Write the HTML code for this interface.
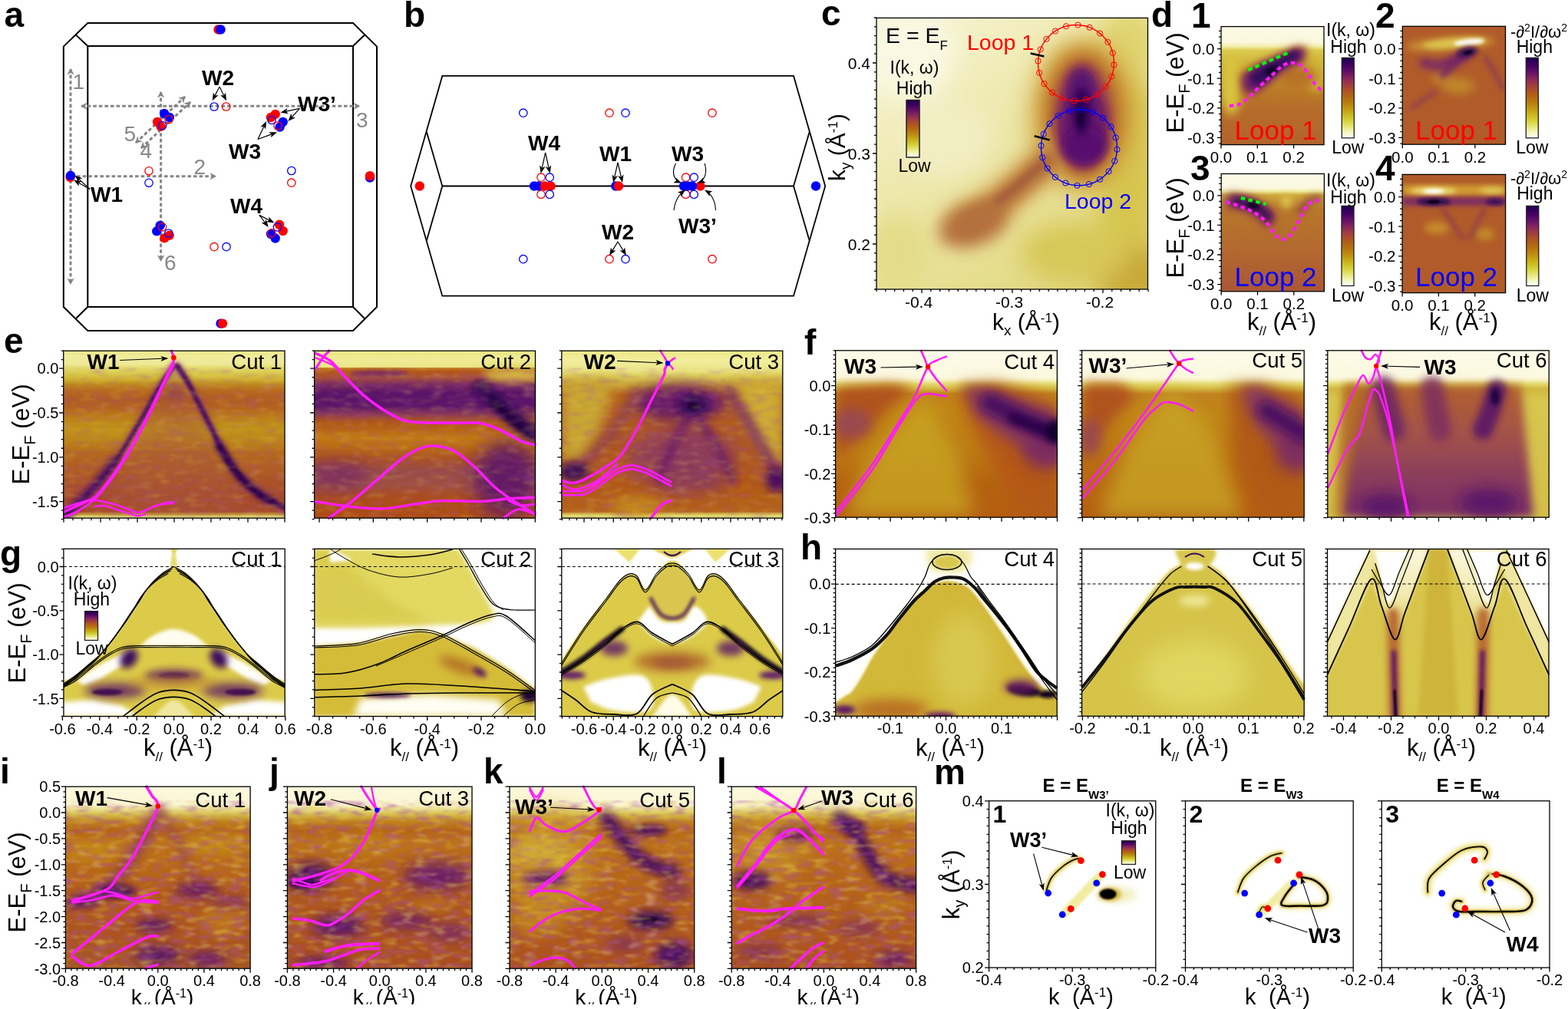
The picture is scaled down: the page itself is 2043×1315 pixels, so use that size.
<!DOCTYPE html>
<html><head><meta charset="utf-8"><title>Figure</title>
<style>html,body{margin:0;padding:0;background:#fff;width:2043px;height:1315px;overflow:hidden}svg{display:block}</style>
</head><body>
<svg width="2043" height="1315" viewBox="0 0 2043 1315" font-family="Liberation Sans, Arial, sans-serif">
<defs>
<linearGradient id="cb" x1="0" y1="0" x2="0" y2="1"><stop offset="0" stop-color="#1e0050"/><stop offset="0.05" stop-color="#300059"/><stop offset="0.1" stop-color="#430261"/><stop offset="0.15" stop-color="#580a67"/><stop offset="0.2" stop-color="#6d1566"/><stop offset="0.25" stop-color="#83245e"/><stop offset="0.3" stop-color="#95324f"/><stop offset="0.35" stop-color="#a33f3e"/><stop offset="0.4" stop-color="#ab4e2a"/><stop offset="0.45" stop-color="#b15d19"/><stop offset="0.5" stop-color="#b56a13"/><stop offset="0.55" stop-color="#ba7910"/><stop offset="0.6" stop-color="#be8b10"/><stop offset="0.65" stop-color="#c39f13"/><stop offset="0.7" stop-color="#c9b419"/><stop offset="0.75" stop-color="#d0c52c"/><stop offset="0.8" stop-color="#d8d642"/><stop offset="0.85" stop-color="#e4e470"/><stop offset="0.9" stop-color="#efefa0"/><stop offset="0.95" stop-color="#f8f8d1"/><stop offset="1" stop-color="#ffffff"/></linearGradient>
<filter id="b0_6" filterUnits="userSpaceOnUse" x="0" y="0" width="2043" height="1315"><feGaussianBlur stdDeviation="0.6"/></filter>
<filter id="b1" filterUnits="userSpaceOnUse" x="0" y="0" width="2043" height="1315"><feGaussianBlur stdDeviation="1"/></filter>
<filter id="b1_5" filterUnits="userSpaceOnUse" x="0" y="0" width="2043" height="1315"><feGaussianBlur stdDeviation="1.5"/></filter>
<filter id="b2" filterUnits="userSpaceOnUse" x="0" y="0" width="2043" height="1315"><feGaussianBlur stdDeviation="2"/></filter>
<filter id="b3" filterUnits="userSpaceOnUse" x="0" y="0" width="2043" height="1315"><feGaussianBlur stdDeviation="3"/></filter>
<filter id="b4" filterUnits="userSpaceOnUse" x="0" y="0" width="2043" height="1315"><feGaussianBlur stdDeviation="4"/></filter>
<filter id="b5" filterUnits="userSpaceOnUse" x="0" y="0" width="2043" height="1315"><feGaussianBlur stdDeviation="5"/></filter>
<filter id="b6" filterUnits="userSpaceOnUse" x="0" y="0" width="2043" height="1315"><feGaussianBlur stdDeviation="6"/></filter>
<filter id="b8" filterUnits="userSpaceOnUse" x="0" y="0" width="2043" height="1315"><feGaussianBlur stdDeviation="8"/></filter>
<filter id="b10" filterUnits="userSpaceOnUse" x="0" y="0" width="2043" height="1315"><feGaussianBlur stdDeviation="10"/></filter>
<filter id="b12" filterUnits="userSpaceOnUse" x="0" y="0" width="2043" height="1315"><feGaussianBlur stdDeviation="12"/></filter>
<filter id="b15" filterUnits="userSpaceOnUse" x="0" y="0" width="2043" height="1315"><feGaussianBlur stdDeviation="15"/></filter>
<filter id="b20" filterUnits="userSpaceOnUse" x="0" y="0" width="2043" height="1315"><feGaussianBlur stdDeviation="20"/></filter>
<marker id="ah" viewBox="0 0 10 10" refX="9" refY="5" markerWidth="7" markerHeight="7" orient="auto-start-reverse"><path d="M0 0L10 5L0 10L3 5z" fill="#000"/></marker>
<marker id="ahg" viewBox="0 0 10 10" refX="8" refY="5" markerWidth="3.3" markerHeight="3.3" orient="auto-start-reverse"><path d="M0 0L10 5L0 10L3 5z" fill="#808080"/></marker>
<filter id="nzd" ><feTurbulence type="fractalNoise" baseFrequency="0.05 0.16" numOctaves="2" seed="7" result="t"/><feColorMatrix in="t" type="matrix" values="0 0 0 0 0.4  0 0 0 0 0.08  0 0 0 0 0.36  2.1 0 0 0 -1.0" result="c"/><feGaussianBlur in="c" stdDeviation="1.3"/></filter>
<filter id="nzl" ><feTurbulence type="fractalNoise" baseFrequency="0.05 0.16" numOctaves="2" seed="7" result="t"/><feColorMatrix in="t" type="matrix" values="0 0 0 0 0.78  0 0 0 0 0.6  0 0 0 0 0.1  0 1.8 0 0 -0.92" result="c"/><feGaussianBlur in="c" stdDeviation="1.3"/></filter>
<clipPath id="cp1"><rect x="1142" y="23.4" width="353.5" height="353.6"/></clipPath>
<linearGradient id="g1" x1="0" y1="0" x2="0.7" y2="1"><stop offset="0" stop-color="#f8f6da"/><stop offset="0.4" stop-color="#efeab2"/><stop offset="1" stop-color="#e2d880"/></linearGradient>
<filter id="b16" filterUnits="userSpaceOnUse" x="0" y="0" width="2043" height="1315"><feGaussianBlur stdDeviation="16"/></filter>
<filter id="b11" filterUnits="userSpaceOnUse" x="0" y="0" width="2043" height="1315"><feGaussianBlur stdDeviation="11"/></filter>
<filter id="b7" filterUnits="userSpaceOnUse" x="0" y="0" width="2043" height="1315"><feGaussianBlur stdDeviation="7"/></filter>
<clipPath id="cp2"><rect x="1591" y="34.6" width="134" height="154"/></clipPath>
<linearGradient id="g2" x1="0" y1="0" x2="0" y2="1"><stop offset="0" stop-color="#fcfae6"/><stop offset="0.13" stop-color="#fbf8dc"/><stop offset="0.17" stop-color="#f2eca8"/><stop offset="0.2" stop-color="#dccc50"/><stop offset="0.35" stop-color="#ccac30"/><stop offset="0.55" stop-color="#ba7a28"/><stop offset="0.7" stop-color="#b66c2a"/><stop offset="1" stop-color="#b2642c"/></linearGradient>
<filter id="b2_5" filterUnits="userSpaceOnUse" x="0" y="0" width="2043" height="1315"><feGaussianBlur stdDeviation="2.5"/></filter>
<clipPath id="cp3"><rect x="1827.3" y="34.3" width="134.2" height="153.9"/></clipPath>
<filter id="b1_2" filterUnits="userSpaceOnUse" x="0" y="0" width="2043" height="1315"><feGaussianBlur stdDeviation="1.2"/></filter>
<clipPath id="cp4"><rect x="1591.2" y="226.5" width="134.2" height="153.3"/></clipPath>
<linearGradient id="g3" x1="0" y1="0" x2="0" y2="1"><stop offset="0" stop-color="#fcfae6"/><stop offset="0.12" stop-color="#fbf8e0"/><stop offset="0.15" stop-color="#f0ea9c"/><stop offset="0.18" stop-color="#cfa83a"/><stop offset="0.3" stop-color="#b8782a"/><stop offset="0.7" stop-color="#b26630"/><stop offset="1" stop-color="#aa5636"/></linearGradient>
<clipPath id="cp5"><rect x="1827.1" y="227.4" width="134.5" height="154.2"/></clipPath>
<clipPath id="cp6"><rect x="82.7" y="457.2" width="288.3" height="218"/></clipPath>
<linearGradient id="g4" x1="0" y1="0" x2="0" y2="1"><stop offset="0" stop-color="#ebe78a"/><stop offset="0.04" stop-color="#f0ec9c"/><stop offset="0.08" stop-color="#eee896"/><stop offset="0.1" stop-color="#e4dc70"/><stop offset="0.14" stop-color="#d8c848"/><stop offset="0.17" stop-color="#d0b432"/><stop offset="0.2" stop-color="#c08a1e"/><stop offset="0.24" stop-color="#b86a1e"/><stop offset="0.29" stop-color="#b05c22"/><stop offset="0.34" stop-color="#b4641e"/><stop offset="0.4" stop-color="#bc8018"/><stop offset="0.47" stop-color="#c09418"/><stop offset="0.54" stop-color="#bc8418"/><stop offset="0.61" stop-color="#b46a1e"/><stop offset="0.7" stop-color="#b05e22"/><stop offset="0.79" stop-color="#aa5228"/><stop offset="0.88" stop-color="#a64a2c"/><stop offset="0.96" stop-color="#a84c2c"/><stop offset="0.98" stop-color="#c8a040"/><stop offset="0.99" stop-color="#e0d878"/><stop offset="1" stop-color="#e8e290"/></linearGradient>
<clipPath id="cp7"><rect x="409.6" y="457.2" width="287.9" height="218"/></clipPath>
<linearGradient id="g5" x1="0" y1="0" x2="0" y2="1"><stop offset="0" stop-color="#eae682"/><stop offset="0.05" stop-color="#f0ec96"/><stop offset="0.1" stop-color="#ebe587"/><stop offset="0.1" stop-color="#c58c26"/><stop offset="0.12" stop-color="#b55814"/><stop offset="0.16" stop-color="#a85038"/><stop offset="0.2" stop-color="#7a2a60"/><stop offset="0.25" stop-color="#5a1468"/><stop offset="0.33" stop-color="#5a1468"/><stop offset="0.38" stop-color="#8a3a58"/><stop offset="0.42" stop-color="#ad541c"/><stop offset="0.48" stop-color="#b96914"/><stop offset="0.52" stop-color="#c17915"/><stop offset="0.58" stop-color="#b96914"/><stop offset="0.65" stop-color="#a95125"/><stop offset="0.72" stop-color="#984a48"/><stop offset="0.8" stop-color="#a05040"/><stop offset="0.9" stop-color="#ad4d17"/><stop offset="1" stop-color="#ad4d17"/></linearGradient>
<clipPath id="cp8"><rect x="731.8" y="457.2" width="288" height="218"/></clipPath>
<linearGradient id="g6" x1="0" y1="0" x2="0" y2="1"><stop offset="0" stop-color="#ece888"/><stop offset="0.06" stop-color="#f2ee9e"/><stop offset="0.12" stop-color="#eae484"/><stop offset="0.15" stop-color="#dcd05a"/><stop offset="0.2" stop-color="#c8a436"/><stop offset="0.26" stop-color="#b56419"/><stop offset="0.5" stop-color="#b15a20"/><stop offset="0.8" stop-color="#b15917"/><stop offset="0.96" stop-color="#b56219"/><stop offset="0.98" stop-color="#dcd060"/><stop offset="1" stop-color="#eae488"/></linearGradient>
<clipPath id="cp9"><rect x="1088.6" y="456.8" width="288.8" height="217.4"/></clipPath>
<linearGradient id="g7" x1="0" y1="0" x2="0" y2="1"><stop offset="0" stop-color="#fdfbe8"/><stop offset="0.16" stop-color="#fcf9e0"/><stop offset="0.18" stop-color="#f4f0b8"/><stop offset="0.2" stop-color="#e4da70"/><stop offset="0.23" stop-color="#d2b840"/><stop offset="0.26" stop-color="#c1811e"/><stop offset="0.35" stop-color="#c18517"/><stop offset="0.6" stop-color="#bd7c15"/><stop offset="0.8" stop-color="#b56310"/><stop offset="1" stop-color="#b55d12"/></linearGradient>
<clipPath id="cp10"><rect x="1409.6" y="456.8" width="289.6" height="217.4"/></clipPath>
<linearGradient id="g8" x1="0" y1="0" x2="0" y2="1"><stop offset="0" stop-color="#fdfbe8"/><stop offset="0.16" stop-color="#fcf9e0"/><stop offset="0.18" stop-color="#f4f0b8"/><stop offset="0.2" stop-color="#e4da70"/><stop offset="0.23" stop-color="#d2b840"/><stop offset="0.26" stop-color="#c18320"/><stop offset="0.4" stop-color="#c18517"/><stop offset="0.7" stop-color="#b96d11"/><stop offset="1" stop-color="#b55d12"/></linearGradient>
<clipPath id="cp11"><rect x="1729.8" y="456.8" width="288.4" height="217.4"/></clipPath>
<linearGradient id="g9" x1="0" y1="0" x2="0" y2="1"><stop offset="0" stop-color="#fdfbe8"/><stop offset="0.16" stop-color="#fcf9e0"/><stop offset="0.18" stop-color="#f4f0b8"/><stop offset="0.2" stop-color="#e4da70"/><stop offset="0.23" stop-color="#d2b840"/><stop offset="0.3" stop-color="#d8c64e"/><stop offset="1" stop-color="#d4be48"/></linearGradient>
<linearGradient id="g10" x1="0" y1="0" x2="0" y2="1"><stop offset="0" stop-color="#b1602d"/><stop offset="0.35" stop-color="#a45448"/><stop offset="0.7" stop-color="#8a3c5c"/><stop offset="1" stop-color="#7a2e64"/></linearGradient>
<filter id="b9" filterUnits="userSpaceOnUse" x="0" y="0" width="2043" height="1315"><feGaussianBlur stdDeviation="9"/></filter>
<clipPath id="cp12"><rect x="82.9" y="715.3" width="288.3" height="218.3"/></clipPath>
<clipPath id="cp13"><rect x="409.8" y="715.3" width="287.5" height="218.3"/></clipPath>
<clipPath id="cp14"><rect x="731.8" y="715.3" width="288" height="218.3"/></clipPath>
<clipPath id="cp15"><rect x="1088.6" y="715.5" width="288.6" height="217.8"/></clipPath>
<clipPath id="cp16"><rect x="1409.6" y="715.5" width="289.6" height="217.8"/></clipPath>
<filter id="b14" filterUnits="userSpaceOnUse" x="0" y="0" width="2043" height="1315"><feGaussianBlur stdDeviation="14"/></filter>
<clipPath id="cp17"><rect x="1729.5" y="715.5" width="288.5" height="217.8"/></clipPath>
<linearGradient id="g11" x1="0" y1="0" x2="0" y2="1"><stop offset="0" stop-color="#fbf7e0"/><stop offset="0.5" stop-color="#f2eab0"/><stop offset="1" stop-color="#dccc58"/></linearGradient>
<clipPath id="cp18"><rect x="85.4" y="1025.2" width="240.7" height="237"/></clipPath>
<linearGradient id="g12" x1="0" y1="0" x2="0" y2="1"><stop offset="0" stop-color="#fcf8dc"/><stop offset="0.1" stop-color="#fbf6d2"/><stop offset="0.12" stop-color="#eee49a"/><stop offset="0.15" stop-color="#d8c450"/><stop offset="0.19" stop-color="#c1851e"/><stop offset="0.24" stop-color="#b56416"/><stop offset="0.3" stop-color="#bd7418"/><stop offset="0.45" stop-color="#b96916"/><stop offset="0.6" stop-color="#b15a1b"/><stop offset="0.8" stop-color="#ad541e"/><stop offset="1" stop-color="#a5561f"/></linearGradient>
<clipPath id="cp19"><rect x="165.75" y="1280" width="100" height="29"/></clipPath>
<clipPath id="cp20"><rect x="374.4" y="1025.2" width="240.6" height="237"/></clipPath>
<linearGradient id="g13" x1="0" y1="0" x2="0" y2="1"><stop offset="0" stop-color="#fcf8dc"/><stop offset="0.1" stop-color="#fbf6d2"/><stop offset="0.12" stop-color="#eee49a"/><stop offset="0.15" stop-color="#d8c450"/><stop offset="0.19" stop-color="#c1851e"/><stop offset="0.24" stop-color="#b56416"/><stop offset="0.3" stop-color="#bd7418"/><stop offset="0.45" stop-color="#b56416"/><stop offset="0.6" stop-color="#b15a1b"/><stop offset="0.8" stop-color="#ad541e"/><stop offset="1" stop-color="#a94e1e"/></linearGradient>
<clipPath id="cp21"><rect x="454.7" y="1280" width="100" height="29"/></clipPath>
<clipPath id="cp22"><rect x="664" y="1025.2" width="240.7" height="237"/></clipPath>
<linearGradient id="g14" x1="0" y1="0" x2="0" y2="1"><stop offset="0" stop-color="#fcf8dc"/><stop offset="0.1" stop-color="#fbf6d2"/><stop offset="0.12" stop-color="#eee49a"/><stop offset="0.15" stop-color="#d8c450"/><stop offset="0.19" stop-color="#c1851e"/><stop offset="0.24" stop-color="#b56416"/><stop offset="0.3" stop-color="#bd7418"/><stop offset="0.45" stop-color="#b96916"/><stop offset="0.6" stop-color="#b56219"/><stop offset="0.8" stop-color="#b15a1b"/><stop offset="1" stop-color="#ab501e"/></linearGradient>
<clipPath id="cp23"><rect x="744.35" y="1280" width="100" height="29"/></clipPath>
<clipPath id="cp24"><rect x="953.2" y="1025.2" width="240.4" height="237"/></clipPath>
<linearGradient id="g15" x1="0" y1="0" x2="0" y2="1"><stop offset="0" stop-color="#fcf8dc"/><stop offset="0.1" stop-color="#fbf6d2"/><stop offset="0.12" stop-color="#eee49a"/><stop offset="0.15" stop-color="#d8c450"/><stop offset="0.19" stop-color="#c1851e"/><stop offset="0.24" stop-color="#b56416"/><stop offset="0.3" stop-color="#bd7418"/><stop offset="0.45" stop-color="#b96916"/><stop offset="0.6" stop-color="#b56219"/><stop offset="0.8" stop-color="#b15a1b"/><stop offset="1" stop-color="#ab501e"/></linearGradient>
<clipPath id="cp25"><rect x="1033.4" y="1280" width="100" height="29"/></clipPath>
<clipPath id="cp26"><rect x="1288.6" y="1043.8" width="217.2" height="217.3"/></clipPath>
<clipPath id="cp27"><rect x="1544.5" y="1043.8" width="218.7" height="217.3"/></clipPath>
<clipPath id="cp28"><rect x="1800.3" y="1043.8" width="218.7" height="217.3"/></clipPath>
</defs>
<rect width="2043" height="1315" fill="#fff"/>
<text x="5.5" y="35" font-size="46" font-weight="bold" >a</text>
<g fill="none" stroke="#000" stroke-width="2.0" stroke-linejoin="miter">
<path d="M114.3 30.1H460L491 60.6V400L460 431H114.3L82.8 400V60.6Z"/>
<rect x="114.3" y="60" width="345.7" height="340"/>
<path d="M98.6 45.3L114.3 60M475.4 45.3L460 60M475.4 415.5L460 400M98.6 415.5L114.3 400"/>
</g>
<path d="M92 90L92 370" stroke="#858585" stroke-width="3" stroke-dasharray="4.6 3" fill="none"/><path d="M92 371L87.2 362.5L92 365.05L96.8 362.5z" fill="#858585"/><path d="M92 89L96.8 97.5L92 94.95L87.2 97.5z" fill="#858585"/>
<path d="M106 138.2L468 138.2" stroke="#858585" stroke-width="3" stroke-dasharray="4.6 3" fill="none"/><path d="M469 138.2L460.5 143L463.05 138.2L460.5 133.4z" fill="#858585"/><path d="M105 138.2L113.5 133.4L110.95 138.2L113.5 143z" fill="#858585"/>
<path d="M100 229.7L281 229.7" stroke="#858585" stroke-width="3" stroke-dasharray="4.6 3" fill="none"/><path d="M282 229.7L273.5 234.5L276.05 229.7L273.5 224.9z" fill="#858585"/>
<path d="M209.6 120L209.6 340" stroke="#858585" stroke-width="3" stroke-dasharray="4.6 3" fill="none"/><path d="M209.6 341L204.8 332.5L209.6 335.05L214.4 332.5z" fill="#858585"/><path d="M209.6 119L214.4 127.5L209.6 124.95L204.8 127.5z" fill="#858585"/>
<path d="M177 186L241 126" stroke="#858585" stroke-width="3" stroke-dasharray="4.6 3" fill="none"/><path d="M241.73 125.32L238.81 134.63L237.39 129.39L232.25 127.63z" fill="#858585"/><path d="M176.27 186.68L179.19 177.37L180.61 182.61L185.75 184.37z" fill="#858585"/>
<path d="M184 193L248 133" stroke="#858585" stroke-width="3" stroke-dasharray="4.6 3" fill="none"/><path d="M248.73 132.32L245.81 141.63L244.39 136.39L239.25 134.63z" fill="#858585"/><path d="M183.27 193.68L186.19 184.37L187.61 189.61L192.75 191.37z" fill="#858585"/>
<text x="94.5" y="116" font-size="28" fill="#888" >1</text>
<text x="464" y="165.5" font-size="28" fill="#888" >3</text>
<text x="252.5" y="226.5" font-size="28" fill="#888" >2</text>
<text x="214" y="352" font-size="28" fill="#888" >6</text>
<text x="161.5" y="184" font-size="28" fill="#888" >5</text>
<text x="182.5" y="206" font-size="28" fill="#888" >4</text>
<circle cx="284.5" cy="38.5" r="6.2" fill="#ff0000"/>
<circle cx="287.5" cy="38.5" r="6.2" fill="#0000ff"/>
<circle cx="287.5" cy="421.6" r="6.2" fill="#0000ff"/>
<circle cx="290" cy="421.6" r="6.2" fill="#ff0000"/>
<circle cx="91.5" cy="231" r="6.2" fill="#ff0000"/>
<circle cx="92" cy="228.8" r="6.2" fill="#0000ff"/>
<circle cx="482" cy="231.5" r="6.2" fill="#0000ff"/>
<circle cx="482" cy="229.2" r="6.2" fill="#ff0000"/>
<circle cx="214.1" cy="148" r="6.2" fill="#0000ff"/>
<circle cx="220.8" cy="153" r="6.2" fill="#0000ff"/>
<circle cx="205" cy="159" r="6.2" fill="#ff0000"/>
<circle cx="209.5" cy="164.8" r="6.2" fill="#ff0000"/>
<circle cx="220" cy="155.6" r="5.2" fill="none" stroke="#ff0000" stroke-width="1.3"/>
<circle cx="211.6" cy="163.6" r="5.2" fill="none" stroke="#0000ff" stroke-width="1.3"/>
<circle cx="358.7" cy="148.9" r="6.2" fill="#ff0000"/>
<circle cx="352.9" cy="153" r="6.2" fill="#ff0000"/>
<circle cx="368.7" cy="159" r="6.2" fill="#0000ff"/>
<circle cx="364.6" cy="165.6" r="6.2" fill="#0000ff"/>
<circle cx="354" cy="156.4" r="5.2" fill="none" stroke="#0000ff" stroke-width="1.3"/>
<circle cx="362" cy="164" r="5.2" fill="none" stroke="#ff0000" stroke-width="1.3"/>
<circle cx="208.7" cy="294" r="6.2" fill="#0000ff"/>
<circle cx="204.2" cy="301.3" r="6.2" fill="#0000ff"/>
<circle cx="220.6" cy="306.8" r="6.2" fill="#ff0000"/>
<circle cx="214.2" cy="310.4" r="6.2" fill="#ff0000"/>
<circle cx="211.5" cy="295.8" r="5.2" fill="none" stroke="#ff0000" stroke-width="1.3"/>
<circle cx="219.7" cy="304" r="5.2" fill="none" stroke="#0000ff" stroke-width="1.3"/>
<circle cx="364" cy="292.8" r="6.2" fill="#ff0000"/>
<circle cx="368.7" cy="301" r="6.2" fill="#ff0000"/>
<circle cx="353" cy="305" r="6.2" fill="#0000ff"/>
<circle cx="358.7" cy="310.5" r="6.2" fill="#0000ff"/>
<circle cx="361.4" cy="296" r="5.2" fill="none" stroke="#0000ff" stroke-width="1.3"/>
<circle cx="353.7" cy="303.8" r="5.2" fill="none" stroke="#ff0000" stroke-width="1.3"/>
<circle cx="279" cy="139" r="5.2" fill="none" stroke="#0000ff" stroke-width="1.3"/>
<circle cx="294.6" cy="139" r="5.2" fill="none" stroke="#ff0000" stroke-width="1.3"/>
<circle cx="194" cy="222.8" r="5.2" fill="none" stroke="#ff0000" stroke-width="1.3"/>
<circle cx="194" cy="238.3" r="5.2" fill="none" stroke="#0000ff" stroke-width="1.3"/>
<circle cx="379.8" cy="222.5" r="5.2" fill="none" stroke="#0000ff" stroke-width="1.3"/>
<circle cx="379.8" cy="238.2" r="5.2" fill="none" stroke="#ff0000" stroke-width="1.3"/>
<circle cx="279" cy="321.7" r="5.2" fill="none" stroke="#ff0000" stroke-width="1.3"/>
<circle cx="295" cy="321.7" r="5.2" fill="none" stroke="#0000ff" stroke-width="1.3"/>
<text x="263" y="111" font-size="28" font-weight="bold" >W2</text>
<path d="M286 113L280.1 124.61" stroke="#000" stroke-width="1.2" fill="none"/><path d="M276.7 131.3L277.84 120.66L280.1 124.61L284.62 124.11z" fill="#000"/>
<path d="M286 113L291.69 124.57" stroke="#000" stroke-width="1.2" fill="none"/><path d="M295 131.3L287.18 124L291.69 124.57L294 120.65z" fill="#000"/>
<text x="388" y="145" font-size="28" font-weight="bold" >W3&#8217;</text>
<path d="M390.5 141.4L372.74 145.15" stroke="#000" stroke-width="1.2" fill="none"/><path d="M365.4 146.7L374.4 140.92L372.74 145.15L375.97 148.35z" fill="#000"/>
<path d="M390.5 141.4L380.45 152.45" stroke="#000" stroke-width="1.2" fill="none"/><path d="M375.4 158L379.32 148.05L380.45 152.45L384.94 153.16z" fill="#000"/>
<text x="298" y="206.6" font-size="28" font-weight="bold" >W3</text>
<path d="M336 181.5L343.82 164.79" stroke="#000" stroke-width="1.2" fill="none"/><path d="M347 158L346.2 168.67L343.82 164.79L339.32 165.45z" fill="#000"/>
<path d="M336 181.5L353.96 174.89" stroke="#000" stroke-width="1.2" fill="none"/><path d="M361 172.3L352.93 179.32L353.96 174.89L350.3 172.19z" fill="#000"/>
<text x="118" y="263" font-size="28" font-weight="bold" >W1</text>
<path d="M117 246.5L103.01 233.59" stroke="#000" stroke-width="1.2" fill="none"/><path d="M97.5 228.5L107.43 232.49L103.01 233.59L102.27 238.08z" fill="#000"/>
<path d="M117 246.5L102.51 238.22" stroke="#000" stroke-width="1.2" fill="none"/><path d="M96 234.5L106.57 236.16L102.51 238.22L102.8 242.76z" fill="#000"/>
<text x="300" y="277.7" font-size="28" font-weight="bold" >W4</text>
<path d="M338 280.4L345.2 290" stroke="#000" stroke-width="1.2" fill="none"/><path d="M349.7 296L340.66 290.28L345.2 290L346.74 285.72z" fill="#000"/>
<path d="M338 280.4L350.73 286.96" stroke="#000" stroke-width="1.2" fill="none"/><path d="M357.4 290.4L346.77 289.2L350.73 286.96L350.25 282.44z" fill="#000"/>
<text x="526" y="34.5" font-size="46" font-weight="bold" >b</text>
<g fill="none" stroke="#000" stroke-width="1.8" stroke-linejoin="miter">
<path d="M576.3 98.9H1034L1075.2 242.5L1034 385.7H576.3L535.2 242.5Z"/>
<path d="M555.9 171.9L576.3 242.5L555.9 313.4M1054.6 171.9L1034 242.5L1054.6 313.4M576.3 242.5H1034"/>
</g>
<circle cx="546.8" cy="242.5" r="6.2" fill="#ff0000"/>
<circle cx="1063" cy="242.5" r="6.2" fill="#0000ff"/>
<circle cx="681.8" cy="147.2" r="5.2" fill="none" stroke="#0000ff" stroke-width="1.3"/>
<circle cx="681.8" cy="337.7" r="5.2" fill="none" stroke="#0000ff" stroke-width="1.3"/>
<circle cx="794" cy="147.2" r="5.2" fill="none" stroke="#ff0000" stroke-width="1.3"/>
<circle cx="794" cy="337.7" r="5.2" fill="none" stroke="#ff0000" stroke-width="1.3"/>
<circle cx="815" cy="147.2" r="5.2" fill="none" stroke="#0000ff" stroke-width="1.3"/>
<circle cx="815" cy="337.7" r="5.2" fill="none" stroke="#0000ff" stroke-width="1.3"/>
<circle cx="928" cy="147.2" r="5.2" fill="none" stroke="#ff0000" stroke-width="1.3"/>
<circle cx="928" cy="337.7" r="5.2" fill="none" stroke="#ff0000" stroke-width="1.3"/>
<circle cx="696" cy="242.5" r="6.2" fill="#0000ff"/>
<circle cx="702" cy="242.5" r="6.2" fill="#0000ff"/>
<circle cx="710" cy="242.5" r="6.2" fill="#ff0000"/>
<circle cx="717.5" cy="242.5" r="6.2" fill="#ff0000"/>
<circle cx="705" cy="231.2" r="5.2" fill="none" stroke="#ff0000" stroke-width="1.3"/>
<circle cx="716.2" cy="231.2" r="5.2" fill="none" stroke="#0000ff" stroke-width="1.3"/>
<circle cx="705" cy="253.4" r="5.2" fill="none" stroke="#ff0000" stroke-width="1.3"/>
<circle cx="716.2" cy="253.4" r="5.2" fill="none" stroke="#0000ff" stroke-width="1.3"/>
<circle cx="802.3" cy="242.5" r="6.2" fill="#0000ff"/>
<circle cx="806" cy="242.5" r="6.2" fill="#ff0000"/>
<circle cx="893.6" cy="231.2" r="5.2" fill="none" stroke="#ff0000" stroke-width="1.3"/>
<circle cx="904.2" cy="231.2" r="5.2" fill="none" stroke="#0000ff" stroke-width="1.3"/>
<circle cx="893.6" cy="253.4" r="5.2" fill="none" stroke="#ff0000" stroke-width="1.3"/>
<circle cx="904.2" cy="253.4" r="5.2" fill="none" stroke="#0000ff" stroke-width="1.3"/>
<circle cx="891" cy="242.5" r="6.2" fill="#0000ff"/>
<circle cx="896" cy="242.5" r="6.2" fill="#0000ff"/>
<circle cx="912.4" cy="242.5" r="6.2" fill="#ff0000"/>
<circle cx="902" cy="242.5" r="6.2" fill="#0000ff"/>
<text x="688" y="196.2" font-size="28" font-weight="bold" >W4</text>
<path d="M710.6 199L706.23 218.68" stroke="#000" stroke-width="1.2" fill="none"/><path d="M704.6 226L703.06 215.41L706.23 218.68L710.48 217.06z" fill="#000"/>
<path d="M710.6 199L714.97 218.68" stroke="#000" stroke-width="1.2" fill="none"/><path d="M716.6 226L710.72 217.06L714.97 218.68L718.14 215.41z" fill="#000"/>
<text x="781" y="210" font-size="28" font-weight="bold" >W1</text>
<path d="M805 212L800.69 230.69" stroke="#000" stroke-width="1.2" fill="none"/><path d="M799 238L797.55 227.4L800.69 230.69L804.95 229.11z" fill="#000"/>
<path d="M805 212L809.31 230.69" stroke="#000" stroke-width="1.2" fill="none"/><path d="M811 238L805.05 229.11L809.31 230.69L812.45 227.4z" fill="#000"/>
<text x="875" y="210" font-size="28" font-weight="bold" >W3</text>
<path d="M880.5 213Q873 228 884 237" fill="none" stroke="#000" stroke-width="1.1"/><path d="M882 236L881.08 235.62" stroke="#000" stroke-width="1.2" fill="none"/><path d="M888 238.5L877.31 238.16L881.08 235.62L880.23 231.15z" fill="#000"/>
<path d="M918 213Q923 228 913 237" fill="none" stroke="#000" stroke-width="1.1"/><path d="M915 236L915.92 235.62" stroke="#000" stroke-width="1.2" fill="none"/><path d="M909 238.5L916.77 231.15L915.92 235.62L919.69 238.16z" fill="#000"/>
<text x="884" y="304" font-size="28" font-weight="bold" >W3&#8217;</text>
<path d="M878 274Q880 257 891 249" fill="none" stroke="#000" stroke-width="1.1"/><path d="M889 250.5L887 252" stroke="#000" stroke-width="1.2" fill="none"/><path d="M893 247.5L887.28 256.54L887 252L882.72 250.46z" fill="#000"/>
<path d="M932.5 274Q932 258 921 249" fill="none" stroke="#000" stroke-width="1.1"/><path d="M923 250.5L924.43 251.36" stroke="#000" stroke-width="1.2" fill="none"/><path d="M918 247.5L928.53 249.39L924.43 251.36L924.62 255.9z" fill="#000"/>
<text x="784" y="312" font-size="28" font-weight="bold" >W2</text>
<path d="M805 315L797.91 326.6" stroke="#000" stroke-width="1.2" fill="none"/><path d="M794 333L795.97 322.49L797.91 326.6L802.46 326.45z" fill="#000"/>
<path d="M805 315L812.09 326.6" stroke="#000" stroke-width="1.2" fill="none"/><path d="M816 333L807.54 326.45L812.09 326.6L814.03 322.49z" fill="#000"/>
<g clip-path="url(#cp1)">
<rect x="1142" y="23.4" width="353.5" height="353.6" fill="url(#g1)"/>
<g filter="url(#b15)">
<ellipse cx="1185" cy="70" rx="60" ry="60" fill="#faf8e2"/>
<ellipse cx="1230" cy="180" rx="60" ry="50" fill="#f2eec4"/>
<ellipse cx="1470" cy="230" rx="40" ry="150" fill="#d6c650"/>
<ellipse cx="1470" cy="60" rx="40" ry="50" fill="#e0d470"/>
<ellipse cx="1475" cy="360" rx="50" ry="40" fill="#c8a838"/>
<ellipse cx="1400" cy="330" rx="70" ry="40" fill="#d8c858"/>
<ellipse cx="1170" cy="330" rx="40" ry="50" fill="#e4dc88"/>
</g>
<ellipse cx="1412" cy="150" rx="70" ry="100" fill="#d4ae48" filter="url(#b16)"/>
<ellipse cx="1412" cy="150" rx="54" ry="86" fill="#c07a28" filter="url(#b11)"/>
<path d="M1255 292L1300 265L1335 235L1370 205" fill="none" stroke="#cc9a48" stroke-width="44" stroke-linecap="round" stroke-linejoin="round" filter="url(#b12)"/>
<path d="M1262 290L1300 266L1335 236L1368 207" fill="none" stroke="#b4703a" stroke-width="26" stroke-linecap="round" stroke-linejoin="round" filter="url(#b8)"/>
<ellipse cx="1268" cy="293" rx="46" ry="26" fill="#b4703c" filter="url(#b11)" transform="rotate(-18 1268 293)"/>
<path d="M1300 262L1330 238L1360 212" fill="none" stroke="#985040" stroke-width="8" stroke-linecap="round" stroke-linejoin="round" filter="url(#b4)" opacity="0.7"/>
<ellipse cx="1411" cy="152" rx="38" ry="72" fill="#9a3c50" filter="url(#b8)"/>
<ellipse cx="1411" cy="165" rx="32" ry="50" fill="#64186c" filter="url(#b7)"/>
<ellipse cx="1409" cy="118" rx="20" ry="30" fill="#5a1470" filter="url(#b6)"/>
<ellipse cx="1413" cy="190" rx="28" ry="24" fill="#58106e" filter="url(#b6)"/>
<ellipse cx="1409" cy="145" rx="12" ry="32" fill="#360658" filter="url(#b4)"/>
<ellipse cx="1408" cy="152" rx="4" ry="14" fill="#160030" filter="url(#b2)"/>
</g>
<rect x="1142" y="23.4" width="353.5" height="353.6" fill="none" stroke="#000" stroke-width="1.3"/>
<circle cx="1402" cy="82" r="49.5" fill="none" stroke="#ff0000" stroke-width="1.4"/>
<circle cx="1451.44" cy="84.47" r="3.6" fill="none" stroke="#ff0000" stroke-width="1"/>
<circle cx="1448.25" cy="99.63" r="3.6" fill="none" stroke="#ff0000" stroke-width="1"/>
<circle cx="1440.54" cy="113.06" r="3.6" fill="none" stroke="#ff0000" stroke-width="1"/>
<circle cx="1429.06" cy="123.45" r="3.6" fill="none" stroke="#ff0000" stroke-width="1"/>
<circle cx="1414.92" cy="129.78" r="3.6" fill="none" stroke="#ff0000" stroke-width="1"/>
<circle cx="1399.53" cy="131.44" r="3.6" fill="none" stroke="#ff0000" stroke-width="1"/>
<circle cx="1384.37" cy="128.25" r="3.6" fill="none" stroke="#ff0000" stroke-width="1"/>
<circle cx="1370.94" cy="120.54" r="3.6" fill="none" stroke="#ff0000" stroke-width="1"/>
<circle cx="1360.55" cy="109.06" r="3.6" fill="none" stroke="#ff0000" stroke-width="1"/>
<circle cx="1354.22" cy="94.92" r="3.6" fill="none" stroke="#ff0000" stroke-width="1"/>
<circle cx="1352.56" cy="79.53" r="3.6" fill="none" stroke="#ff0000" stroke-width="1"/>
<circle cx="1355.75" cy="64.37" r="3.6" fill="none" stroke="#ff0000" stroke-width="1"/>
<circle cx="1363.46" cy="50.94" r="3.6" fill="none" stroke="#ff0000" stroke-width="1"/>
<circle cx="1374.94" cy="40.55" r="3.6" fill="none" stroke="#ff0000" stroke-width="1"/>
<circle cx="1389.08" cy="34.22" r="3.6" fill="none" stroke="#ff0000" stroke-width="1"/>
<circle cx="1404.47" cy="32.56" r="3.6" fill="none" stroke="#ff0000" stroke-width="1"/>
<circle cx="1419.63" cy="35.75" r="3.6" fill="none" stroke="#ff0000" stroke-width="1"/>
<circle cx="1433.06" cy="43.46" r="3.6" fill="none" stroke="#ff0000" stroke-width="1"/>
<circle cx="1443.45" cy="54.94" r="3.6" fill="none" stroke="#ff0000" stroke-width="1"/>
<circle cx="1449.78" cy="69.08" r="3.6" fill="none" stroke="#ff0000" stroke-width="1"/>
<circle cx="1406" cy="192.3" r="49.5" fill="none" stroke="#0000ff" stroke-width="1.4"/>
<circle cx="1455.44" cy="194.77" r="3.6" fill="none" stroke="#0000ff" stroke-width="1"/>
<circle cx="1452.25" cy="209.93" r="3.6" fill="none" stroke="#0000ff" stroke-width="1"/>
<circle cx="1444.54" cy="223.36" r="3.6" fill="none" stroke="#0000ff" stroke-width="1"/>
<circle cx="1433.06" cy="233.75" r="3.6" fill="none" stroke="#0000ff" stroke-width="1"/>
<circle cx="1418.92" cy="240.08" r="3.6" fill="none" stroke="#0000ff" stroke-width="1"/>
<circle cx="1403.53" cy="241.74" r="3.6" fill="none" stroke="#0000ff" stroke-width="1"/>
<circle cx="1388.37" cy="238.55" r="3.6" fill="none" stroke="#0000ff" stroke-width="1"/>
<circle cx="1374.94" cy="230.84" r="3.6" fill="none" stroke="#0000ff" stroke-width="1"/>
<circle cx="1364.55" cy="219.36" r="3.6" fill="none" stroke="#0000ff" stroke-width="1"/>
<circle cx="1358.22" cy="205.22" r="3.6" fill="none" stroke="#0000ff" stroke-width="1"/>
<circle cx="1356.56" cy="189.83" r="3.6" fill="none" stroke="#0000ff" stroke-width="1"/>
<circle cx="1359.75" cy="174.67" r="3.6" fill="none" stroke="#0000ff" stroke-width="1"/>
<circle cx="1367.46" cy="161.24" r="3.6" fill="none" stroke="#0000ff" stroke-width="1"/>
<circle cx="1378.94" cy="150.85" r="3.6" fill="none" stroke="#0000ff" stroke-width="1"/>
<circle cx="1393.08" cy="144.52" r="3.6" fill="none" stroke="#0000ff" stroke-width="1"/>
<circle cx="1408.47" cy="142.86" r="3.6" fill="none" stroke="#0000ff" stroke-width="1"/>
<circle cx="1423.63" cy="146.05" r="3.6" fill="none" stroke="#0000ff" stroke-width="1"/>
<circle cx="1437.06" cy="153.76" r="3.6" fill="none" stroke="#0000ff" stroke-width="1"/>
<circle cx="1447.45" cy="165.24" r="3.6" fill="none" stroke="#0000ff" stroke-width="1"/>
<circle cx="1453.78" cy="179.38" r="3.6" fill="none" stroke="#0000ff" stroke-width="1"/>
<line x1="1342.7" y1="69.6" x2="1360.4" y2="73.6" stroke="#000" stroke-width="2.6" />
<line x1="1347.7" y1="177.3" x2="1367.7" y2="182.6" stroke="#000" stroke-width="2.6" />
<path d="M1139 377h3M1139 365.2h3M1139 353.4h3M1139 341.6h3M1139 329.8h3M1137 318h5M1139 306.2h3M1139 294.4h3M1139 282.6h3M1139 270.8h3M1139 259h3M1139 247.2h3M1139 235.4h3M1139 223.6h3M1139 211.8h3M1137 200h5M1139 188.2h3M1139 176.4h3M1139 164.6h3M1139 152.8h3M1139 141h3M1139 129.2h3M1139 117.4h3M1139 105.6h3M1139 93.8h3M1137 82h5M1139 70.2h3M1139 58.4h3M1139 46.6h3M1139 34.8h3M1139 23h3" stroke="#000" stroke-width="1.3" fill="none"/>
<text x="1134" y="325.56" font-size="21" text-anchor="end" >0.2</text>
<text x="1134" y="207.56" font-size="21" text-anchor="end" >0.3</text>
<text x="1134" y="89.56" font-size="21" text-anchor="end" >0.4</text>
<path d="M1142 377v3M1153.8 377v3M1165.6 377v3M1177.4 377v3M1189.2 377v3M1201 377v5M1212.8 377v3M1224.6 377v3M1236.4 377v3M1248.2 377v3M1260 377v3M1271.8 377v3M1283.6 377v3M1295.4 377v3M1307.2 377v3M1319 377v5M1330.8 377v3M1342.6 377v3M1354.4 377v3M1366.2 377v3M1378 377v3M1389.8 377v3M1401.6 377v3M1413.4 377v3M1425.2 377v3M1437 377v5M1448.8 377v3M1460.6 377v3M1472.4 377v3M1484.2 377v3M1496 377v3" stroke="#000" stroke-width="1.3" fill="none"/>
<text x="1197" y="401" font-size="21" text-anchor="middle" >-0.4</text>
<text x="1315" y="401" font-size="21" text-anchor="middle" >-0.3</text>
<text x="1433" y="401" font-size="21" text-anchor="middle" >-0.2</text>
<text x="1070" y="33" font-size="46" font-weight="bold" >c</text>
<text x="1154" y="55.9" font-size="28.5" >E = E<tspan font-size="17" dy="9">F</tspan></text>
<text x="1260" y="65.2" font-size="28.5" fill="#ff0000" >Loop 1</text>
<text x="1387" y="271.9" font-size="28.5" fill="#0000ff" >Loop 2</text>
<text x="1191.5" y="95.8" font-size="23" text-anchor="middle" >I(k, &#969;)</text>
<text x="1191.5" y="123" font-size="23" text-anchor="middle" >High</text>
<rect x="1181" y="130.5" width="17" height="74.5" fill="url(#cb)" stroke="#222" stroke-width="1.5"/>
<text x="1191.5" y="224" font-size="23" text-anchor="middle" >Low</text>
<text x="1337" y="430" font-size="30" text-anchor="middle" >k<tspan font-size="19" dy="7">x</tspan><tspan dy="-7"> (&#197;</tspan><tspan font-size="17" dy="-10">-1</tspan><tspan dy="10">)</tspan></text>
<text transform="translate(1101 192) rotate(-90)" font-size="30" text-anchor="middle">k<tspan font-size="19" dy="7">y</tspan><tspan dy="-7"> (&#197;</tspan><tspan font-size="17" dy="-10">-1</tspan><tspan dy="10">)</tspan></text>
<text x="1500" y="35" font-size="46" font-weight="bold" >d</text>
<text x="1552" y="35.5" font-size="46" font-weight="bold" >1</text>
<text x="1792" y="35.5" font-size="46" font-weight="bold" >2</text>
<text x="1551" y="234.5" font-size="46" font-weight="bold" >3</text>
<text x="1792" y="234.5" font-size="46" font-weight="bold" >4</text>
<g clip-path="url(#cp2)">
<rect x="1591" y="34.6" width="134" height="154" fill="url(#g2)"/>
<ellipse cx="1604" cy="110" rx="14" ry="40" fill="#d8c440" filter="url(#b6)"/>
<ellipse cx="1715" cy="95" rx="12" ry="25" fill="#d0b838" filter="url(#b6)"/>
<ellipse cx="1690" cy="100" rx="28" ry="14" fill="#b87028" filter="url(#b7)"/>
<path d="M1614 98L1640 82L1665 71L1690 60L1704 62L1702 80L1690 88L1676 92L1662 104L1648 118L1632 128L1618 124Z" fill="#b06434" filter="url(#b6)"/>
<path d="M1620 98L1640 84L1665 73L1690 62L1700 66L1696 80L1682 86L1668 94L1655 106L1642 116L1628 122L1620 114Z" fill="#6a1a6a" filter="url(#b4)"/>
<path d="M1628 98L1645 87L1667 77L1688 66L1692 74L1678 82L1664 92L1650 104L1636 112Z" fill="#32085a" filter="url(#b3)"/>
<ellipse cx="1657" cy="92" rx="9" ry="5" fill="#0e0026" filter="url(#b2_5)" transform="rotate(-25 1657 92)"/>
</g>
<rect x="1591" y="34.6" width="134" height="154" fill="none" stroke="#000" stroke-width="1.3"/>
<path d="M1588 187.12h3M1586 179.4h5M1588 171.68h3M1588 163.96h3M1588 156.24h3M1588 148.52h3M1586 140.8h5M1588 133.08h3M1588 125.36h3M1588 117.64h3M1588 109.92h3M1586 102.2h5M1588 94.48h3M1588 86.76h3M1588 79.04h3M1588 71.32h3M1586 63.6h5M1588 55.88h3M1588 48.16h3M1588 40.44h3" stroke="#000" stroke-width="1.3" fill="none"/>
<text x="1582.3" y="186.78" font-size="20.5" text-anchor="end" >-0.3</text>
<text x="1582.3" y="148.18" font-size="20.5" text-anchor="end" >-0.2</text>
<text x="1582.3" y="109.58" font-size="20.5" text-anchor="end" >-0.1</text>
<text x="1582.3" y="70.98" font-size="20.5" text-anchor="end" >0.0</text>
<g clip-path="url(#cp3)">
<rect x="1827.3" y="34.3" width="134.2" height="153.9" fill="#b15b2a"/>
<ellipse cx="1890" cy="57" rx="58" ry="9" fill="#c89030" filter="url(#b5)" transform="rotate(-4 1890 57)"/>
<ellipse cx="1895" cy="56" rx="42" ry="6" fill="#dcc450" filter="url(#b3)" transform="rotate(-5 1895 56)"/>
<ellipse cx="1914" cy="55" rx="20" ry="4" fill="#ffffff" filter="url(#b2)" transform="rotate(-6 1914 55)"/>
<ellipse cx="1880" cy="102" rx="14" ry="8" fill="#c0862c" filter="url(#b5)"/>
<ellipse cx="1900" cy="112" rx="22" ry="10" fill="#c0882c" filter="url(#b6)"/>
<path d="M1855 82C1858.33 82.5 1868.33 85.67 1875 85C1881.67 84.33 1888.33 80.83 1895 78C1901.67 75.17 1911.67 69.67 1915 68" fill="none" stroke="#7a2a64" stroke-width="12" stroke-linecap="round" stroke-linejoin="round" filter="url(#b5)"/>
<path d="M1880 98C1882 95.83 1886.67 89.67 1892 85C1897.33 80.33 1908.67 72.5 1912 70" fill="none" stroke="#72206a" stroke-width="9" stroke-linecap="round" stroke-linejoin="round" filter="url(#b4)"/>
<path d="M1935 75C1936.67 77.5 1941.17 83.33 1945 90C1948.83 96.67 1955.83 110.83 1958 115" fill="none" stroke="#8a3a5a" stroke-width="6" stroke-linecap="round" stroke-linejoin="round" filter="url(#b3)" opacity="0.8"/>
<path d="M1840 140C1842.5 138.33 1850 133.33 1855 130C1860 126.67 1867.5 121.67 1870 120" fill="none" stroke="#8a3a5a" stroke-width="6" stroke-linecap="round" stroke-linejoin="round" filter="url(#b3)" opacity="0.7"/>
<ellipse cx="1912" cy="68" rx="14" ry="5" fill="#2a0a50" filter="url(#b3)" transform="rotate(-12 1912 68)"/>
<ellipse cx="1913" cy="68.5" rx="6" ry="2.5" fill="#0a0020" filter="url(#b1_2)" transform="rotate(-15 1913 68.5)"/>
</g>
<rect x="1827.3" y="34.3" width="134.2" height="153.9" fill="none" stroke="#000" stroke-width="1.3"/>
<path d="M1824.3 187.12h3M1822.3 179.4h5M1824.3 171.68h3M1824.3 163.96h3M1824.3 156.24h3M1824.3 148.52h3M1822.3 140.8h5M1824.3 133.08h3M1824.3 125.36h3M1824.3 117.64h3M1824.3 109.92h3M1822.3 102.2h5M1824.3 94.48h3M1824.3 86.76h3M1824.3 79.04h3M1824.3 71.32h3M1822.3 63.6h5M1824.3 55.88h3M1824.3 48.16h3M1824.3 40.44h3" stroke="#000" stroke-width="1.3" fill="none"/>
<text x="1818.6" y="186.78" font-size="20.5" text-anchor="end" >-0.3</text>
<text x="1818.6" y="148.18" font-size="20.5" text-anchor="end" >-0.2</text>
<text x="1818.6" y="109.58" font-size="20.5" text-anchor="end" >-0.1</text>
<text x="1818.6" y="70.98" font-size="20.5" text-anchor="end" >0.0</text>
<g clip-path="url(#cp4)">
<rect x="1591.2" y="226.5" width="134.2" height="153.3" fill="url(#g3)"/>
<ellipse cx="1676" cy="262" rx="7" ry="10" fill="#d8c050" filter="url(#b4)"/>
<path d="M1605 262C1608.33 262.67 1618.83 263.83 1625 266C1631.17 268.17 1637.5 271.83 1642 275C1646.5 278.17 1650.33 283.33 1652 285" fill="none" stroke="#8c3458" stroke-width="20" stroke-linecap="round" stroke-linejoin="round" filter="url(#b6)"/>
<path d="M1610 262C1613 262.67 1622.17 263.83 1628 266C1633.83 268.17 1641 272.17 1645 275C1649 277.83 1650.83 281.67 1652 283" fill="none" stroke="#3e0a5c" stroke-width="12" stroke-linecap="round" stroke-linejoin="round" filter="url(#b4)"/>
<ellipse cx="1633" cy="268" rx="8" ry="5" fill="#100028" filter="url(#b2_5)"/>
<path d="M1695 275C1696.67 272.83 1701.17 264.83 1705 262C1708.83 259.17 1715.83 258.67 1718 258" fill="none" stroke="#8a3a50" stroke-width="10" stroke-linecap="round" stroke-linejoin="round" filter="url(#b4)" opacity="0.7"/>
</g>
<rect x="1591.2" y="226.5" width="134.2" height="153.3" fill="none" stroke="#000" stroke-width="1.3"/>
<path d="M1588.2 378.32h3M1586.2 370.6h5M1588.2 362.88h3M1588.2 355.16h3M1588.2 347.44h3M1588.2 339.72h3M1586.2 332h5M1588.2 324.28h3M1588.2 316.56h3M1588.2 308.84h3M1588.2 301.12h3M1586.2 293.4h5M1588.2 285.68h3M1588.2 277.96h3M1588.2 270.24h3M1588.2 262.52h3M1586.2 254.8h5M1588.2 247.08h3M1588.2 239.36h3M1588.2 231.64h3" stroke="#000" stroke-width="1.3" fill="none"/>
<text x="1582.5" y="377.98" font-size="20.5" text-anchor="end" >-0.3</text>
<text x="1582.5" y="339.38" font-size="20.5" text-anchor="end" >-0.2</text>
<text x="1582.5" y="300.78" font-size="20.5" text-anchor="end" >-0.1</text>
<text x="1582.5" y="262.18" font-size="20.5" text-anchor="end" >0.0</text>
<g clip-path="url(#cp5)">
<rect x="1827.1" y="227.4" width="134.5" height="154.2" fill="#b15b2a"/>
<rect x="1827.1" y="241" width="134.5" height="14" fill="#d09a30" filter="url(#b3)"/>
<ellipse cx="1868" cy="249" rx="30" ry="5" fill="#ecdc70" filter="url(#b3)"/>
<ellipse cx="1868" cy="249.3" rx="14" ry="3.2" fill="#ffffff" filter="url(#b2)"/>
<ellipse cx="1944" cy="248.5" rx="16" ry="4" fill="#e0c858" filter="url(#b3)"/>
<rect x="1827.1" y="257" width="134.5" height="11" fill="#7e2e60" filter="url(#b3)"/>
<ellipse cx="1868" cy="263" rx="22" ry="4.5" fill="#2a0850" filter="url(#b2_5)"/>
<ellipse cx="1868" cy="263" rx="8" ry="2.5" fill="#08001c" filter="url(#b1_2)"/>
<ellipse cx="1948" cy="263" rx="12" ry="4" fill="#3a0c58" filter="url(#b2_5)"/>
<ellipse cx="1872" cy="297" rx="16" ry="8" fill="#c68c2c" filter="url(#b5)"/>
<ellipse cx="1935" cy="305" rx="12" ry="8" fill="#c28a2c" filter="url(#b5)"/>
<path d="M1880 272C1882 275 1887.83 283.67 1892 290C1896.17 296.33 1902.83 306.67 1905 310" fill="none" stroke="#8a3a50" stroke-width="5" stroke-linecap="round" stroke-linejoin="round" filter="url(#b3)" opacity="0.8"/>
<path d="M1935 272C1933.33 275 1928.33 283.67 1925 290C1921.67 296.33 1916.67 306.67 1915 310" fill="none" stroke="#8a3a50" stroke-width="5" stroke-linecap="round" stroke-linejoin="round" filter="url(#b3)" opacity="0.8"/>
</g>
<rect x="1827.1" y="227.4" width="134.5" height="154.2" fill="none" stroke="#000" stroke-width="1.3"/>
<path d="M1824.1 380.12h3M1822.1 372.4h5M1824.1 364.68h3M1824.1 356.96h3M1824.1 349.24h3M1824.1 341.52h3M1822.1 333.8h5M1824.1 326.08h3M1824.1 318.36h3M1824.1 310.64h3M1824.1 302.92h3M1822.1 295.2h5M1824.1 287.48h3M1824.1 279.76h3M1824.1 272.04h3M1824.1 264.32h3M1822.1 256.6h5M1824.1 248.88h3M1824.1 241.16h3M1824.1 233.44h3" stroke="#000" stroke-width="1.3" fill="none"/>
<text x="1818.4" y="379.78" font-size="20.5" text-anchor="end" >-0.3</text>
<text x="1818.4" y="341.18" font-size="20.5" text-anchor="end" >-0.2</text>
<text x="1818.4" y="302.58" font-size="20.5" text-anchor="end" >-0.1</text>
<text x="1818.4" y="263.98" font-size="20.5" text-anchor="end" >0.0</text>
<path d="M1602 138C1603.97 137.72 1609.63 138.13 1613.8 136.3C1617.97 134.47 1622.3 131.05 1627 127C1631.7 122.95 1637.23 116.58 1642 112C1646.77 107.42 1651.38 103.38 1655.6 99.5C1659.82 95.62 1663.68 91.48 1667.3 88.7C1670.92 85.92 1673.95 83.87 1677.3 82.8C1680.65 81.73 1684.05 81.6 1687.4 82.3C1690.75 83 1694.33 84.27 1697.4 87C1700.47 89.73 1703.03 94.8 1705.8 98.7C1708.57 102.6 1711.22 107.05 1714 110.4C1716.78 113.75 1721.08 117.4 1722.5 118.8" fill="none" stroke="#ff1cff" stroke-width="4.2" stroke-dasharray="5.5 4.5"/>
<path d="M1626.3 91.2 L1680.7 67.8" fill="none" stroke="#00ff00" stroke-width="4.2" stroke-dasharray="5.5 4.5"/>
<path d="M1597.6 263C1600.8 264.07 1610.57 266.97 1616.8 269.4C1623.03 271.83 1629.52 274.27 1635 277.6C1640.48 280.93 1645.43 284.83 1649.7 289.4C1653.97 293.97 1657.27 301.28 1660.6 305C1663.93 308.72 1666.8 310.95 1669.7 311.7C1672.6 312.45 1675.28 311.53 1678 309.5C1680.72 307.47 1683.12 304.08 1686 299.5C1688.88 294.92 1692.53 287.18 1695.3 282C1698.07 276.82 1700.15 271.57 1702.6 268.4C1705.05 265.23 1707.27 264.23 1710 263C1712.73 261.77 1717.5 261.33 1719 261" fill="none" stroke="#ff1cff" stroke-width="4.2" stroke-dasharray="5.5 4.5"/>
<path d="M1616.8 258 L1649.7 266" fill="none" stroke="#00ff00" stroke-width="4.2" stroke-dasharray="5.5 4.5"/>
<path d="M1591 188.6v5M1638.3 188.6v5M1685.6 188.6v5" stroke="#000" stroke-width="1.3" fill="none"/>
<text x="1591" y="212.1" font-size="20.5" text-anchor="middle" >0.0</text>
<text x="1638.3" y="212.1" font-size="20.5" text-anchor="middle" >0.1</text>
<text x="1685.6" y="212.1" font-size="20.5" text-anchor="middle" >0.2</text>
<path d="M1827.3 188.2v5M1874.6 188.2v5M1921.9 188.2v5" stroke="#000" stroke-width="1.3" fill="none"/>
<text x="1827.3" y="211.7" font-size="20.5" text-anchor="middle" >0.0</text>
<text x="1874.6" y="211.7" font-size="20.5" text-anchor="middle" >0.1</text>
<text x="1921.9" y="211.7" font-size="20.5" text-anchor="middle" >0.2</text>
<path d="M1591.2 379.8v5M1638.5 379.8v5M1685.8 379.8v5" stroke="#000" stroke-width="1.3" fill="none"/>
<text x="1591.2" y="403.3" font-size="20.5" text-anchor="middle" >0.0</text>
<text x="1638.5" y="403.3" font-size="20.5" text-anchor="middle" >0.1</text>
<text x="1685.8" y="403.3" font-size="20.5" text-anchor="middle" >0.2</text>
<path d="M1827.1 381.6v5M1874.4 381.6v5M1921.7 381.6v5" stroke="#000" stroke-width="1.3" fill="none"/>
<text x="1827.1" y="405.1" font-size="20.5" text-anchor="middle" >0.0</text>
<text x="1874.4" y="405.1" font-size="20.5" text-anchor="middle" >0.1</text>
<text x="1921.7" y="405.1" font-size="20.5" text-anchor="middle" >0.2</text>
<text x="1608.5" y="181.5" font-size="35" fill="#ff0000" >Loop 1</text>
<text x="1844" y="181.5" font-size="35" fill="#ff0000" >Loop 1</text>
<text x="1608.5" y="372.5" font-size="35" fill="#0000ff" >Loop 2</text>
<text x="1844" y="372.5" font-size="35" fill="#0000ff" >Loop 2</text>
<rect x="1748.3" y="75.3" width="16" height="104.5" fill="url(#cb)" stroke="#222" stroke-width="1.3"/>
<text x="1760" y="47" font-size="23" text-anchor="middle" >I(k, &#969;)</text>
<text x="1757" y="68.5" font-size="23" text-anchor="middle" >High</text>
<text x="1756.3" y="200.3" font-size="23" text-anchor="middle" >Low</text>
<rect x="1988.3" y="75.3" width="16" height="104.5" fill="url(#cb)" stroke="#222" stroke-width="1.3"/>
<text x="2042" y="49.4" font-size="22" text-anchor="end" >-<tspan font-style="italic">&#8706;</tspan><tspan font-size="14" dy="-8">2</tspan><tspan dy="8">I/</tspan><tspan font-style="italic">&#8706;</tspan>&#969;<tspan font-size="14" dy="-8">2</tspan></text>
<text x="1999.3" y="69.4" font-size="23" text-anchor="middle" >High</text>
<text x="1996.3" y="200.3" font-size="23" text-anchor="middle" >Low</text>
<rect x="1748" y="268.4" width="16" height="104.1" fill="url(#cb)" stroke="#222" stroke-width="1.3"/>
<text x="1760" y="243" font-size="23" text-anchor="middle" >I(k, &#969;)</text>
<text x="1757" y="264.5" font-size="23" text-anchor="middle" >High</text>
<text x="1756" y="393" font-size="23" text-anchor="middle" >Low</text>
<rect x="1988.8" y="268.4" width="16" height="104.1" fill="url(#cb)" stroke="#222" stroke-width="1.3"/>
<text x="2042" y="240" font-size="22" text-anchor="end" >-<tspan font-style="italic">&#8706;</tspan><tspan font-size="14" dy="-8">2</tspan><tspan dy="8">I/</tspan><tspan font-style="italic">&#8706;</tspan>&#969;<tspan font-size="14" dy="-8">2</tspan></text>
<text x="1999.8" y="260" font-size="23" text-anchor="middle" >High</text>
<text x="1996.8" y="393" font-size="23" text-anchor="middle" >Low</text>
<text transform="translate(1541.5 108) rotate(-90)" font-size="31" text-anchor="middle">E-E<tspan font-size="20" dy="8">F</tspan><tspan dy="-8"> (eV)</tspan></text>
<text transform="translate(1541.5 297) rotate(-90)" font-size="31" text-anchor="middle">E-E<tspan font-size="20" dy="8">F</tspan><tspan dy="-8"> (eV)</tspan></text>
<text x="1670" y="430" font-size="31" text-anchor="middle" >k<tspan font-size="17" dy="7">//</tspan><tspan dy="-7"> (&#197;</tspan><tspan font-size="17" dy="-10">-1</tspan><tspan dy="10">)</tspan></text>
<text x="1907" y="430" font-size="31" text-anchor="middle" >k<tspan font-size="17" dy="7">//</tspan><tspan dy="-7"> (&#197;</tspan><tspan font-size="17" dy="-10">-1</tspan><tspan dy="10">)</tspan></text>
<text x="5" y="460" font-size="46" font-weight="bold" >e</text>
<g clip-path="url(#cp6)">
<rect x="82.7" y="457.2" width="288.3" height="218" fill="url(#g4)"/>
<path d="M226 490L260 540L290 610L310 665L140 665L165 610L195 540Z" fill="#a8583a" filter="url(#b10)" opacity="0.45"/>
<path d="M228 492L243 520L213 520Z" fill="#8a3a58" filter="url(#b5)" opacity="0.6"/>
<path d="M226 477C223.67 480.47 216.37 490.97 212 497.8C207.63 504.63 203.8 510.97 199.8 518C195.8 525.03 191.97 533 188 540C184.03 547 179.75 553.67 176 560C172.25 566.33 170.1 570.67 165.5 578C160.9 585.33 155.52 594.55 148.4 604C141.28 613.45 131.37 625.37 122.8 634.7C114.23 644.03 103.47 653.78 97 660C90.53 666.22 86.17 670 84 672" fill="none" stroke="#8a3a5c" stroke-width="9" stroke-linecap="round" stroke-linejoin="round" filter="url(#b3)" opacity="0.8"/>
<path d="M226 477C223.67 480.47 216.37 490.97 212 497.8C207.63 504.63 203.8 510.97 199.8 518C195.8 525.03 191.97 533 188 540C184.03 547 179.75 553.67 176 560C172.25 566.33 170.1 570.67 165.5 578C160.9 585.33 155.52 594.55 148.4 604C141.28 613.45 131.37 625.37 122.8 634.7C114.23 644.03 103.47 653.78 97 660C90.53 666.22 86.17 670 84 672" fill="none" stroke="#4a0c60" stroke-width="5" stroke-linecap="round" stroke-linejoin="round" filter="url(#b1_5)" opacity="0.9"/>
<path d="M150 600C145.47 605.78 131.63 624.7 122.8 634.7C113.97 644.7 103.47 653.78 97 660C90.53 666.22 86.17 670 84 672" fill="none" stroke="#4a0c60" stroke-width="12" stroke-linecap="round" stroke-linejoin="round" filter="url(#b4)" opacity="0.8"/>
<path d="M231 477C233.22 480.47 239.52 489.48 244.3 497.8C249.08 506.12 254.28 516.37 259.7 526.9C265.12 537.43 271.1 549.6 276.8 561C282.5 572.4 288.2 585.58 293.9 595.3C299.6 605.02 303.87 611.32 311 619.3C318.13 627.28 327.28 636.37 336.7 643.2C346.12 650.03 360.28 656.17 367.5 660.3C374.72 664.43 377.92 666.72 380 668" fill="none" stroke="#8a3a5c" stroke-width="10" stroke-linecap="round" stroke-linejoin="round" filter="url(#b3)" opacity="0.8"/>
<path d="M231 477C233.22 480.47 239.52 489.48 244.3 497.8C249.08 506.12 254.28 516.37 259.7 526.9C265.12 537.43 271.1 549.6 276.8 561C282.5 572.4 288.2 585.58 293.9 595.3C299.6 605.02 303.87 611.32 311 619.3C318.13 627.28 327.28 636.37 336.7 643.2C346.12 650.03 360.28 656.17 367.5 660.3C374.72 664.43 377.92 666.72 380 668" fill="none" stroke="#440a5e" stroke-width="6" stroke-linecap="round" stroke-linejoin="round" filter="url(#b1_5)" opacity="0.9"/>
<path d="M285 580C289.33 586.55 302.38 608.77 311 619.3C319.62 629.83 329.37 637.42 336.7 643.2C344.03 648.98 351.95 652.2 355 654" fill="none" stroke="#2a0648" stroke-width="10" stroke-linecap="round" stroke-linejoin="round" filter="url(#b3)" opacity="0.9"/>
<g opacity="0.4"><rect x="82.7" y="497.2" width="288.3" height="174" filter="url(#nzd)"/><rect x="82.7" y="497.2" width="288.3" height="174" filter="url(#nzl)"/></g>
</g>
<path d="M222.9 456C223.47 457.67 225.87 463.33 226.3 466C226.73 468.67 227.63 466.7 225.5 472C223.37 477.3 217.78 488.65 213.5 497.8C209.22 506.95 204.93 516.37 199.8 526.9C194.67 537.43 188.42 550.17 182.7 561C176.98 571.83 171.22 582.48 165.5 591.9C159.78 601.32 154.1 609.52 148.4 617.5C142.7 625.48 135.57 634.67 131.3 639.8C127.03 644.93 127.07 645.45 122.8 648.3C118.53 651.15 112.33 653.75 105.7 656.9C99.07 660.05 86.78 665.48 83 667.2" fill="none" stroke="#ff1cff" stroke-width="3.4" stroke-linecap="butt" stroke-linejoin="round"/>
<path d="M226.8 475C224.75 479 218.83 490.17 214.5 499C210.17 507.83 205.93 517.5 200.8 528C195.67 538.5 189.42 551.17 183.7 562C177.98 572.83 172.22 583.5 166.5 593C160.78 602.5 155.1 611 149.4 619C143.7 627 136.87 635.5 132.3 641C127.73 646.5 127.38 647.67 122 652C116.62 656.33 106.5 663.33 100 667C93.5 670.67 85.83 672.83 83 674" fill="none" stroke="#ff1cff" stroke-width="2.6" stroke-linecap="butt" stroke-linejoin="round"/>
<path d="M83 662C86.67 660.83 98.37 656.7 105 655C111.63 653.3 115.57 651.47 122.8 651.8C130.03 652.13 141.37 655.13 148.4 657C155.43 658.87 159.87 661.17 165 663C170.13 664.83 175.03 667.67 179.2 668C183.37 668.33 186.57 666.28 190 665C193.43 663.72 195.63 661.8 199.8 660.3C203.97 658.8 210.47 656.85 215 656C219.53 655.15 225 655.33 227 655.2" fill="none" stroke="#ff1cff" stroke-width="2.8" stroke-linecap="butt" stroke-linejoin="round"/>
<path d="M122.8 660.3C124.83 660.08 130.73 658.55 135 659C139.27 659.45 143.4 661.5 148.4 663C153.4 664.5 159.87 666.45 165 668C170.13 669.55 175.03 671.97 179.2 672.3C183.37 672.63 188.2 670.38 190 670" fill="none" stroke="#ff1cff" stroke-width="2.4" stroke-linecap="butt" stroke-linejoin="round"/>
<path d="M215 656C217 655.87 225 655.33 227 655.2" fill="none" stroke="#ff1cff" stroke-width="4" stroke-linecap="butt" stroke-linejoin="round"/>
<rect x="82.7" y="457.2" width="288.3" height="218" fill="none" stroke="#000" stroke-width="1.3"/>
<circle cx="226.3" cy="466.1" r="3.4" fill="#ff0000"/>
<text x="113.5" y="480.7" font-size="28" font-weight="bold" >W1</text>
<path d="M156.1 469.5L211.91 467.3" stroke="#000" stroke-width="1.1" fill="none"/><path d="M219.4 467L209.55 470.89L211.91 467.3L209.27 463.9z" fill="#000"/>
<text x="367" y="480.7" font-size="27.5" text-anchor="end" >Cut 1</text>
<path d="M79.7 676.72h3M79.7 665.16h3M77.2 653.6h5.5M79.7 642.04h3M79.7 630.48h3M79.7 618.92h3M79.7 607.36h3M77.2 595.8h5.5M79.7 584.24h3M79.7 572.68h3M79.7 561.12h3M79.7 549.56h3M77.2 538h5.5M79.7 526.44h3M79.7 514.88h3M79.7 503.32h3M79.7 491.76h3M77.2 480.2h5.5M79.7 468.64h3M79.7 457.08h3" stroke="#000" stroke-width="1.3" fill="none"/>
<text x="76.4" y="660.8" font-size="20" text-anchor="end" >-1.5</text>
<text x="76.4" y="603" font-size="20" text-anchor="end" >-1.0</text>
<text x="76.4" y="545.2" font-size="20" text-anchor="end" >-0.5</text>
<text x="76.4" y="487.4" font-size="20" text-anchor="end" >0.0</text>
<path d="M83 675.2v5.5M95 675.2v3M107 675.2v3M119 675.2v3M131 675.2v5.5M143 675.2v3M155 675.2v3M167 675.2v3M179 675.2v5.5M191 675.2v3M203 675.2v3M215 675.2v3M227 675.2v5.5M239 675.2v3M251 675.2v3M263 675.2v3M275 675.2v5.5M287 675.2v3M299 675.2v3M311 675.2v3M323 675.2v5.5M335 675.2v3M347 675.2v3M359 675.2v3M371 675.2v5.5" stroke="#000" stroke-width="1.3" fill="none"/>
<g clip-path="url(#cp7)">
<rect x="409.6" y="457.2" width="287.9" height="218" fill="url(#g5)"/>
<ellipse cx="668" cy="488" rx="40" ry="9" fill="#d4bc44" filter="url(#b6)"/>
<ellipse cx="495" cy="487" rx="38" ry="4" fill="#7a2a62" filter="url(#b2_5)"/>
<ellipse cx="660" cy="625" rx="42" ry="50" fill="#5c1468" filter="url(#b12)" opacity="0.9"/>
<path d="M627 506C630.83 509.17 642.83 518.5 650 525C657.17 531.5 662.17 538.17 670 545C677.83 551.83 692.5 562.5 697 566" fill="none" stroke="#3a0858" stroke-width="22" stroke-linecap="round" stroke-linejoin="round" filter="url(#b5)"/>
<path d="M640 520C644.17 524.17 656.67 537.83 665 545C673.33 552.17 685.83 560 690 563" fill="none" stroke="#1a0038" stroke-width="10" stroke-linecap="round" stroke-linejoin="round" filter="url(#b3)"/>
<ellipse cx="540" cy="664" rx="60" ry="12" fill="#ad4d17" filter="url(#b8)"/>
<ellipse cx="440" cy="620" rx="40" ry="18" fill="#7a2a62" filter="url(#b10)" opacity="0.8"/>
<g opacity="0.4"><rect x="409.6" y="497.2" width="287.9" height="174" filter="url(#nzd)"/><rect x="409.6" y="497.2" width="287.9" height="174" filter="url(#nzl)"/></g>
</g>
<path d="M410 482.4C411.83 479.67 417.67 470.4 421 466C424.33 461.6 428.5 457.67 430 456" fill="none" stroke="#ff1cff" stroke-width="3.2" stroke-linecap="butt" stroke-linejoin="round"/>
<path d="M410 460C411.83 460.83 417.33 463.08 421 465C424.67 466.92 427.53 467.47 432 471.5C436.47 475.53 440.9 481.97 447.8 489.2C454.7 496.43 464.87 507.48 473.4 514.9C481.93 522.32 490.43 528.28 499 533.7C507.57 539.12 516.23 544.55 524.8 547.4C533.37 550.25 537.87 550.17 550.4 550.8C562.93 551.43 587.17 551.05 600 551.2C612.83 551.35 618.57 550.07 627.4 551.7C636.23 553.33 644.43 557.15 653 561C661.57 564.85 671.3 571.63 678.8 574.8C686.3 577.97 694.8 579.13 698 580" fill="none" stroke="#ff1cff" stroke-width="3.6" stroke-linecap="butt" stroke-linejoin="round"/>
<path d="M410 466C412.17 466.83 418.83 469.17 423 471C427.17 472.83 430.5 473.5 435 477C439.5 480.5 447.5 489.5 450 492" fill="none" stroke="#ff1cff" stroke-width="2.4" stroke-linecap="butt" stroke-linejoin="round"/>
<path d="M427.2 676C432.05 672.53 445.73 663.53 456.3 655.2C466.87 646.87 479.18 635.7 490.6 626C502.02 616.3 514.83 604.12 524.8 597C534.77 589.88 542.7 585.87 550.4 583.3C558.1 580.73 563.87 580.73 571 581.6C578.13 582.47 585.22 583.93 593.2 588.5C601.18 593.07 610.35 601.3 618.9 609C627.45 616.7 635.95 627.28 644.5 634.7C653.05 642.12 661.28 647.52 670.2 653.5C679.12 659.48 693.37 667.75 698 670.6" fill="none" stroke="#ff1cff" stroke-width="3.4" stroke-linecap="butt" stroke-linejoin="round"/>
<path d="M410 653.5C417.72 654.63 441.47 658.73 456.3 660.3C471.13 661.87 484.73 663.47 499 662.9C513.27 662.33 529.07 658.62 541.9 656.9C554.73 655.18 561.75 653.17 576 652.6C590.25 652.03 613.12 653.93 627.4 653.5C641.68 653.07 649.93 650.87 661.7 650C673.47 649.13 691.95 648.58 698 648.3" fill="none" stroke="#ff1cff" stroke-width="3.4" stroke-linecap="butt" stroke-linejoin="round"/>
<path d="M661.7 651.8C664.55 652.93 672.75 657.73 678.8 658.6C684.85 659.47 694.8 657.27 698 657" fill="none" stroke="#ff1cff" stroke-width="3" stroke-linecap="butt" stroke-linejoin="round"/>
<path d="M654.8 676C658.22 673.95 668.1 664.6 675.3 663.7C682.5 662.8 694.22 669.45 698 670.6" fill="none" stroke="#ff1cff" stroke-width="3" stroke-linecap="butt" stroke-linejoin="round"/>
<rect x="409.6" y="457.2" width="287.9" height="218" fill="none" stroke="#000" stroke-width="1.3"/>
<text x="692" y="480.7" font-size="27.5" text-anchor="end" >Cut 2</text>
<path d="M406.6 676.72h3M406.6 665.16h3M404.1 653.6h5.5M406.6 642.04h3M406.6 630.48h3M406.6 618.92h3M406.6 607.36h3M404.1 595.8h5.5M406.6 584.24h3M406.6 572.68h3M406.6 561.12h3M406.6 549.56h3M404.1 538h5.5M406.6 526.44h3M406.6 514.88h3M406.6 503.32h3M406.6 491.76h3M404.1 480.2h5.5M406.6 468.64h3M406.6 457.08h3" stroke="#000" stroke-width="1.3" fill="none"/>
<path d="M416 675.2v5.5M433.58 675.2v3M451.16 675.2v3M468.74 675.2v3M486.32 675.2v5.5M503.91 675.2v3M521.49 675.2v3M539.07 675.2v3M556.65 675.2v5.5M574.23 675.2v3M591.81 675.2v3M609.39 675.2v3M626.98 675.2v5.5M644.56 675.2v3M662.14 675.2v3M679.72 675.2v3M697.3 675.2v5.5" stroke="#000" stroke-width="1.3" fill="none"/>
<g clip-path="url(#cp8)">
<rect x="731.8" y="457.2" width="288" height="218" fill="url(#g6)"/>
<path d="M732 495L800 495L782 560L758 600L732 600Z" fill="#c8a632" filter="url(#b8)"/>
<path d="M1020 495L950 497L975 560L1000 600L1020 610Z" fill="#ceac32" filter="url(#b8)"/>
<ellipse cx="885" cy="525" rx="62" ry="24" fill="#6a1e66" filter="url(#b8)"/>
<ellipse cx="880" cy="600" rx="60" ry="40" fill="#a04a48" filter="url(#b12)" opacity="0.8"/>
<path d="M830 515C825 522.5 810 546.67 800 560C790 573.33 779.67 585.83 770 595C760.33 604.17 746.67 611.67 742 615" fill="none" stroke="#8a3a58" stroke-width="14" stroke-linecap="round" stroke-linejoin="round" filter="url(#b6)" opacity="0.7"/>
<path d="M950 510C954.17 516.67 966.67 535.83 975 550C983.33 564.17 992.5 581.67 1000 595C1007.5 608.33 1016.67 624.17 1020 630" fill="none" stroke="#7a2a62" stroke-width="16" stroke-linecap="round" stroke-linejoin="round" filter="url(#b6)" opacity="0.8"/>
<path d="M900 545L948 640L858 640Z" fill="#8a3a58" filter="url(#b10)" opacity="0.8"/>
<ellipse cx="892" cy="595" rx="72" ry="32" fill="#8a3a5c" filter="url(#b12)" opacity="0.8"/>
<path d="M895 545C891.67 551.67 880.83 571.67 875 585C869.17 598.33 862.5 618.33 860 625" fill="none" stroke="#6a1e66" stroke-width="12" stroke-linecap="round" stroke-linejoin="round" filter="url(#b5)" opacity="0.8"/>
<path d="M910 545C914.17 551.67 927.5 571.67 935 585C942.5 598.33 951.67 618.33 955 625" fill="none" stroke="#6a1e66" stroke-width="12" stroke-linecap="round" stroke-linejoin="round" filter="url(#b5)" opacity="0.8"/>
<ellipse cx="903" cy="528" rx="22" ry="15" fill="#3a0858" filter="url(#b5)"/>
<ellipse cx="903" cy="528.6" rx="6" ry="5" fill="#0a0020" filter="url(#b2_5)"/>
<ellipse cx="748" cy="615" rx="20" ry="12" fill="#3a0858" filter="url(#b6)"/>
<ellipse cx="1012" cy="625" rx="14" ry="16" fill="#4a0c60" filter="url(#b6)"/>
<ellipse cx="830" cy="660" rx="35" ry="12" fill="#c58b1d" filter="url(#b8)"/>
<g opacity="0.4"><rect x="731.8" y="497.2" width="288" height="174" filter="url(#nzd)"/><rect x="731.8" y="497.2" width="288" height="174" filter="url(#nzl)"/></g>
</g>
<path d="M859.7 456C860.75 457.67 864.28 463.08 866 466C867.72 468.92 869.33 472.25 870 473.5" fill="none" stroke="#ff1cff" stroke-width="2.6" stroke-linecap="butt" stroke-linejoin="round"/>
<path d="M880 466C878.83 466.83 874.67 469.75 873 471C871.33 472.25 870.5 473.08 870 473.5" fill="none" stroke="#ff1cff" stroke-width="2.6" stroke-linecap="butt" stroke-linejoin="round"/>
<path d="M870 473.5C870.83 474.25 873.83 476.58 875 478C876.17 479.42 876.67 481.33 877 482" fill="none" stroke="#ff1cff" stroke-width="2.6" stroke-linecap="butt" stroke-linejoin="round"/>
<path d="M870 473.5C869.33 474.92 866.85 479.38 866 482C865.15 484.62 867.93 482.3 864.9 489.2C861.87 496.1 853.5 511.98 847.8 523.4C842.1 534.82 836.98 546.28 830.7 557.7C824.42 569.12 815.82 584.2 810.1 591.9C804.38 599.6 804.38 598.48 796.4 603.9C788.42 609.32 770.75 620.13 762.2 624.4C753.65 628.67 750.3 629.23 745.1 629.5C739.9 629.77 733.35 626.58 731 626" fill="none" stroke="#ff1cff" stroke-width="3.4" stroke-linecap="butt" stroke-linejoin="round"/>
<path d="M731 631.2C733.92 632.33 742.83 637.7 748.5 638C754.17 638.3 759.87 635 765 633C770.13 631 772.63 630.85 779.3 626C785.97 621.15 800.72 607.58 805 603.9" fill="none" stroke="#ff1cff" stroke-width="2.8" stroke-linecap="butt" stroke-linejoin="round"/>
<path d="M731 639.8C736.2 639.67 752.72 641.85 762.2 639C771.68 636.15 780.77 627.37 787.9 622.7C795.03 618.03 799.3 613.72 805 611C810.7 608.28 817.1 606.73 822.1 606.4C827.1 606.07 830.72 607.72 835 609C839.28 610.28 841.12 610.82 847.8 614.1C854.48 617.38 870.55 626.27 875.1 628.7" fill="none" stroke="#ff1cff" stroke-width="2.8" stroke-linecap="butt" stroke-linejoin="round"/>
<path d="M731 645C736.2 644.83 752.72 646.83 762.2 644C771.68 641.17 780.77 632.67 787.9 628C795.03 623.33 799.3 618.77 805 616C810.7 613.23 817.1 611.73 822.1 611.4C827.1 611.07 830.72 612.72 835 614C839.28 615.28 841.12 615.8 847.8 619.1C854.48 622.4 870.55 631.35 875.1 633.8" fill="none" stroke="#ff1cff" stroke-width="2.8" stroke-linecap="butt" stroke-linejoin="round"/>
<path d="M847.8 676C850.08 673.1 856.95 662.63 861.5 658.6C866.05 654.57 872.83 652.93 875.1 651.8" fill="none" stroke="#ff1cff" stroke-width="3.6" stroke-linecap="butt" stroke-linejoin="round"/>
<rect x="731.8" y="457.2" width="288" height="218" fill="none" stroke="#000" stroke-width="1.3"/>
<circle cx="870" cy="473.5" r="3.2" fill="#0000ff"/>
<text x="760.5" y="480.7" font-size="28" font-weight="bold" >W2</text>
<path d="M804.1 470.4L857.01 472.68" stroke="#000" stroke-width="1.1" fill="none"/><path d="M864.5 473L854.36 476.07L857.01 472.68L854.66 469.07z" fill="#000"/>
<text x="1015" y="480.7" font-size="27.5" text-anchor="end" >Cut 3</text>
<path d="M728.8 676.72h3M728.8 665.16h3M726.3 653.6h5.5M728.8 642.04h3M728.8 630.48h3M728.8 618.92h3M728.8 607.36h3M726.3 595.8h5.5M728.8 584.24h3M728.8 572.68h3M728.8 561.12h3M728.8 549.56h3M726.3 538h5.5M728.8 526.44h3M728.8 514.88h3M728.8 503.32h3M728.8 491.76h3M726.3 480.2h5.5M728.8 468.64h3M728.8 457.08h3" stroke="#000" stroke-width="1.3" fill="none"/>
<path d="M732.35 675.2v3M741.9 675.2v3M751.45 675.2v3M761 675.2v5.5M770.55 675.2v3M780.1 675.2v3M789.65 675.2v3M799.2 675.2v5.5M808.75 675.2v3M818.3 675.2v3M827.85 675.2v3M837.4 675.2v5.5M846.95 675.2v3M856.5 675.2v3M866.05 675.2v3M875.6 675.2v5.5M885.15 675.2v3M894.7 675.2v3M904.25 675.2v3M913.8 675.2v5.5M923.35 675.2v3M932.9 675.2v3M942.45 675.2v3M952 675.2v5.5M961.55 675.2v3M971.1 675.2v3M980.65 675.2v3M990.2 675.2v5.5M999.75 675.2v3M1009.3 675.2v3M1018.85 675.2v3" stroke="#000" stroke-width="1.3" fill="none"/>
<text transform="translate(38 566) rotate(-90)" font-size="31" text-anchor="middle">E-E<tspan font-size="20" dy="8">F</tspan><tspan dy="-8"> (eV)</tspan></text>
<text x="1048" y="462" font-size="46" font-weight="bold" >f</text>
<g clip-path="url(#cp9)">
<rect x="1088.6" y="456.8" width="288.8" height="217.4" fill="url(#g7)"/>
<path d="M1090 505L1160 500L1190 505L1160 530L1130 560L1100 590L1089 600Z" fill="#b1531d" filter="url(#b8)"/>
<ellipse cx="1110" cy="552" rx="25" ry="20" fill="#9a4a50" filter="url(#b8)"/>
<path d="M1205 515L1250 600L1270 674L1100 674L1130 600Z" fill="#c8a624" filter="url(#b12)" opacity="0.8"/>
<path d="M1250 505L1300 500L1340 512L1378 530L1378 674L1330 674L1290 600L1260 540Z" fill="#b55919" filter="url(#b10)"/>
<path d="M1255 505L1290 505L1330 520L1378 535L1378 605L1340 590L1300 565L1270 540Z" fill="#8a3a5a" filter="url(#b8)"/>
<ellipse cx="1362" cy="585" rx="30" ry="26" fill="#7a2a62" filter="url(#b10)" opacity="0.9"/>
<path d="M1290 525C1296.67 528.33 1315.33 538.33 1330 545C1344.67 551.67 1370 561.67 1378 565" fill="none" stroke="#4a0c60" stroke-width="26" stroke-linecap="round" stroke-linejoin="round" filter="url(#b7)"/>
<path d="M1320 545C1325 547 1340.33 553.17 1350 557C1359.67 560.83 1373.33 566.17 1378 568" fill="none" stroke="#2a0448" stroke-width="14" stroke-linecap="round" stroke-linejoin="round" filter="url(#b5)"/>
<ellipse cx="1374" cy="562" rx="10" ry="14" fill="#10002a" filter="url(#b4)"/>
</g>
<path d="M1199.6 456C1200.5 458 1203.43 464.33 1205 468C1206.57 471.67 1206.47 473.6 1209 478C1211.53 482.4 1216.05 489.1 1220.2 494.4C1224.35 499.7 1231.62 507.23 1233.9 509.8" fill="none" stroke="#ff1cff" stroke-width="2.6" stroke-linecap="butt" stroke-linejoin="round"/>
<path d="M1089 667.2C1096.88 656.93 1122.7 625 1136.3 605.6C1149.9 586.2 1161.48 565.35 1170.6 550.8C1179.72 536.25 1184.6 530.43 1191 518.3C1197.4 506.17 1204.17 486.05 1209 478C1213.83 469.95 1215.85 472.27 1220 470C1224.15 467.73 1231.58 465.33 1233.9 464.4" fill="none" stroke="#ff1cff" stroke-width="2.6" stroke-linecap="butt" stroke-linejoin="round"/>
<path d="M1089 673C1096.88 662.9 1122.7 631.9 1136.3 612.4C1149.9 592.9 1160.9 571.4 1170.6 556C1180.3 540.6 1188.23 527.13 1194.5 520C1200.77 512.87 1203.63 514.05 1208.2 513.2C1212.77 512.35 1217.62 514.33 1221.9 514.9C1226.18 515.47 1231.9 516.32 1233.9 516.6" fill="none" stroke="#ff1cff" stroke-width="2.6" stroke-linecap="butt" stroke-linejoin="round"/>
<rect x="1088.6" y="456.8" width="288.8" height="217.4" fill="none" stroke="#000" stroke-width="1.3"/>
<circle cx="1209" cy="478" r="3.2" fill="#ff0000"/>
<text x="1100" y="486.7" font-size="28" font-weight="bold" >W3</text>
<path d="M1147.5 479L1195.5 478.14" stroke="#000" stroke-width="1.1" fill="none"/><path d="M1203 478L1193.06 481.68L1195.5 478.14L1192.94 474.68z" fill="#000"/>
<text x="1374" y="480.7" font-size="27.5" text-anchor="end" >Cut 4</text>
<path d="M1083.1 674.6h5.5M1085.6 668.87h3M1085.6 663.14h3M1085.6 657.41h3M1085.6 651.68h3M1085.6 645.95h3M1085.6 640.22h3M1085.6 634.49h3M1085.6 628.76h3M1085.6 623.03h3M1083.1 617.3h5.5M1085.6 611.57h3M1085.6 605.84h3M1085.6 600.11h3M1085.6 594.38h3M1085.6 588.65h3M1085.6 582.92h3M1085.6 577.19h3M1085.6 571.46h3M1085.6 565.73h3M1083.1 560h5.5M1085.6 554.27h3M1085.6 548.54h3M1085.6 542.81h3M1085.6 537.08h3M1085.6 531.35h3M1085.6 525.62h3M1085.6 519.89h3M1085.6 514.16h3M1085.6 508.43h3M1083.1 502.7h5.5M1085.6 496.97h3M1085.6 491.24h3M1085.6 485.51h3M1085.6 479.78h3M1085.6 474.05h3M1085.6 468.32h3M1085.6 462.59h3M1085.6 456.86h3" stroke="#000" stroke-width="1.3" fill="none"/>
<text x="1082.3" y="681.8" font-size="20" text-anchor="end" >-0.3</text>
<text x="1082.3" y="624.5" font-size="20" text-anchor="end" >-0.2</text>
<text x="1082.3" y="567.2" font-size="20" text-anchor="end" >-0.1</text>
<text x="1082.3" y="509.9" font-size="20" text-anchor="end" >0.0</text>
<path d="M1087.5 674.2v5.5M1102 674.2v3M1116.5 674.2v3M1131 674.2v3M1145.5 674.2v3M1160 674.2v5.5M1174.5 674.2v3M1189 674.2v3M1203.5 674.2v3M1218 674.2v3M1232.5 674.2v5.5M1247 674.2v3M1261.5 674.2v3M1276 674.2v3M1290.5 674.2v3M1305 674.2v5.5M1319.5 674.2v3M1334 674.2v3M1348.5 674.2v3M1363 674.2v3M1377.5 674.2v5.5" stroke="#000" stroke-width="1.3" fill="none"/>
<g clip-path="url(#cp10)">
<rect x="1409.6" y="456.8" width="289.6" height="217.4" fill="url(#g8)"/>
<path d="M1411 500L1460 500L1480 515L1440 560L1411 600Z" fill="#b1531d" filter="url(#b8)"/>
<ellipse cx="1420" cy="570" rx="14" ry="25" fill="#9a4a50" filter="url(#b8)"/>
<path d="M1525 505L1580 560L1620 674L1430 674L1470 580Z" fill="#c8a628" filter="url(#b12)" opacity="0.8"/>
<path d="M1600 503L1650 503L1700 520L1700 674L1640 674L1610 600Z" fill="#b15a19" filter="url(#b10)"/>
<path d="M1618 505L1640 503L1670 520L1700 535L1700 610L1670 590L1640 560L1625 535Z" fill="#8a3a5a" filter="url(#b8)"/>
<ellipse cx="1688" cy="590" rx="26" ry="26" fill="#7a2a62" filter="url(#b10)" opacity="0.85"/>
<path d="M1650 535C1654.17 537.5 1666.67 544.83 1675 550C1683.33 555.17 1695.83 563.33 1700 566" fill="none" stroke="#4a0c60" stroke-width="24" stroke-linecap="round" stroke-linejoin="round" filter="url(#b7)"/>
</g>
<path d="M1523.7 456C1524.75 457.67 1527.92 463.05 1530 466C1532.08 468.95 1533.7 471.2 1536.2 473.7C1538.7 476.2 1541.87 478.92 1545 481C1548.13 483.08 1553.33 485.33 1555 486.2" fill="none" stroke="#ff1cff" stroke-width="2.6" stroke-linecap="butt" stroke-linejoin="round"/>
<path d="M1409.6 639.3C1416.63 630.97 1438 606.48 1451.8 589.3C1465.6 572.12 1481.98 550.25 1492.4 536.2C1502.82 522.15 1507 515.42 1514.3 505C1521.6 494.58 1531.08 479.7 1536.2 473.7C1541.32 467.7 1541.87 470.03 1545 469C1548.13 467.97 1553.33 467.75 1555 467.5" fill="none" stroke="#ff1cff" stroke-width="2.6" stroke-linecap="butt" stroke-linejoin="round"/>
<path d="M1409.6 650.2C1416.63 642.13 1438.52 618.72 1451.8 601.8C1465.08 584.88 1480.43 560.17 1489.3 548.7C1498.17 537.23 1500.32 537.07 1505 533C1509.68 528.93 1512.2 525.33 1517.4 524.3C1522.6 523.27 1529.93 524.82 1536.2 526.8C1542.47 528.78 1551.87 534.63 1555 536.2" fill="none" stroke="#ff1cff" stroke-width="2.6" stroke-linecap="butt" stroke-linejoin="round"/>
<rect x="1409.6" y="456.8" width="289.6" height="217.4" fill="none" stroke="#000" stroke-width="1.3"/>
<circle cx="1536.2" cy="473.7" r="3.2" fill="#ff0000"/>
<text x="1418.5" y="486.2" font-size="28" font-weight="bold" >W3&#8217;</text>
<path d="M1467.5 480L1522.53 475.07" stroke="#000" stroke-width="1.1" fill="none"/><path d="M1530 474.4L1520.35 478.78L1522.53 475.07L1519.73 471.81z" fill="#000"/>
<text x="1697" y="479.4" font-size="27.5" text-anchor="end" >Cut 5</text>
<path d="M1404.1 674.6h5.5M1406.6 668.87h3M1406.6 663.14h3M1406.6 657.41h3M1406.6 651.68h3M1406.6 645.95h3M1406.6 640.22h3M1406.6 634.49h3M1406.6 628.76h3M1406.6 623.03h3M1404.1 617.3h5.5M1406.6 611.57h3M1406.6 605.84h3M1406.6 600.11h3M1406.6 594.38h3M1406.6 588.65h3M1406.6 582.92h3M1406.6 577.19h3M1406.6 571.46h3M1406.6 565.73h3M1404.1 560h5.5M1406.6 554.27h3M1406.6 548.54h3M1406.6 542.81h3M1406.6 537.08h3M1406.6 531.35h3M1406.6 525.62h3M1406.6 519.89h3M1406.6 514.16h3M1406.6 508.43h3M1404.1 502.7h5.5M1406.6 496.97h3M1406.6 491.24h3M1406.6 485.51h3M1406.6 479.78h3M1406.6 474.05h3M1406.6 468.32h3M1406.6 462.59h3M1406.6 456.86h3" stroke="#000" stroke-width="1.3" fill="none"/>
<path d="M1410.4 674.2v5.5M1424.82 674.2v3M1439.24 674.2v3M1453.66 674.2v3M1468.08 674.2v3M1482.5 674.2v5.5M1496.92 674.2v3M1511.34 674.2v3M1525.76 674.2v3M1540.18 674.2v3M1554.6 674.2v5.5M1569.02 674.2v3M1583.44 674.2v3M1597.86 674.2v3M1612.28 674.2v3M1626.7 674.2v5.5M1641.12 674.2v3M1655.54 674.2v3M1669.96 674.2v3M1684.38 674.2v3M1698.8 674.2v5.5" stroke="#000" stroke-width="1.3" fill="none"/>
<g clip-path="url(#cp11)">
<rect x="1729.8" y="456.8" width="288.4" height="217.4" fill="url(#g9)"/>
<path d="M1752 502L1982 502L1998 674L1746 674Z" fill="url(#g10)" filter="url(#b6)"/>
<path d="M1752 502L1775 502L1762 600L1750 674L1738 674L1742 600Z" fill="#bd7b1a" filter="url(#b6)" opacity="0.6"/>
<path d="M1802 505C1803 509.17 1805.67 520.83 1808 530C1810.33 539.17 1814.67 555 1816 560" fill="none" stroke="#6a2066" stroke-width="30" stroke-linecap="round" stroke-linejoin="round" filter="url(#b6)" opacity="0.85"/>
<path d="M1866 505C1866.67 509.17 1868.33 520.83 1870 530C1871.67 539.17 1875 555 1876 560" fill="none" stroke="#7a2a62" stroke-width="30" stroke-linecap="round" stroke-linejoin="round" filter="url(#b6)" opacity="0.8"/>
<path d="M1950 508C1948.67 512.5 1945 526.33 1942 535C1939 543.67 1933.67 555.83 1932 560" fill="none" stroke="#5a1468" stroke-width="26" stroke-linecap="round" stroke-linejoin="round" filter="url(#b5)" opacity="0.9"/>
<ellipse cx="1948" cy="517" rx="6" ry="12" fill="#1e0440" filter="url(#b3)"/>
<ellipse cx="1805" cy="660" rx="34" ry="16" fill="#5a1468" filter="url(#b9)"/>
<ellipse cx="1940" cy="655" rx="38" ry="18" fill="#5a1468" filter="url(#b9)"/>
</g>
<path d="M1773.5 456C1774.42 457.67 1776.92 464 1779 466C1781.08 468 1783.83 468.67 1786 468C1788.17 467.33 1790.17 461.83 1792 462C1793.83 462.17 1796.8 466.5 1797 469C1797.2 471.5 1793.83 475.67 1793.2 477" fill="none" stroke="#ff1cff" stroke-width="2.6" stroke-linecap="butt" stroke-linejoin="round"/>
<path d="M1800 456C1798.87 459.5 1795.03 471 1793.2 477C1791.37 483 1790.7 488.17 1789 492C1787.3 495.83 1785.17 500.5 1783 500C1780.83 499.5 1778.5 488.67 1776 489C1773.5 489.33 1772 494.33 1768 502C1764 509.67 1756.67 524.5 1752 535C1747.33 545.5 1743.67 555.5 1740 565C1736.33 574.5 1731.67 587.5 1730 592" fill="none" stroke="#ff1cff" stroke-width="2.6" stroke-linecap="butt" stroke-linejoin="round"/>
<path d="M1730 636C1734.13 627.7 1748.13 597.53 1754.8 586.2C1761.47 574.87 1766.37 574.25 1770 568C1773.63 561.75 1774.43 555.87 1776.6 548.7C1778.77 541.53 1780.93 531.78 1783 525C1785.07 518.22 1787.17 510.5 1789 508C1790.83 505.5 1792.42 508.42 1794 510C1795.58 511.58 1795.67 509.5 1798.5 517.5C1801.33 525.5 1804.75 531.75 1811 558C1817.25 584.25 1831.83 655.5 1836 675" fill="none" stroke="#ff1cff" stroke-width="2.6" stroke-linecap="butt" stroke-linejoin="round"/>
<path d="M1793.2 477C1794.33 480.83 1797.03 488.17 1800 500C1802.97 511.83 1807.33 529.67 1811 548C1814.67 566.33 1818.1 588.83 1822 610C1825.9 631.17 1832.33 664.17 1834.4 675" fill="none" stroke="#ff1cff" stroke-width="2.6" stroke-linecap="butt" stroke-linejoin="round"/>
<rect x="1729.8" y="456.8" width="288.4" height="217.4" fill="none" stroke="#000" stroke-width="1.3"/>
<circle cx="1793.2" cy="476.9" r="3.2" fill="#ff0000"/>
<text x="1855.5" y="487.8" font-size="28" font-weight="bold" >W3</text>
<path d="M1850 478.4L1806.5 477.21" stroke="#000" stroke-width="1.1" fill="none"/><path d="M1799 477L1809.09 473.78L1806.5 477.21L1808.9 480.77z" fill="#000"/>
<text x="2015.5" y="479.4" font-size="27.5" text-anchor="end" >Cut 6</text>
<path d="M1724.3 674.6h5.5M1726.8 668.87h3M1726.8 663.14h3M1726.8 657.41h3M1726.8 651.68h3M1726.8 645.95h3M1726.8 640.22h3M1726.8 634.49h3M1726.8 628.76h3M1726.8 623.03h3M1724.3 617.3h5.5M1726.8 611.57h3M1726.8 605.84h3M1726.8 600.11h3M1726.8 594.38h3M1726.8 588.65h3M1726.8 582.92h3M1726.8 577.19h3M1726.8 571.46h3M1726.8 565.73h3M1724.3 560h5.5M1726.8 554.27h3M1726.8 548.54h3M1726.8 542.81h3M1726.8 537.08h3M1726.8 531.35h3M1726.8 525.62h3M1726.8 519.89h3M1726.8 514.16h3M1726.8 508.43h3M1724.3 502.7h5.5M1726.8 496.97h3M1726.8 491.24h3M1726.8 485.51h3M1726.8 479.78h3M1726.8 474.05h3M1726.8 468.32h3M1726.8 462.59h3M1726.8 456.86h3" stroke="#000" stroke-width="1.3" fill="none"/>
<path d="M1735 674.2v3M1750.5 674.2v5.5M1766 674.2v3M1781.5 674.2v3M1797 674.2v3M1812.5 674.2v5.5M1828 674.2v3M1843.5 674.2v3M1859 674.2v3M1874.5 674.2v5.5M1890 674.2v3M1905.5 674.2v3M1921 674.2v3M1936.5 674.2v5.5M1952 674.2v3M1967.5 674.2v3M1983 674.2v3M1998.5 674.2v5.5M2014 674.2v3" stroke="#000" stroke-width="1.3" fill="none"/>
<text x="0" y="737" font-size="46" font-weight="bold" >g</text>
<g clip-path="url(#cp12)">
<rect x="82.9" y="715.3" width="288.3" height="218.3" fill="#ffffff"/>
<path d="M226.6 738.5C224.17 739.92 216.47 743.75 212 747C207.53 750.25 203.47 754.17 199.8 758C196.13 761.83 192.85 766 190 770C187.15 774 185.37 777.83 182.7 782C180.03 786.17 176.87 790.67 174 795C171.13 799.33 168.33 803.83 165.5 808C162.67 812.17 159.85 816.03 157 820C154.15 823.97 151.23 828.13 148.4 831.8C145.57 835.47 142.85 838.58 140 842C137.15 845.42 134.97 848.63 131.3 852.3C127.63 855.97 122.27 860.3 118 864C113.73 867.7 109.53 871.33 105.7 874.5C101.87 877.67 99.28 879.92 95 883C90.72 886.08 82.5 884.5 80 893C77.5 901.5 31 927.17 80 934C129 940.83 325.13 940.83 374 934C422.87 927.17 375.83 901.5 373.2 893C370.57 884.5 362.48 886.08 358.2 883C353.92 879.92 351.33 877.67 347.5 874.5C343.67 871.33 339.47 867.7 335.2 864C330.93 860.3 325.57 855.97 321.9 852.3C318.23 848.63 316.05 845.42 313.2 842C310.35 838.58 307.63 835.47 304.8 831.8C301.97 828.13 299.05 823.97 296.2 820C293.35 816.03 290.53 812.17 287.7 808C284.87 803.83 282.07 799.33 279.2 795C276.33 790.67 273.17 786.17 270.5 782C267.83 777.83 266.05 774 263.2 770C260.35 766 257.07 761.83 253.4 758C249.73 754.17 245.67 750.25 241.2 747C236.73 743.75 229.03 739.92 226.6 738.5Z" fill="#dccb48" filter="url(#b1_2)"/>
<path d="M221.6 738.5C222.43 734.58 224.93 715 226.6 715C228.27 715 230.77 734.58 231.6 738.5Z" fill="#e6dc70" filter="url(#b1_5)"/>
<path d="M220.6 715L226.6 722L232.6 715Z" fill="#e0d260" filter="url(#b1)"/>
<path d="M182.7 842C185.58 839.67 192.68 831.7 200 828C207.32 824.3 217.77 819.8 226.6 819.8C235.43 819.8 245.68 824.3 253 828C260.32 831.7 267.58 839.67 270.5 842Z" fill="#fffdf0" filter="url(#b2)"/>
<path d="M100 888C103 885.67 111.67 878.33 118 874C124.33 869.67 131.33 865.5 138 862C144.67 858.5 152.33 855 158 853C163.67 851 170.83 848.5 172 850C173.17 851.5 169 858 165 862C161 866 154.17 870 148 874C141.83 878 134.33 882.83 128 886C121.67 889.17 113 891.83 110 893Z" fill="#fffef6" filter="url(#b2)"/>
<path d="M353.2 888C350.2 885.67 341.53 878.33 335.2 874C328.87 869.67 321.87 865.5 315.2 862C308.53 858.5 300.87 855 295.2 853C289.53 851 282.37 848.5 281.2 850C280.03 851.5 284.2 858 288.2 862C292.2 866 299.03 870 305.2 874C311.37 878 318.87 882.83 325.2 886C331.53 889.17 340.2 891.83 343.2 893Z" fill="#fffef6" filter="url(#b2)"/>
<path d="M80 915L120 912L160 920L180 934L80 934Z" fill="#ffffff" filter="url(#b3)"/>
<path d="M374 915L333 912L293 920L273 934L374 934Z" fill="#ffffff" filter="url(#b3)"/>
<path d="M200 934C204.43 930.33 217.77 912 226.6 912C235.43 912 248.6 930.33 253 934Z" fill="#f0e8a0" filter="url(#b2)"/>
<ellipse cx="226.6" cy="880.5" rx="20" ry="4" fill="#1a0030" filter="url(#b1_5)"/>
<ellipse cx="226.6" cy="881" rx="38" ry="9" fill="#5a1468" filter="url(#b5)" opacity="0.8"/>
<ellipse cx="140" cy="902" rx="20" ry="4" fill="#0a0018" filter="url(#b1_5)"/>
<ellipse cx="313" cy="902" rx="20" ry="4" fill="#0a0018" filter="url(#b1_5)"/>
<ellipse cx="150" cy="900" rx="40" ry="10" fill="#5a1468" filter="url(#b6)" opacity="0.8"/>
<ellipse cx="303" cy="900" rx="40" ry="10" fill="#5a1468" filter="url(#b6)" opacity="0.8"/>
<ellipse cx="168" cy="858" rx="10" ry="14" fill="#3a0858" filter="url(#b4)" transform="rotate(35 168 858)"/>
<ellipse cx="285" cy="858" rx="10" ry="14" fill="#3a0858" filter="url(#b4)" transform="rotate(-35 285 858)"/>
<ellipse cx="226.6" cy="890" rx="60" ry="10" fill="#c08a2a" filter="url(#b6)" opacity="0.6"/>
<path d="M226.6 738.5C224.17 739.92 216.47 743.75 212 747C207.53 750.25 203.47 754.17 199.8 758C196.13 761.83 192.85 766 190 770C187.15 774 185.37 777.83 182.7 782C180.03 786.17 176.87 790.67 174 795C171.13 799.33 168.33 803.83 165.5 808C162.67 812.17 159.85 816.03 157 820C154.15 823.97 151.23 828.13 148.4 831.8C145.57 835.47 142.85 838.58 140 842C137.15 845.42 134.97 848.63 131.3 852.3C127.63 855.97 122.27 860.3 118 864C113.73 867.7 109.53 871.33 105.7 874.5C101.87 877.67 99.28 879.92 95 883C90.72 886.08 82.5 891.33 80 893" fill="none" stroke="#000" stroke-width="1.1" stroke-linejoin="round"/>
<path d="M226.6 738.5C229.03 739.92 236.73 743.75 241.2 747C245.67 750.25 249.73 754.17 253.4 758C257.07 761.83 260.35 766 263.2 770C266.05 774 267.83 777.83 270.5 782C273.17 786.17 276.33 790.67 279.2 795C282.07 799.33 284.87 803.83 287.7 808C290.53 812.17 293.35 816.03 296.2 820C299.05 823.97 301.97 828.13 304.8 831.8C307.63 835.47 310.35 838.58 313.2 842C316.05 845.42 318.23 848.63 321.9 852.3C325.57 855.97 330.93 860.3 335.2 864C339.47 867.7 343.67 871.33 347.5 874.5C351.33 877.67 353.92 879.92 358.2 883C362.48 886.08 370.7 891.33 373.2 893" fill="none" stroke="#000" stroke-width="1.1" stroke-linejoin="round"/>
<path d="M224.52 741.1C222.09 742.52 214.39 746.35 209.92 749.6C205.45 752.85 201.39 756.77 197.72 760.6C194.05 764.43 190.77 768.6 187.92 772.6C185.07 776.6 183.29 780.43 180.62 784.6C177.95 788.77 174.79 793.27 171.92 797.6C169.05 801.93 166.25 806.43 163.42 810.6C160.59 814.77 157.77 818.63 154.92 822.6C152.07 826.57 149.15 830.73 146.32 834.4C143.49 838.07 140.77 841.18 137.92 844.6C135.07 848.02 132.89 851.23 129.22 854.9C125.55 858.57 120.19 862.9 115.92 866.6C111.65 870.3 107.45 873.93 103.62 877.1C99.79 880.27 97.2 882.52 92.92 885.6C88.64 888.68 80.42 893.93 77.92 895.6" fill="none" stroke="#000" stroke-width="1.1" stroke-linejoin="round"/>
<path d="M228.68 741.1C231.11 742.52 238.81 746.35 243.28 749.6C247.75 752.85 251.81 756.77 255.48 760.6C259.15 764.43 262.43 768.6 265.28 772.6C268.13 776.6 269.91 780.43 272.58 784.6C275.25 788.77 278.41 793.27 281.28 797.6C284.15 801.93 286.95 806.43 289.78 810.6C292.61 814.77 295.43 818.63 298.28 822.6C301.13 826.57 304.05 830.73 306.88 834.4C309.71 838.07 312.43 841.18 315.28 844.6C318.13 848.02 320.31 851.23 323.98 854.9C327.65 858.57 333.01 862.9 337.28 866.6C341.55 870.3 345.75 873.93 349.58 877.1C353.41 880.27 356 882.52 360.28 885.6C364.56 888.68 372.78 893.93 375.28 895.6" fill="none" stroke="#000" stroke-width="1.1" stroke-linejoin="round"/>
<path d="M222.44 743.7C220.01 745.12 212.31 748.95 207.84 752.2C203.37 755.45 199.31 759.37 195.64 763.2C191.97 767.03 188.69 771.2 185.84 775.2C182.99 779.2 181.21 783.03 178.54 787.2C175.87 791.37 172.71 795.87 169.84 800.2C166.97 804.53 164.17 809.03 161.34 813.2C158.51 817.37 155.69 821.23 152.84 825.2C149.99 829.17 147.07 833.33 144.24 837C141.41 840.67 138.69 843.78 135.84 847.2C132.99 850.62 130.81 853.83 127.14 857.5C123.47 861.17 118.11 865.5 113.84 869.2C109.57 872.9 105.37 876.53 101.54 879.7C97.71 882.87 95.12 885.12 90.84 888.2C86.56 891.28 78.34 896.53 75.84 898.2" fill="none" stroke="#000" stroke-width="1.1" stroke-linejoin="round"/>
<path d="M230.76 743.7C233.19 745.12 240.89 748.95 245.36 752.2C249.83 755.45 253.89 759.37 257.56 763.2C261.23 767.03 264.51 771.2 267.36 775.2C270.21 779.2 271.99 783.03 274.66 787.2C277.33 791.37 280.49 795.87 283.36 800.2C286.23 804.53 289.03 809.03 291.86 813.2C294.69 817.37 297.51 821.23 300.36 825.2C303.21 829.17 306.13 833.33 308.96 837C311.79 840.67 314.51 843.78 317.36 847.2C320.21 850.62 322.39 853.83 326.06 857.5C329.73 861.17 335.09 865.5 339.36 869.2C343.63 872.9 347.83 876.53 351.66 879.7C355.49 882.87 358.08 885.12 362.36 888.2C366.64 891.28 374.86 896.53 377.36 898.2" fill="none" stroke="#000" stroke-width="1.1" stroke-linejoin="round"/>
<path d="M219.4 747.5C216.97 748.92 209.27 752.75 204.8 756C200.33 759.25 196.27 763.17 192.6 767C188.93 770.83 185.65 775 182.8 779C179.95 783 178.17 786.83 175.5 791C172.83 795.17 169.67 799.67 166.8 804C163.93 808.33 161.13 812.83 158.3 817C155.47 821.17 152.65 825.03 149.8 829C146.95 832.97 144.03 837.13 141.2 840.8C138.37 844.47 135.65 847.58 132.8 851C129.95 854.42 127.77 857.63 124.1 861.3C120.43 864.97 115.07 869.3 110.8 873C106.53 876.7 102.33 880.33 98.5 883.5C94.67 886.67 92.08 888.92 87.8 892C83.52 895.08 75.3 900.33 72.8 902" fill="none" stroke="#000" stroke-width="1.1" stroke-linejoin="round"/>
<path d="M233.8 747.5C236.23 748.92 243.93 752.75 248.4 756C252.87 759.25 256.93 763.17 260.6 767C264.27 770.83 267.55 775 270.4 779C273.25 783 275.03 786.83 277.7 791C280.37 795.17 283.53 799.67 286.4 804C289.27 808.33 292.07 812.83 294.9 817C297.73 821.17 300.55 825.03 303.4 829C306.25 832.97 309.17 837.13 312 840.8C314.83 844.47 317.55 847.58 320.4 851C323.25 854.42 325.43 857.63 329.1 861.3C332.77 864.97 338.13 869.3 342.4 873C346.67 876.7 350.87 880.33 354.7 883.5C358.53 886.67 361.12 888.92 365.4 892C369.68 895.08 377.9 900.33 380.4 902" fill="none" stroke="#000" stroke-width="1.1" stroke-linejoin="round"/>
<path d="M80 895C83.33 893.17 93 888.83 100 884C107 879.17 115.33 871.17 122 866C128.67 860.83 134.03 856.67 140 853C145.97 849.33 151.47 845.9 157.8 844C164.13 842.1 166.53 842 178 841.6C189.47 841.2 210.43 841.6 226.6 841.6C242.77 841.6 263.53 841.2 275 841.6C286.47 842 289.07 842.1 295.4 844C301.73 845.9 307.07 849.33 313 853C318.93 856.67 324.33 860.83 331 866C337.67 871.17 346 879.17 353 884C360 888.83 369.67 893.17 373 895" fill="none" stroke="#000" stroke-width="1.1" stroke-linejoin="round"/>
<path d="M80 897.2C83.33 895.37 93 891.03 100 886.2C107 881.37 115.33 873.37 122 868.2C128.67 863.03 134.03 858.87 140 855.2C145.97 851.53 151.47 848.1 157.8 846.2C164.13 844.3 166.53 844.2 178 843.8C189.47 843.4 210.43 843.8 226.6 843.8C242.77 843.8 263.53 843.4 275 843.8C286.47 844.2 289.07 844.3 295.4 846.2C301.73 848.1 307.07 851.53 313 855.2C318.93 858.87 324.33 863.03 331 868.2C337.67 873.37 346 881.37 353 886.2C360 891.03 369.67 895.37 373 897.2" fill="none" stroke="#000" stroke-width="1.1" stroke-linejoin="round"/>
<path d="M160 934C164.17 930.83 177.5 920.17 185 915C192.5 909.83 198.07 905.6 205 903C211.93 900.4 219.43 899.4 226.6 899.4C233.77 899.4 241.1 900.4 248 903C254.9 905.6 260.5 909.83 268 915C275.5 920.17 288.83 930.83 293 934" fill="none" stroke="#000" stroke-width="1.6" stroke-linejoin="round"/>
<path d="M160 943C164.17 939.83 177.5 929.17 185 924C192.5 918.83 198.07 914.6 205 912C211.93 909.4 219.43 908.4 226.6 908.4C233.77 908.4 241.1 909.4 248 912C254.9 914.6 260.5 918.83 268 924C275.5 929.17 288.83 939.83 293 943" fill="none" stroke="#000" stroke-width="1.6" stroke-linejoin="round"/>
</g>
<line x1="82.9" y1="738.5" x2="371.2" y2="738.5" stroke="#000" stroke-width="1.2" stroke-dasharray="4 3"/>
<rect x="82.9" y="715.3" width="288.3" height="218.3" fill="none" stroke="#000" stroke-width="1.3"/>
<text x="367" y="738" font-size="27.5" text-anchor="end" >Cut 1</text>
<text x="120.5" y="767.5" font-size="23" text-anchor="middle" >I(k, &#969;)</text>
<text x="119.5" y="788.5" font-size="23" text-anchor="middle" >High</text>
<rect x="110.5" y="796.6" width="17" height="37.9" fill="url(#cb)" stroke="#222" stroke-width="1.3"/>
<text x="119.5" y="852.5" font-size="23" text-anchor="middle" >Low</text>
<path d="M79.9 933.32h3M79.9 921.86h3M77.4 910.4h5.5M79.9 898.94h3M79.9 887.48h3M79.9 876.02h3M79.9 864.56h3M77.4 853.1h5.5M79.9 841.64h3M79.9 830.18h3M79.9 818.72h3M79.9 807.26h3M77.4 795.8h5.5M79.9 784.34h3M79.9 772.88h3M79.9 761.42h3M79.9 749.96h3M77.4 738.5h5.5M79.9 727.04h3M79.9 715.58h3" stroke="#000" stroke-width="1.3" fill="none"/>
<text x="76.6" y="917.6" font-size="20" text-anchor="end" >-1.5</text>
<text x="76.6" y="860.3" font-size="20" text-anchor="end" >-1.0</text>
<text x="76.6" y="803" font-size="20" text-anchor="end" >-0.5</text>
<text x="76.6" y="745.7" font-size="20" text-anchor="end" >0.0</text>
<path d="M81.4 933.6v5.5M93.5 933.6v3M105.6 933.6v3M117.7 933.6v3M129.8 933.6v5.5M141.9 933.6v3M154 933.6v3M166.1 933.6v3M178.2 933.6v5.5M190.3 933.6v3M202.4 933.6v3M214.5 933.6v3M226.6 933.6v5.5M238.7 933.6v3M250.8 933.6v3M262.9 933.6v3M275 933.6v5.5M287.1 933.6v3M299.2 933.6v3M311.3 933.6v3M323.4 933.6v5.5M335.5 933.6v3M347.6 933.6v3M359.7 933.6v3M371.8 933.6v5.5" stroke="#000" stroke-width="1.3" fill="none"/>
<text x="81.4" y="956.6" font-size="20" text-anchor="middle" >-0.6</text>
<text x="129.8" y="956.6" font-size="20" text-anchor="middle" >-0.4</text>
<text x="178.2" y="956.6" font-size="20" text-anchor="middle" >-0.2</text>
<text x="226.6" y="956.6" font-size="20" text-anchor="middle" >0.0</text>
<text x="275" y="956.6" font-size="20" text-anchor="middle" >0.2</text>
<text x="323.4" y="956.6" font-size="20" text-anchor="middle" >0.4</text>
<text x="371.8" y="956.6" font-size="20" text-anchor="middle" >0.6</text>
<g clip-path="url(#cp13)">
<rect x="409.8" y="715.3" width="287.5" height="218.3" fill="#ffffff"/>
<path d="M409 715L598 715L645 801L640 812L560 815L470 818L409 818Z" fill="#e2d862" filter="url(#b3)"/>
<path d="M430 715L455 735L480 760L520 790L560 810L409 812L409 715Z" fill="#d8c84a" filter="url(#b6)" opacity="0.7"/>
<path d="M409 842L470 838L547 821L576 827L620 845L660 870L697 898L697 934L409 934Z" fill="#d4bc38" filter="url(#b2_5)"/>
<path d="M470 910L560 905L650 912L660 934L460 934Z" fill="#fffef4" filter="url(#b5)"/>
<path d="M600 830L640 808L660 805L697 820L697 870L660 860Z" fill="#ffffff" filter="url(#b4)"/>
<ellipse cx="600" cy="868" rx="30" ry="9" fill="#b87828" filter="url(#b6)" transform="rotate(20 600 868)"/>
<ellipse cx="625" cy="876" rx="10" ry="4" fill="#4a0c60" filter="url(#b3)" transform="rotate(30 625 876)"/>
<ellipse cx="505" cy="906" rx="30" ry="3" fill="#4a0c60" filter="url(#b2_5)"/>
<ellipse cx="690" cy="907" rx="12" ry="8" fill="#1a0030" filter="url(#b3)"/>
<path d="M430 715L445 722L460 730L430 733Z" fill="#ffffff" filter="url(#b2)"/>
</g>
<path d="M598.3 715.4C600.25 718.67 605.55 727.23 610 735C614.45 742.77 620 753.67 625 762C630 770.33 635.33 779.93 640 785C644.67 790.07 648 790.73 653 792.4C658 794.07 662.58 794.57 670 795C677.42 795.43 692.92 795 697.5 795" fill="none" stroke="#000" stroke-width="1.2" stroke-linejoin="round"/>
<path d="M601 715.4C603 718.67 608.5 727.23 613 735C617.5 742.77 623 753.67 628 762C633 770.33 638.33 779.5 643 785C647.67 790.5 653.83 793.33 656 795" fill="none" stroke="#000" stroke-width="1" stroke-linejoin="round"/>
<path d="M409.8 842C419 841.43 448.3 841.27 465 838.6C481.7 835.93 496.33 829 510 826C523.67 823 536 820.5 547 820.6C558 820.7 563.83 821.7 576 826.6C588.17 831.5 605.72 842.02 620 850C634.28 857.98 648.78 866.17 661.7 874.5C674.62 882.83 691.53 895.75 697.5 900" fill="none" stroke="#000" stroke-width="1.1" stroke-linejoin="round"/>
<path d="M409.8 844C419 843.5 448.3 843.5 465 841C481.7 838.5 496.33 831.92 510 829C523.67 826.08 536 823.42 547 823.5C558 823.58 563.83 824.58 576 829.5C588.17 834.42 605.72 845 620 853C634.28 861 648.78 869.17 661.7 877.5C674.62 885.83 691.53 898.75 697.5 903" fill="none" stroke="#000" stroke-width="1.1" stroke-linejoin="round"/>
<path d="M409.8 878.8C416.5 878.5 436.53 879.13 450 877C463.47 874.87 477.27 870.83 490.6 866C503.93 861.17 515.77 854.28 530 848C544.23 841.72 562.67 834.3 576 828.3C589.33 822.3 599.17 816.55 610 812C620.83 807.45 632.67 802.5 641 801C649.33 799.5 650.58 797.33 660 803C669.42 808.67 691.25 829.67 697.5 835" fill="none" stroke="#000" stroke-width="1.5" stroke-linejoin="round"/>
<path d="M490 868C496.67 865.17 515.67 857.17 530 851C544.33 844.83 562.67 837 576 831C589.33 825 599.17 819.5 610 815C620.83 810.5 632.67 805.5 641 804C649.33 802.5 650.58 800.33 660 806C669.42 811.67 691.25 832.67 697.5 838" fill="none" stroke="#000" stroke-width="1" stroke-linejoin="round"/>
<path d="M409.8 899.4C419.83 899 449.97 898.4 470 897C490.03 895.6 508.33 891.5 530 891C551.67 890.5 572.08 892.33 600 894C627.92 895.67 681.25 899.83 697.5 901" fill="none" stroke="#000" stroke-width="1.6" stroke-linejoin="round"/>
<path d="M409.8 908.8C419.83 908.5 449.97 907.8 470 907C490.03 906.2 508.33 904.67 530 904C551.67 903.33 572.08 903.17 600 903C627.92 902.83 681.25 903 697.5 903" fill="none" stroke="#000" stroke-width="1.6" stroke-linejoin="round"/>
<path d="M409.8 730.8C413.17 729.5 424.13 725.57 430 723C435.87 720.43 442.5 716.67 445 715.4" fill="none" stroke="#000" stroke-width="1" stroke-linejoin="round"/>
<path d="M430 715.4C433.33 717.5 441.67 723.4 450 728C458.33 732.6 468.33 739 480 743C491.67 747 506.67 751.17 520 752C533.33 752.83 548.33 750 560 748C571.67 746 585 741.33 590 740" fill="none" stroke="#000" stroke-width="1" stroke-linejoin="round"/>
<path d="M485 722C490.83 722.67 507.5 725.83 520 726C532.5 726.17 548.33 724.67 560 723C571.67 721.33 585 717.17 590 716" fill="none" stroke="#000" stroke-width="1.6" stroke-linejoin="round"/>
<path d="M640 934C643.33 930.83 653.33 919.83 660 915C666.67 910.17 673.83 906.83 680 905C686.17 903.17 694.17 904.17 697 904" fill="none" stroke="#000" stroke-width="1" stroke-linejoin="round"/>
<path d="M655 934C658.33 931.33 668 921.67 675 918C682 914.33 693.33 913 697 912" fill="none" stroke="#000" stroke-width="1" stroke-linejoin="round"/>
<line x1="409.8" y1="738.5" x2="697.3" y2="738.5" stroke="#000" stroke-width="1.2" stroke-dasharray="4 3"/>
<rect x="409.8" y="715.3" width="287.5" height="218.3" fill="none" stroke="#000" stroke-width="1.3"/>
<text x="692" y="738" font-size="27.5" text-anchor="end" >Cut 2</text>
<path d="M406.8 933.32h3M406.8 921.86h3M404.3 910.4h5.5M406.8 898.94h3M406.8 887.48h3M406.8 876.02h3M406.8 864.56h3M404.3 853.1h5.5M406.8 841.64h3M406.8 830.18h3M406.8 818.72h3M406.8 807.26h3M404.3 795.8h5.5M406.8 784.34h3M406.8 772.88h3M406.8 761.42h3M406.8 749.96h3M404.3 738.5h5.5M406.8 727.04h3M406.8 715.58h3" stroke="#000" stroke-width="1.3" fill="none"/>
<path d="M416 933.6v5.5M433.58 933.6v3M451.16 933.6v3M468.74 933.6v3M486.32 933.6v5.5M503.91 933.6v3M521.49 933.6v3M539.07 933.6v3M556.65 933.6v5.5M574.23 933.6v3M591.81 933.6v3M609.39 933.6v3M626.98 933.6v5.5M644.56 933.6v3M662.14 933.6v3M679.72 933.6v3M697.3 933.6v5.5" stroke="#000" stroke-width="1.3" fill="none"/>
<text x="416" y="956.6" font-size="20" text-anchor="middle" >-0.8</text>
<text x="486.32" y="956.6" font-size="20" text-anchor="middle" >-0.6</text>
<text x="556.65" y="956.6" font-size="20" text-anchor="middle" >-0.4</text>
<text x="626.98" y="956.6" font-size="20" text-anchor="middle" >-0.2</text>
<text x="697.3" y="956.6" font-size="20" text-anchor="middle" >0.0</text>
<g clip-path="url(#cp14)">
<rect x="731.8" y="715.3" width="288" height="218.3" fill="#ffffff"/>
<path d="M728 866C733.33 858 749.67 832.33 760 818C770.33 803.67 782 790.17 790 780C798 769.83 802.93 762.25 808 757C813.07 751.75 816.73 749.33 820.4 748.5C824.07 747.67 826.57 748.75 830 752C833.43 755.25 836.83 768.33 841 768C845.17 767.67 850.5 755.67 855 750C859.5 744.33 864.5 737.17 868 734C871.5 730.83 873.33 731 876 731C878.67 731 880.5 730.83 884 734C887.5 737.17 892.5 744.33 897 750C901.5 755.67 906.83 767.67 911 768C915.17 768.33 918.57 755.25 922 752C925.43 748.75 927.93 747.67 931.6 748.5C935.27 749.33 938.93 751.75 944 757C949.07 762.25 954 769.83 962 780C970 790.17 981.67 803.67 992 818C1002.33 832.33 1018.67 846.67 1024 866C1029.33 885.33 1073.33 922.67 1024 934C974.67 945.33 777.33 934 728 934Z" fill="#dccb48" filter="url(#b1_2)"/>
<path d="M844 770C846.67 766.33 854.67 753 860 748C865.33 743 870.67 740 876 740C881.33 740 886.67 743 892 748C897.33 753 907.5 762.17 908 770C908.5 777.83 900.33 789 895 795C889.67 801 882.33 806 876 806C869.67 806 860.17 796.83 857 795Z" fill="#d8c650" filter="url(#b1_5)"/>
<path d="M848 780C850 783.33 855.33 795.67 860 800C864.67 804.33 870.67 806 876 806C881.33 806 887.33 804.33 892 800C896.67 795.67 902 783.33 904 780" fill="none" stroke="#4a0c60" stroke-width="4" stroke-linecap="round" stroke-linejoin="round" filter="url(#b2)"/>
<path d="M846 790C848.33 793 855 804.5 860 808C865 811.5 870.67 811 876 811C881.33 811 887 811.5 892 808C897 804.5 901.17 789.67 906 790C910.83 790.33 922 803.33 921 810C920 816.67 907.5 825.17 900 830C892.5 834.83 884 839 876 839C868 839 859.5 834.83 852 830C844.5 825.17 834.5 813.33 831 810Z" fill="#ffffff" filter="url(#b2)"/>
<ellipse cx="876" cy="862" rx="50" ry="13" fill="#b4702c" filter="url(#b7)"/>
<ellipse cx="876" cy="864" rx="25" ry="7" fill="#a05040" filter="url(#b5)" opacity="0.7"/>
<path d="M732 876C736.67 873 750.33 864.83 760 858C769.67 851.17 781.67 841.33 790 835C798.33 828.67 806.67 822.5 810 820" fill="none" stroke="#10001e" stroke-width="7" stroke-linecap="round" stroke-linejoin="round" filter="url(#b2)"/>
<path d="M1020 876C1015.33 873 1001.67 864.83 992 858C982.33 851.17 970.33 841.33 962 835C953.67 828.67 945.33 822.5 942 820" fill="none" stroke="#10001e" stroke-width="7" stroke-linecap="round" stroke-linejoin="round" filter="url(#b2)"/>
<ellipse cx="800" cy="845" rx="18" ry="10" fill="#5a1468" filter="url(#b5)" opacity="0.8"/>
<ellipse cx="952" cy="845" rx="18" ry="10" fill="#5a1468" filter="url(#b5)" opacity="0.8"/>
<ellipse cx="745" cy="880" rx="18" ry="5" fill="#5a1468" filter="url(#b3)"/>
<ellipse cx="1007" cy="880" rx="18" ry="5" fill="#5a1468" filter="url(#b3)"/>
<path d="M760 895C765 893.33 777.5 887.5 790 885C802.5 882.5 825 877.5 835 880C845 882.5 848.33 892.33 850 900C851.67 907.67 853.33 921.67 845 926C836.67 930.33 812.5 927.83 800 926C787.5 924.17 775 916.83 770 915Z" fill="#ffffff" filter="url(#b2_5)"/>
<path d="M992 895C987 893.33 974.5 887.5 962 885C949.5 882.5 927 877.5 917 880C907 882.5 903.67 892.33 902 900C900.33 907.67 898.67 921.67 907 926C915.33 930.33 939.5 927.83 952 926C964.5 924.17 977 916.83 982 915Z" fill="#ffffff" filter="url(#b2_5)"/>
<path d="M850 934C854.33 929.17 867.33 905 876 905C884.67 905 897.67 929.17 902 934Z" fill="#fffce8" filter="url(#b2)"/>
<path d="M800 715L834 715L820 733Z" fill="#ece070" filter="url(#b1_2)"/>
<path d="M918 715L952 715L932 733Z" fill="#ece070" filter="url(#b1_2)"/>
<path d="M848 715L904 715L880 727L872 727Z" fill="#e0d058" filter="url(#b1_2)"/>
<path d="M865 719Q876 729 887 719" fill="none" stroke="#3a0858" stroke-width="2.2"/>
</g>
<path d="M732 864C736.67 856.67 750.33 834 760 820C769.67 806 782 790.67 790 780C798 769.33 802.93 761.35 808 756C813.07 750.65 816.73 748.73 820.4 747.9C824.07 747.07 826.57 747.48 830 751C833.43 754.52 836.83 769.5 841 769C845.17 768.5 850.5 753.5 855 748C859.5 742.5 864.5 738.33 868 736C871.5 733.67 874.67 734.33 876 734" fill="none" stroke="#000" stroke-width="1.1" stroke-linejoin="round"/>
<path d="M1020 864C1015.33 856.67 1001.67 834 992 820C982.33 806 970 790.67 962 780C954 769.33 949.07 761.35 944 756C938.93 750.65 935.27 748.73 931.6 747.9C927.93 747.07 925.43 747.48 922 751C918.57 754.52 915.17 769.5 911 769C906.83 768.5 901.5 753.5 897 748C892.5 742.5 887.5 738.33 884 736C880.5 733.67 877.33 734.33 876 734" fill="none" stroke="#000" stroke-width="1.1" stroke-linejoin="round"/>
<path d="M732 867C736.67 859.67 750.33 837 760 823C769.67 809 782 793.67 790 783C798 772.33 802.93 764.35 808 759C813.07 753.65 816.73 751.73 820.4 750.9C824.07 750.07 826.57 750.48 830 754C833.43 757.52 836.83 772.5 841 772C845.17 771.5 850.5 756.5 855 751C859.5 745.5 864.5 741.33 868 739C871.5 736.67 874.67 737.33 876 737" fill="none" stroke="#000" stroke-width="1.1" stroke-linejoin="round"/>
<path d="M1020 867C1015.33 859.67 1001.67 837 992 823C982.33 809 970 793.67 962 783C954 772.33 949.07 764.35 944 759C938.93 753.65 935.27 751.73 931.6 750.9C927.93 750.07 925.43 750.48 922 754C918.57 757.52 915.17 772.5 911 772C906.83 771.5 901.5 756.5 897 751C892.5 745.5 887.5 741.33 884 739C880.5 736.67 877.33 737.33 876 737" fill="none" stroke="#000" stroke-width="1.1" stroke-linejoin="round"/>
<path d="M732 877C736.67 874.17 750.33 866.5 760 860C769.67 853.5 781.67 844.67 790 838C798.33 831.33 803.22 824.6 810 820C816.78 815.4 824.03 809.57 830.7 810.4C837.37 811.23 842.45 820.15 850 825C857.55 829.85 871.67 837.08 876 839.5" fill="none" stroke="#000" stroke-width="1.6" stroke-linejoin="round"/>
<path d="M1020 877C1015.33 874.17 1001.67 866.5 992 860C982.33 853.5 970.33 844.67 962 838C953.67 831.33 948.78 824.6 942 820C935.22 815.4 927.97 809.57 921.3 810.4C914.63 811.23 909.55 820.15 902 825C894.45 829.85 880.33 837.08 876 839.5" fill="none" stroke="#000" stroke-width="1.6" stroke-linejoin="round"/>
<path d="M732 879.5C736.67 876.67 750.33 869 760 862.5C769.67 856 781.67 847.17 790 840.5C798.33 833.83 803.22 827.1 810 822.5C816.78 817.9 824.03 812.07 830.7 812.9C837.37 813.73 842.45 822.65 850 827.5C857.55 832.35 871.67 839.58 876 842" fill="none" stroke="#000" stroke-width="1" stroke-linejoin="round"/>
<path d="M1020 879.5C1015.33 876.67 1001.67 869 992 862.5C982.33 856 970.33 847.17 962 840.5C953.67 833.83 948.78 827.1 942 822.5C935.22 817.9 927.97 812.07 921.3 812.9C914.63 813.73 909.55 822.65 902 827.5C894.45 832.35 880.33 839.58 876 842" fill="none" stroke="#000" stroke-width="1" stroke-linejoin="round"/>
<path d="M732 900C735 902 743.5 907.33 750 912C756.5 916.67 762.67 924.83 771 928C779.33 931.17 790.17 930.67 800 931C809.83 931.33 821.67 934.33 830 930C838.33 925.67 842.33 911.38 850 905C857.67 898.62 871.67 893.92 876 891.7" fill="none" stroke="#000" stroke-width="1.8" stroke-linejoin="round"/>
<path d="M1020 900C1017 902 1008.5 907.33 1002 912C995.5 916.67 989.33 924.83 981 928C972.67 931.17 961.83 930.67 952 931C942.17 931.33 930.33 934.33 922 930C913.67 925.67 909.67 911.38 902 905C894.33 898.62 880.33 893.92 876 891.7" fill="none" stroke="#000" stroke-width="1.8" stroke-linejoin="round"/>
<path d="M838 934C840.83 930 848.67 915.17 855 910C861.33 904.83 872.5 904.17 876 903" fill="none" stroke="#000" stroke-width="1.3" stroke-linejoin="round"/>
<path d="M914 934C911.17 930 903.33 915.17 897 910C890.67 904.83 879.5 904.17 876 903" fill="none" stroke="#000" stroke-width="1.3" stroke-linejoin="round"/>
<line x1="731.8" y1="738.5" x2="1019.8" y2="738.5" stroke="#000" stroke-width="1.2" stroke-dasharray="4 3"/>
<rect x="731.8" y="715.3" width="288" height="218.3" fill="none" stroke="#000" stroke-width="1.3"/>
<text x="1015" y="738" font-size="27.5" text-anchor="end" >Cut 3</text>
<path d="M728.8 933.32h3M728.8 921.86h3M726.3 910.4h5.5M728.8 898.94h3M728.8 887.48h3M728.8 876.02h3M728.8 864.56h3M726.3 853.1h5.5M728.8 841.64h3M728.8 830.18h3M728.8 818.72h3M728.8 807.26h3M726.3 795.8h5.5M728.8 784.34h3M728.8 772.88h3M728.8 761.42h3M728.8 749.96h3M726.3 738.5h5.5M728.8 727.04h3M728.8 715.58h3" stroke="#000" stroke-width="1.3" fill="none"/>
<path d="M732.35 933.6v3M741.9 933.6v3M751.45 933.6v3M761 933.6v5.5M770.55 933.6v3M780.1 933.6v3M789.65 933.6v3M799.2 933.6v5.5M808.75 933.6v3M818.3 933.6v3M827.85 933.6v3M837.4 933.6v5.5M846.95 933.6v3M856.5 933.6v3M866.05 933.6v3M875.6 933.6v5.5M885.15 933.6v3M894.7 933.6v3M904.25 933.6v3M913.8 933.6v5.5M923.35 933.6v3M932.9 933.6v3M942.45 933.6v3M952 933.6v5.5M961.55 933.6v3M971.1 933.6v3M980.65 933.6v3M990.2 933.6v5.5M999.75 933.6v3M1009.3 933.6v3M1018.85 933.6v3" stroke="#000" stroke-width="1.3" fill="none"/>
<text x="761" y="956.6" font-size="20" text-anchor="middle" >-0.6</text>
<text x="799.2" y="956.6" font-size="20" text-anchor="middle" >-0.4</text>
<text x="837.4" y="956.6" font-size="20" text-anchor="middle" >-0.2</text>
<text x="875.6" y="956.6" font-size="20" text-anchor="middle" >0.0</text>
<text x="913.8" y="956.6" font-size="20" text-anchor="middle" >0.2</text>
<text x="952" y="956.6" font-size="20" text-anchor="middle" >0.4</text>
<text x="990.2" y="956.6" font-size="20" text-anchor="middle" >0.6</text>
<text transform="translate(33 825) rotate(-90)" font-size="31" text-anchor="middle">E-E<tspan font-size="20" dy="8">F</tspan><tspan dy="-8"> (eV)</tspan></text>
<text x="232" y="985" font-size="31" text-anchor="middle" >k<tspan font-size="17" dy="7">//</tspan><tspan dy="-7"> (&#197;</tspan><tspan font-size="17" dy="-10">-1</tspan><tspan dy="10">)</tspan></text>
<text x="553" y="985" font-size="31" text-anchor="middle" >k<tspan font-size="17" dy="7">//</tspan><tspan dy="-7"> (&#197;</tspan><tspan font-size="17" dy="-10">-1</tspan><tspan dy="10">)</tspan></text>
<text x="876" y="985" font-size="31" text-anchor="middle" >k<tspan font-size="17" dy="7">//</tspan><tspan dy="-7"> (&#197;</tspan><tspan font-size="17" dy="-10">-1</tspan><tspan dy="10">)</tspan></text>
<text x="1043" y="729" font-size="46" font-weight="bold" >h</text>
<g clip-path="url(#cp15)">
<rect x="1088.6" y="715.5" width="288.6" height="217.8" fill="#ffffff"/>
<path d="M1085 918C1087.5 916.33 1095.72 910.97 1100 908C1104.28 905.03 1106.53 905.2 1110.7 900.2C1114.87 895.2 1120.73 885.13 1125 878C1129.27 870.87 1131.3 865.4 1136.3 857.4C1141.3 849.4 1149.28 838.27 1155 830C1160.72 821.73 1164.77 815.3 1170.6 807.8C1176.43 800.3 1184.3 791.55 1190 785C1195.7 778.45 1199.8 772.67 1204.8 768.5C1209.8 764.33 1215.15 761.92 1220 760C1224.85 758.08 1231.58 757.5 1233.9 757C1236.22 756.5 1231.22 756.5 1233.9 757C1236.58 757.5 1244.87 758.08 1250 760C1255.13 761.92 1259.37 763.5 1264.7 768.5C1270.03 773.5 1276.3 782.3 1282 790C1287.7 797.7 1293.23 806.37 1298.9 814.7C1304.57 823.03 1310.32 831.45 1316 840C1321.68 848.55 1327.33 858 1333 866C1338.67 874 1344.67 882.33 1350 888C1355.33 893.67 1360 897.17 1365 900C1370 902.83 1377.5 899.33 1380 905C1382.5 910.67 1429.17 929.17 1380 934C1330.83 938.83 1134.17 934 1085 934Z" fill="#fff8d8" filter="url(#b6)"/>
<path d="M1085 918C1087.5 916.33 1095.72 910.97 1100 908C1104.28 905.03 1106.53 905.2 1110.7 900.2C1114.87 895.2 1120.73 885.13 1125 878C1129.27 870.87 1131.3 865.4 1136.3 857.4C1141.3 849.4 1149.28 838.27 1155 830C1160.72 821.73 1164.77 815.3 1170.6 807.8C1176.43 800.3 1184.3 791.55 1190 785C1195.7 778.45 1199.8 772.67 1204.8 768.5C1209.8 764.33 1215.15 761.92 1220 760C1224.85 758.08 1231.58 757.5 1233.9 757C1236.22 756.5 1231.22 756.5 1233.9 757C1236.58 757.5 1244.87 758.08 1250 760C1255.13 761.92 1259.37 763.5 1264.7 768.5C1270.03 773.5 1276.3 782.3 1282 790C1287.7 797.7 1293.23 806.37 1298.9 814.7C1304.57 823.03 1310.32 831.45 1316 840C1321.68 848.55 1327.33 858 1333 866C1338.67 874 1344.67 882.33 1350 888C1355.33 893.67 1360 897.17 1365 900C1370 902.83 1377.5 899.33 1380 905C1382.5 910.67 1429.17 929.17 1380 934C1330.83 938.83 1134.17 934 1085 934Z" fill="#d2b838" filter="url(#b1_5)"/>
<ellipse cx="1255" cy="860" rx="40" ry="60" fill="#d8c850" filter="url(#b12)"/>
<ellipse cx="1160" cy="925" rx="50" ry="14" fill="#b87024" filter="url(#b8)"/>
<ellipse cx="1225" cy="933" rx="20" ry="5" fill="#6a1a66" filter="url(#b3)"/>
<ellipse cx="1100" cy="925" rx="14" ry="6" fill="#5a1468" filter="url(#b3)"/>
<ellipse cx="1335" cy="900" rx="22" ry="7" fill="#10001e" filter="url(#b2_5)" transform="rotate(8 1335 900)"/>
<ellipse cx="1330" cy="895" rx="22" ry="10" fill="#6a1a66" filter="url(#b5)" opacity="0.8"/>
<ellipse cx="1365" cy="905" rx="12" ry="5" fill="#10001e" filter="url(#b2)"/>
<path d="M1205 716C1214.5 716 1253.5 711.33 1262 716C1270.5 720.67 1264.33 739.33 1256 744C1247.67 748.67 1219.33 744 1212 744Z" fill="#f0e8a0" filter="url(#b5)"/>
<ellipse cx="1233.9" cy="733" rx="17" ry="9" fill="#d8c850" filter="url(#b2)"/>
</g>
<path d="M1089 867.7C1092.5 866.42 1102.12 863.7 1110 860C1117.88 856.3 1128.8 850.83 1136.3 845.5C1143.8 840.17 1149.28 834.28 1155 828C1160.72 821.72 1164.77 815.13 1170.6 807.8C1176.43 800.47 1184.3 790.27 1190 784C1195.7 777.73 1200.13 774.53 1204.8 770.2C1209.47 765.87 1213.73 760.87 1218 758C1222.27 755.13 1226.23 753.92 1230.4 753C1234.57 752.08 1238.73 752.2 1243 752.5C1247.27 752.8 1251.5 752.55 1256 754.8C1260.5 757.05 1265.7 761.73 1270 766C1274.3 770.27 1277.13 774.73 1281.8 780.4C1286.47 786.07 1292.3 792.87 1298 800C1303.7 807.13 1310.17 815.2 1316 823.2C1321.83 831.2 1327.3 839.45 1333 848C1338.7 856.55 1344.87 867.83 1350.2 874.5C1355.53 881.17 1360.5 884.28 1365 888C1369.5 891.72 1375.17 895.33 1377.2 896.8" fill="none" stroke="#111" stroke-width="4.2" stroke-linejoin="round"/>
<path d="M1089 863C1092.5 861.83 1102.12 859.67 1110 856C1117.88 852.33 1127.97 847.83 1136.3 841C1144.63 834.17 1152.72 823.5 1160 815C1167.28 806.5 1174.25 797.5 1180 790C1185.75 782.5 1190.33 776.33 1194.5 770C1198.67 763.67 1202.15 757.83 1205 752C1207.85 746.17 1208.77 739.5 1211.6 735C1214.43 730.5 1218.28 727.12 1222 725C1225.72 722.88 1229.9 722.3 1233.9 722.3C1237.9 722.3 1242.32 722.88 1246 725C1249.68 727.12 1252.83 730.5 1256 735C1259.17 739.5 1262.13 747.57 1265 752C1267.87 756.43 1269.03 756.1 1273.2 761.6C1277.37 767.1 1284.3 777.3 1290 785C1295.7 792.7 1301.57 799.8 1307.4 807.8C1313.23 815.8 1319.3 824.73 1325 833C1330.7 841.27 1335.77 848.73 1341.6 857.4C1347.43 866.07 1354.07 877.07 1360 885C1365.93 892.93 1374.33 901.67 1377.2 905" fill="none" stroke="#000" stroke-width="1.3" stroke-linejoin="round"/>
<path d="M1273.2 764C1276 768 1284.3 780.17 1290 788C1295.7 795.83 1301.57 803 1307.4 811C1313.23 819 1319.3 827.67 1325 836C1330.7 844.33 1335.77 852.17 1341.6 861C1347.43 869.83 1354.07 880.5 1360 889C1365.93 897.5 1374.33 908.17 1377.2 912" fill="none" stroke="#000" stroke-width="1.3" stroke-linejoin="round"/>
<ellipse cx="1233.9" cy="732.5" rx="19" ry="10" fill="none" stroke="#111" stroke-width="1.6"/>
<line x1="1088.6" y1="761.4" x2="1377.2" y2="761.4" stroke="#000" stroke-width="1.2" stroke-dasharray="4 3"/>
<rect x="1088.6" y="715.5" width="288.6" height="217.8" fill="none" stroke="#000" stroke-width="1.3"/>
<text x="1374" y="738" font-size="27.5" text-anchor="end" >Cut 4</text>
<path d="M1083.1 933.4h5.5M1085.6 927.66h3M1085.6 921.92h3M1085.6 916.18h3M1085.6 910.44h3M1085.6 904.7h3M1085.6 898.96h3M1085.6 893.22h3M1085.6 887.48h3M1085.6 881.74h3M1083.1 876h5.5M1085.6 870.26h3M1085.6 864.52h3M1085.6 858.78h3M1085.6 853.04h3M1085.6 847.3h3M1085.6 841.56h3M1085.6 835.82h3M1085.6 830.08h3M1085.6 824.34h3M1083.1 818.6h5.5M1085.6 812.86h3M1085.6 807.12h3M1085.6 801.38h3M1085.6 795.64h3M1085.6 789.9h3M1085.6 784.16h3M1085.6 778.42h3M1085.6 772.68h3M1085.6 766.94h3M1083.1 761.2h5.5M1085.6 755.46h3M1085.6 749.72h3M1085.6 743.98h3M1085.6 738.24h3M1085.6 732.5h3M1085.6 726.76h3M1085.6 721.02h3M1085.6 715.28h3" stroke="#000" stroke-width="1.3" fill="none"/>
<text x="1082.3" y="940.6" font-size="20" text-anchor="end" >-0.3</text>
<text x="1082.3" y="883.2" font-size="20" text-anchor="end" >-0.2</text>
<text x="1082.3" y="825.8" font-size="20" text-anchor="end" >-0.1</text>
<text x="1082.3" y="768.4" font-size="20" text-anchor="end" >0.0</text>
<path d="M1087.5 933.3v5.5M1094.75 933.3v3M1102 933.3v3M1109.25 933.3v3M1116.5 933.3v3M1123.75 933.3v3M1131 933.3v3M1138.25 933.3v3M1145.5 933.3v3M1152.75 933.3v3M1160 933.3v5.5M1167.25 933.3v3M1174.5 933.3v3M1181.75 933.3v3M1189 933.3v3M1196.25 933.3v3M1203.5 933.3v3M1210.75 933.3v3M1218 933.3v3M1225.25 933.3v3M1232.5 933.3v5.5M1239.75 933.3v3M1247 933.3v3M1254.25 933.3v3M1261.5 933.3v3M1268.75 933.3v3M1276 933.3v3M1283.25 933.3v3M1290.5 933.3v3M1297.75 933.3v3M1305 933.3v5.5M1312.25 933.3v3M1319.5 933.3v3M1326.75 933.3v3M1334 933.3v3M1341.25 933.3v3M1348.5 933.3v3M1355.75 933.3v3M1363 933.3v3M1370.25 933.3v3M1377.5 933.3v5.5" stroke="#000" stroke-width="1.3" fill="none"/>
<text x="1160" y="956.3" font-size="20" text-anchor="middle" >-0.1</text>
<text x="1232.5" y="956.3" font-size="20" text-anchor="middle" >0.0</text>
<text x="1305" y="956.3" font-size="20" text-anchor="middle" >0.1</text>
<g clip-path="url(#cp16)">
<rect x="1409.6" y="715.5" width="289.6" height="217.8" fill="#ffffff"/>
<path d="M1405 905C1407.5 901.67 1414.8 892.17 1420 885C1425.2 877.83 1427.87 874.17 1436.2 862C1444.53 849.83 1458.03 828.67 1470 812C1481.97 795.33 1498 774 1508 762C1518 750 1521.92 744.83 1530 740C1538.08 735.17 1547.67 733 1556.5 733C1565.33 733 1574.92 735.17 1583 740C1591.08 744.83 1595 750 1605 762C1615 774 1631.03 795.33 1643 812C1654.97 828.67 1668.47 849.83 1676.8 862C1685.13 874.17 1687.8 877.83 1693 885C1698.2 892.17 1706 896.83 1708 905C1710 913.17 1755.5 929.17 1705 934C1654.5 938.83 1455 934 1405 934Z" fill="#fff8d8" filter="url(#b6)"/>
<path d="M1405 905C1407.5 901.67 1414.8 892.17 1420 885C1425.2 877.83 1427.87 874.17 1436.2 862C1444.53 849.83 1458.03 828.67 1470 812C1481.97 795.33 1498 774 1508 762C1518 750 1521.92 744.83 1530 740C1538.08 735.17 1547.67 733 1556.5 733C1565.33 733 1574.92 735.17 1583 740C1591.08 744.83 1595 750 1605 762C1615 774 1631.03 795.33 1643 812C1654.97 828.67 1668.47 849.83 1676.8 862C1685.13 874.17 1687.8 877.83 1693 885C1698.2 892.17 1706 896.83 1708 905C1710 913.17 1755.5 929.17 1705 934C1654.5 938.83 1455 934 1405 934Z" fill="#d6c448" filter="url(#b1_5)"/>
<ellipse cx="1556.5" cy="880" rx="70" ry="45" fill="#e0d660" filter="url(#b14)"/>
<ellipse cx="1556.5" cy="783" rx="20" ry="8" fill="#ece490" filter="url(#b4)"/>
<path d="M1530 716C1538.67 716 1575 712 1582 716C1589 720 1579 736 1572 740C1565 744 1545.33 740 1540 740Z" fill="#d8c850" filter="url(#b2)"/>
<ellipse cx="1556.5" cy="738" rx="12" ry="5" fill="#ffffff" filter="url(#b2)"/>
</g>
<path d="M1409.6 896.3C1414.67 889.92 1429.93 871.05 1440 858C1450.07 844.95 1460 830.33 1470 818C1480 805.67 1490 792.55 1500 784C1510 775.45 1522.5 769.87 1530 766.7C1537.5 763.53 1538.67 765.28 1545 765C1551.33 764.72 1561.67 764.72 1568 765C1574.33 765.28 1575.67 763.2 1583 766.7C1590.33 770.2 1602.5 776.78 1612 786C1621.5 795.22 1630.33 809 1640 822C1649.67 835 1660.13 849.02 1670 864C1679.87 878.98 1694.33 903.92 1699.2 911.9" fill="none" stroke="#111" stroke-width="3.8" stroke-linejoin="round"/>
<path d="M1409.6 902C1414.67 895.33 1429.1 877 1440 862C1450.9 847 1463.67 827.67 1475 812C1486.33 796.33 1499.67 778.67 1508 768C1516.33 757.33 1519.78 753 1525 748C1530.22 743 1536.92 739.67 1539.3 738" fill="none" stroke="#000" stroke-width="1.3" stroke-linejoin="round"/>
<path d="M1573.6 738C1576.33 740 1584.78 745.5 1590 750C1595.22 754.5 1596.57 754.67 1604.9 765C1613.23 775.33 1629.15 796.67 1640 812C1650.85 827.33 1660.13 841.67 1670 857C1679.87 872.33 1694.33 896.17 1699.2 904" fill="none" stroke="#000" stroke-width="1.3" stroke-linejoin="round"/>
<path d="M1573.6 738C1576.33 740 1584.78 745.5 1590 750C1595.22 754.5 1596.57 754.17 1604.9 765C1613.23 775.83 1629.15 799 1640 815C1650.85 831 1660.13 845.5 1670 861C1679.87 876.5 1694.33 900.17 1699.2 908" fill="none" stroke="#000" stroke-width="1.3" stroke-linejoin="round"/>
<path d="M1544 726Q1556.5 717 1569 726" fill="none" stroke="#3a0858" stroke-width="2"/>
<line x1="1409.6" y1="761" x2="1699.2" y2="761" stroke="#000" stroke-width="1.2" stroke-dasharray="4 3"/>
<rect x="1409.6" y="715.5" width="289.6" height="217.8" fill="none" stroke="#000" stroke-width="1.3"/>
<text x="1697" y="738" font-size="27.5" text-anchor="end" >Cut 5</text>
<path d="M1404.1 933.4h5.5M1406.6 927.66h3M1406.6 921.92h3M1406.6 916.18h3M1406.6 910.44h3M1406.6 904.7h3M1406.6 898.96h3M1406.6 893.22h3M1406.6 887.48h3M1406.6 881.74h3M1404.1 876h5.5M1406.6 870.26h3M1406.6 864.52h3M1406.6 858.78h3M1406.6 853.04h3M1406.6 847.3h3M1406.6 841.56h3M1406.6 835.82h3M1406.6 830.08h3M1406.6 824.34h3M1404.1 818.6h5.5M1406.6 812.86h3M1406.6 807.12h3M1406.6 801.38h3M1406.6 795.64h3M1406.6 789.9h3M1406.6 784.16h3M1406.6 778.42h3M1406.6 772.68h3M1406.6 766.94h3M1404.1 761.2h5.5M1406.6 755.46h3M1406.6 749.72h3M1406.6 743.98h3M1406.6 738.24h3M1406.6 732.5h3M1406.6 726.76h3M1406.6 721.02h3M1406.6 715.28h3" stroke="#000" stroke-width="1.3" fill="none"/>
<path d="M1410.4 933.3v5.5M1417.61 933.3v3M1424.82 933.3v3M1432.03 933.3v3M1439.24 933.3v3M1446.45 933.3v3M1453.66 933.3v3M1460.87 933.3v3M1468.08 933.3v3M1475.29 933.3v3M1482.5 933.3v5.5M1489.71 933.3v3M1496.92 933.3v3M1504.13 933.3v3M1511.34 933.3v3M1518.55 933.3v3M1525.76 933.3v3M1532.97 933.3v3M1540.18 933.3v3M1547.39 933.3v3M1554.6 933.3v5.5M1561.81 933.3v3M1569.02 933.3v3M1576.23 933.3v3M1583.44 933.3v3M1590.65 933.3v3M1597.86 933.3v3M1605.07 933.3v3M1612.28 933.3v3M1619.49 933.3v3M1626.7 933.3v5.5M1633.91 933.3v3M1641.12 933.3v3M1648.33 933.3v3M1655.54 933.3v3M1662.75 933.3v3M1669.96 933.3v3M1677.17 933.3v3M1684.38 933.3v3M1691.59 933.3v3M1698.8 933.3v5.5" stroke="#000" stroke-width="1.3" fill="none"/>
<text x="1410.4" y="956.3" font-size="20" text-anchor="middle" >-0.2</text>
<text x="1482.5" y="956.3" font-size="20" text-anchor="middle" >-0.1</text>
<text x="1554.6" y="956.3" font-size="20" text-anchor="middle" >0.0</text>
<text x="1626.7" y="956.3" font-size="20" text-anchor="middle" >0.1</text>
<text x="1698.8" y="956.3" font-size="20" text-anchor="middle" >0.2</text>
<g clip-path="url(#cp17)">
<rect x="1729.5" y="715.5" width="288.5" height="217.8" fill="#d8c64c"/>
<path d="M1725 715C1734.98 715 1784.18 694.68 1784.9 715C1785.62 735.32 1739.28 815.23 1729.3 836.9C1719.32 858.57 1725.72 843.65 1725 845Z" fill="#ffffff" filter="url(#b2)"/>
<path d="M1729.3 836.9C1738.57 816.58 1774.45 735.32 1784.9 715C1795.35 694.68 1791.72 708.37 1792 715C1792.28 721.63 1797.05 727.35 1786.6 754.8C1776.15 782.25 1738.85 858.88 1729.3 879.7Z" fill="#efe6a0" filter="url(#b2)"/>
<path d="M1790 716C1793.43 728.33 1802.93 790 1810.6 790C1818.27 790 1831.77 728.33 1836 716Z" fill="#ffffff" filter="url(#b2)"/>
<path d="M1786.6 754.8L1817.4 833.5L1861.9 715.4L1836 715.4L1810.6 790Z" fill="url(#g11)" filter="url(#b2)"/>
<path d="M1815 800L1817 933" fill="none" stroke="#b86a30" stroke-width="16" stroke-linecap="round" stroke-linejoin="round" filter="url(#b4)"/>
<path d="M1816 850L1818 933" fill="none" stroke="#5a1468" stroke-width="6" stroke-linecap="round" stroke-linejoin="round" filter="url(#b2_5)"/>
<path d="M1817 900L1819 940" fill="none" stroke="#08001a" stroke-width="3" stroke-linecap="round" stroke-linejoin="round" filter="url(#b1)"/>
<path d="M2022.6 715C2012.62 715 1963.42 694.68 1962.7 715C1961.98 735.32 2008.32 815.23 2018.3 836.9C2028.28 858.57 2021.88 843.65 2022.6 845Z" fill="#ffffff" filter="url(#b2)"/>
<path d="M2018.3 836.9C2009.03 816.58 1973.15 735.32 1962.7 715C1952.25 694.68 1955.88 708.37 1955.6 715C1955.32 721.63 1950.55 727.35 1961 754.8C1971.45 782.25 2008.75 858.88 2018.3 879.7Z" fill="#efe6a0" filter="url(#b2)"/>
<path d="M1957.6 716C1954.17 728.33 1944.67 790 1937 790C1929.33 790 1915.83 728.33 1911.6 716Z" fill="#ffffff" filter="url(#b2)"/>
<path d="M1961 754.8L1930.2 833.5L1885.7 715.4L1911.6 715.4L1937 790Z" fill="url(#g11)" filter="url(#b2)"/>
<path d="M1932.6 800L1930.6 933" fill="none" stroke="#b86a30" stroke-width="16" stroke-linecap="round" stroke-linejoin="round" filter="url(#b4)"/>
<path d="M1931.6 850L1929.6 933" fill="none" stroke="#5a1468" stroke-width="6" stroke-linecap="round" stroke-linejoin="round" filter="url(#b2_5)"/>
<path d="M1930.6 900L1928.6 940" fill="none" stroke="#08001a" stroke-width="3" stroke-linecap="round" stroke-linejoin="round" filter="url(#b1)"/>
<path d="M1861.9 715.4L1885.7 715.4L1900 933L1848 933Z" fill="#cfb43a" filter="url(#b3)"/>
</g>
<path d="M1729.3 836.9C1733.92 826.92 1747.73 796.97 1757 777C1766.27 757.03 1780.25 727.08 1784.9 717.1" fill="none" stroke="#000" stroke-width="1.5" stroke-linejoin="round"/>
<path d="M1729.3 879.7C1734.08 869.25 1748.45 837.82 1758 817C1767.55 796.18 1779.6 759.3 1786.6 754.8C1793.6 750.3 1794.87 776.88 1800 790C1805.13 803.12 1812.4 831.83 1817.4 833.5C1822.4 835.17 1825.4 812.25 1830 800C1834.6 787.75 1839.68 774.1 1845 760C1850.32 745.9 1859.08 722.83 1861.9 715.4" fill="none" stroke="#000" stroke-width="1.8" stroke-linejoin="round"/>
<path d="M1787 742C1788.83 745 1794.07 754.45 1798 760C1801.93 765.55 1806.43 777.63 1810.6 775.3C1814.77 772.97 1818.73 755.98 1823 746C1827.27 736.02 1834 720.5 1836.2 715.4" fill="none" stroke="#000" stroke-width="1.3" stroke-linejoin="round"/>
<path d="M1791.7 734.2C1793.08 738.5 1796.85 750.3 1800 760C1803.15 769.7 1806.43 792.4 1810.6 792.4C1814.77 792.4 1819.77 772.83 1825 760C1830.23 747.17 1839.17 722.83 1842 715.4" fill="none" stroke="#000" stroke-width="1.3" stroke-linejoin="round"/>
<path d="M2018.3 836.9C2013.68 826.92 1999.87 796.97 1990.6 777C1981.33 757.03 1967.35 727.08 1962.7 717.1" fill="none" stroke="#000" stroke-width="1.5" stroke-linejoin="round"/>
<path d="M2018.3 879.7C2013.52 869.25 1999.15 837.82 1989.6 817C1980.05 796.18 1968 759.3 1961 754.8C1954 750.3 1952.73 776.88 1947.6 790C1942.47 803.12 1935.2 831.83 1930.2 833.5C1925.2 835.17 1922.2 812.25 1917.6 800C1913 787.75 1907.92 774.1 1902.6 760C1897.28 745.9 1888.52 722.83 1885.7 715.4" fill="none" stroke="#000" stroke-width="1.8" stroke-linejoin="round"/>
<path d="M1960.6 742C1958.77 745 1953.53 754.45 1949.6 760C1945.67 765.55 1941.17 777.63 1937 775.3C1932.83 772.97 1928.87 755.98 1924.6 746C1920.33 736.02 1913.6 720.5 1911.4 715.4" fill="none" stroke="#000" stroke-width="1.3" stroke-linejoin="round"/>
<path d="M1955.9 734.2C1954.52 738.5 1950.75 750.3 1947.6 760C1944.45 769.7 1941.17 792.4 1937 792.4C1932.83 792.4 1927.83 772.83 1922.6 760C1917.37 747.17 1908.43 722.83 1905.6 715.4" fill="none" stroke="#000" stroke-width="1.3" stroke-linejoin="round"/>
<line x1="1729.5" y1="761" x2="2018" y2="761" stroke="#000" stroke-width="1.2" stroke-dasharray="4 3"/>
<rect x="1729.5" y="715.5" width="288.5" height="217.8" fill="none" stroke="#000" stroke-width="1.3"/>
<text x="2015.5" y="738" font-size="27.5" text-anchor="end" >Cut 6</text>
<path d="M1724 933.4h5.5M1726.5 927.66h3M1726.5 921.92h3M1726.5 916.18h3M1726.5 910.44h3M1726.5 904.7h3M1726.5 898.96h3M1726.5 893.22h3M1726.5 887.48h3M1726.5 881.74h3M1724 876h5.5M1726.5 870.26h3M1726.5 864.52h3M1726.5 858.78h3M1726.5 853.04h3M1726.5 847.3h3M1726.5 841.56h3M1726.5 835.82h3M1726.5 830.08h3M1726.5 824.34h3M1724 818.6h5.5M1726.5 812.86h3M1726.5 807.12h3M1726.5 801.38h3M1726.5 795.64h3M1726.5 789.9h3M1726.5 784.16h3M1726.5 778.42h3M1726.5 772.68h3M1726.5 766.94h3M1724 761.2h5.5M1726.5 755.46h3M1726.5 749.72h3M1726.5 743.98h3M1726.5 738.24h3M1726.5 732.5h3M1726.5 726.76h3M1726.5 721.02h3M1726.5 715.28h3" stroke="#000" stroke-width="1.3" fill="none"/>
<path d="M1735 933.3v3M1750.5 933.3v5.5M1766 933.3v3M1781.5 933.3v3M1797 933.3v3M1812.5 933.3v5.5M1828 933.3v3M1843.5 933.3v3M1859 933.3v3M1874.5 933.3v5.5M1890 933.3v3M1905.5 933.3v3M1921 933.3v3M1936.5 933.3v5.5M1952 933.3v3M1967.5 933.3v3M1983 933.3v3M1998.5 933.3v5.5M2014 933.3v3" stroke="#000" stroke-width="1.3" fill="none"/>
<text x="1750.5" y="956.3" font-size="20" text-anchor="middle" >-0.4</text>
<text x="1812.5" y="956.3" font-size="20" text-anchor="middle" >-0.2</text>
<text x="1874.5" y="956.3" font-size="20" text-anchor="middle" >0.0</text>
<text x="1936.5" y="956.3" font-size="20" text-anchor="middle" >0.2</text>
<text x="1998.5" y="956.3" font-size="20" text-anchor="middle" >0.4</text>
<text x="1238" y="985" font-size="31" text-anchor="middle" >k<tspan font-size="17" dy="7">//</tspan><tspan dy="-7"> (&#197;</tspan><tspan font-size="17" dy="-10">-1</tspan><tspan dy="10">)</tspan></text>
<text x="1556" y="985" font-size="31" text-anchor="middle" >k<tspan font-size="17" dy="7">//</tspan><tspan dy="-7"> (&#197;</tspan><tspan font-size="17" dy="-10">-1</tspan><tspan dy="10">)</tspan></text>
<text x="1878" y="985" font-size="31" text-anchor="middle" >k<tspan font-size="17" dy="7">//</tspan><tspan dy="-7"> (&#197;</tspan><tspan font-size="17" dy="-10">-1</tspan><tspan dy="10">)</tspan></text>
<text x="0" y="1021" font-size="46" font-weight="bold" >i</text>
<g clip-path="url(#cp18)">
<rect x="85.4" y="1025.2" width="240.7" height="237" fill="url(#g12)"/>
<ellipse cx="120" cy="1110" rx="35" ry="14" fill="#c58b19" filter="url(#b8)" opacity="0.8"/>
<ellipse cx="280" cy="1100" rx="40" ry="14" fill="#c58b19" filter="url(#b8)" opacity="0.8"/>
<ellipse cx="290" cy="1200" rx="30" ry="20" fill="#c17f1e" filter="url(#b8)" opacity="0.7"/>
<path d="M206 1058C204.17 1061.67 199.33 1072.17 195 1080C190.67 1087.83 185.83 1095.83 180 1105C174.17 1114.17 167.33 1125.83 160 1135C152.67 1144.17 144.33 1153.83 136 1160C127.67 1166.17 117.67 1169 110 1172C102.33 1175 93.33 1177 90 1178" fill="none" stroke="#8a3a58" stroke-width="16" stroke-linecap="round" stroke-linejoin="round" filter="url(#b6)" opacity="0.8"/>
<ellipse cx="150" cy="1162" rx="28" ry="9" fill="#4a0c60" filter="url(#b5)"/>
<ellipse cx="110" cy="1175" rx="20" ry="7" fill="#5a1468" filter="url(#b5)"/>
<path d="M210 1061C212.5 1065 220.33 1076.33 225 1085C229.67 1093.67 233.5 1103.83 238 1113C242.5 1122.17 247.33 1132.17 252 1140C256.67 1147.83 263.67 1156.67 266 1160" fill="none" stroke="#9a4a50" stroke-width="12" stroke-linecap="round" stroke-linejoin="round" filter="url(#b6)" opacity="0.7"/>
<ellipse cx="201" cy="1206" rx="25" ry="8" fill="#5a1468" filter="url(#b6)"/>
<ellipse cx="257" cy="1160" rx="30" ry="10" fill="#6a1e64" filter="url(#b7)"/>
<ellipse cx="205" cy="1245" rx="30" ry="12" fill="#5a1468" filter="url(#b7)"/>
<ellipse cx="270" cy="1250" rx="25" ry="10" fill="#6a1e64" filter="url(#b7)"/>
<ellipse cx="300" cy="1175" rx="25" ry="8" fill="#7a2a62" filter="url(#b6)" opacity="0.7"/>
<g opacity="0.85"><rect x="85.4" y="1063.2" width="240.7" height="199" filter="url(#nzd)"/><rect x="85.4" y="1063.2" width="240.7" height="199" filter="url(#nzl)"/></g>
</g>
<path d="M190 1024C191.33 1026.17 195.37 1032.55 198 1037C200.63 1041.45 206.83 1043.28 205.8 1050.7C204.77 1058.12 197.23 1070.47 191.8 1081.5C186.37 1092.53 179.42 1106.98 173.2 1116.9C166.98 1126.82 159.78 1134.17 154.5 1141C149.22 1147.83 147.7 1153.53 141.5 1157.9C135.3 1162.27 125.38 1164.42 117.3 1167.2C109.22 1169.98 97.05 1173.37 93 1174.6" fill="none" stroke="#ff1cff" stroke-width="3.6" stroke-linecap="butt" stroke-linejoin="round"/>
<path d="M93 1172.8C96.67 1172 107.85 1169.87 115 1168C122.15 1166.13 129.23 1161.93 135.9 1161.6C142.57 1161.27 148.78 1164.43 155 1166C161.22 1167.57 167.37 1170.83 173.2 1171C179.03 1171.17 184.42 1168.42 190 1167C195.58 1165.58 203.92 1163.25 206.7 1162.5" fill="none" stroke="#ff1cff" stroke-width="2.6" stroke-linecap="butt" stroke-linejoin="round"/>
<path d="M93 1176.5C97.5 1175.92 111.3 1174.55 120 1173C128.7 1171.45 138.53 1167.7 145.2 1167.2C151.87 1166.7 154.72 1168.77 160 1170C165.28 1171.23 169.12 1173.52 176.9 1174.6C184.68 1175.68 201.73 1176.18 206.7 1176.5" fill="none" stroke="#ff1cff" stroke-width="2.6" stroke-linecap="butt" stroke-linejoin="round"/>
<path d="M93 1243.6C97.5 1240 110.5 1229.77 120 1222C129.5 1214.23 139.9 1204.9 150 1197C160.1 1189.1 171.15 1178.17 180.6 1174.6C190.05 1171.03 202.35 1175.43 206.7 1175.6" fill="none" stroke="#ff1cff" stroke-width="3.6" stroke-linecap="butt" stroke-linejoin="round"/>
<path d="M93 1245.4C97.05 1247.58 107.05 1259.4 117.3 1258.5C127.55 1257.6 142.08 1246.22 154.5 1240C166.92 1233.78 183.1 1224.48 191.8 1221.2C200.5 1217.92 204.22 1220.45 206.7 1220.3" fill="none" stroke="#ff1cff" stroke-width="3.6" stroke-linecap="butt" stroke-linejoin="round"/>
<path d="M188 1263C191.12 1261.93 203.58 1257.67 206.7 1256.6" fill="none" stroke="#ff1cff" stroke-width="3" stroke-linecap="butt" stroke-linejoin="round"/>
<circle cx="205.8" cy="1050.7" r="3.2" fill="#ff0000"/>
<text x="98" y="1049.8" font-size="28" font-weight="bold" >W1</text>
<path d="M139.6 1039.6L191.62 1048.88" stroke="#000" stroke-width="1.1" fill="none"/><path d="M199 1050.2L188.54 1051.89L191.62 1048.88L189.77 1045z" fill="#000"/>
<text x="320" y="1051.7" font-size="27.5" text-anchor="end" >Cut 1</text>
<rect x="85.4" y="1025.2" width="240.7" height="237" fill="none" stroke="#000" stroke-width="1.3"/>
<path d="M79.9 1262.4h5.5M82.4 1255.62h3M82.4 1248.84h3M82.4 1242.06h3M82.4 1235.28h3M79.9 1228.5h5.5M82.4 1221.72h3M82.4 1214.94h3M82.4 1208.16h3M82.4 1201.38h3M79.9 1194.6h5.5M82.4 1187.82h3M82.4 1181.04h3M82.4 1174.26h3M82.4 1167.48h3M79.9 1160.7h5.5M82.4 1153.92h3M82.4 1147.14h3M82.4 1140.36h3M82.4 1133.58h3M79.9 1126.8h5.5M82.4 1120.02h3M82.4 1113.24h3M82.4 1106.46h3M82.4 1099.68h3M79.9 1092.9h5.5M82.4 1086.12h3M82.4 1079.34h3M82.4 1072.56h3M82.4 1065.78h3M79.9 1059h5.5M82.4 1052.22h3M82.4 1045.44h3M82.4 1038.66h3M82.4 1031.88h3M79.9 1025.1h5.5" stroke="#000" stroke-width="1.3" fill="none"/>
<text x="79.1" y="1269.6" font-size="20" text-anchor="end" >-3.0</text>
<text x="79.1" y="1235.7" font-size="20" text-anchor="end" >-2.5</text>
<text x="79.1" y="1201.8" font-size="20" text-anchor="end" >-2.0</text>
<text x="79.1" y="1167.9" font-size="20" text-anchor="end" >-1.5</text>
<text x="79.1" y="1134" font-size="20" text-anchor="end" >-1.0</text>
<text x="79.1" y="1100.1" font-size="20" text-anchor="end" >-0.5</text>
<text x="79.1" y="1066.2" font-size="20" text-anchor="end" >0.0</text>
<text x="79.1" y="1032.3" font-size="20" text-anchor="end" >0.5</text>
<path d="M85.4 1262.2v5.5M92.92 1262.2v3M100.44 1262.2v3M107.97 1262.2v3M115.49 1262.2v3M123.01 1262.2v3M130.53 1262.2v3M138.05 1262.2v3M145.58 1262.2v5.5M153.1 1262.2v3M160.62 1262.2v3M168.14 1262.2v3M175.66 1262.2v3M183.18 1262.2v3M190.71 1262.2v3M198.23 1262.2v3M205.75 1262.2v5.5M213.27 1262.2v3M220.79 1262.2v3M228.32 1262.2v3M235.84 1262.2v3M243.36 1262.2v3M250.88 1262.2v3M258.4 1262.2v3M265.93 1262.2v5.5M273.45 1262.2v3M280.97 1262.2v3M288.49 1262.2v3M296.01 1262.2v3M303.53 1262.2v3M311.06 1262.2v3M318.58 1262.2v3M326.1 1262.2v5.5" stroke="#000" stroke-width="1.3" fill="none"/>
<text x="85.4" y="1284.7" font-size="20" text-anchor="middle" >-0.8</text>
<text x="145.58" y="1284.7" font-size="20" text-anchor="middle" >-0.4</text>
<text x="205.75" y="1284.7" font-size="20" text-anchor="middle" >0.0</text>
<text x="265.93" y="1284.7" font-size="20" text-anchor="middle" >0.4</text>
<text x="326.1" y="1284.7" font-size="20" text-anchor="middle" >0.8</text>
<g clip-path="url(#cp19)">
<text x="170.75" y="1308.5" font-size="28" >k</text>
<text x="184.75" y="1318" font-size="17" font-style="italic">//</text>
<text x="200.75" y="1308.5" font-size="28" >(&#197;<tspan font-size="16" dy="-9">-1</tspan><tspan dy="9">)</tspan></text>
</g>
<text transform="translate(33 1150) rotate(-90)" font-size="31" text-anchor="middle">E-E<tspan font-size="20" dy="8">F</tspan><tspan dy="-8"> (eV)</tspan></text>
<text x="351" y="1021" font-size="46" font-weight="bold" >j</text>
<g clip-path="url(#cp20)">
<rect x="374.4" y="1025.2" width="240.6" height="237" fill="url(#g13)"/>
<ellipse cx="405" cy="1142" rx="30" ry="18" fill="#4a0c60" filter="url(#b8)"/>
<ellipse cx="395" cy="1150" rx="20" ry="8" fill="#2a0448" filter="url(#b4)"/>
<ellipse cx="440" cy="1207" rx="35" ry="14" fill="#5a1468" filter="url(#b8)"/>
<ellipse cx="570" cy="1142" rx="45" ry="18" fill="#6a1e64" filter="url(#b9)"/>
<ellipse cx="530" cy="1200" rx="35" ry="10" fill="#6a1e64" filter="url(#b8)"/>
<ellipse cx="585" cy="1215" rx="30" ry="10" fill="#7a2a62" filter="url(#b8)"/>
<ellipse cx="480" cy="1100" rx="40" ry="12" fill="#c18519" filter="url(#b8)" opacity="0.7"/>
<ellipse cx="560" cy="1180" rx="25" ry="8" fill="#c18519" filter="url(#b6)" opacity="0.6"/>
<ellipse cx="420" cy="1255" rx="35" ry="8" fill="#6a1e64" filter="url(#b6)"/>
<g opacity="0.85"><rect x="374.4" y="1063.2" width="240.6" height="199" filter="url(#nzd)"/><rect x="374.4" y="1063.2" width="240.6" height="199" filter="url(#nzl)"/></g>
</g>
<path d="M470 1024C471.67 1026.67 476.45 1034.7 480 1040C483.55 1045.3 489.42 1053.17 491.3 1055.8" fill="none" stroke="#ff1cff" stroke-width="3" stroke-linecap="butt" stroke-linejoin="round"/>
<path d="M484 1026C484.5 1028.67 485.78 1037.03 487 1042C488.22 1046.97 489.8 1053.97 491.3 1055.8C492.8 1057.63 495.22 1053.47 496 1053" fill="none" stroke="#ff1cff" stroke-width="2.4" stroke-linecap="butt" stroke-linejoin="round"/>
<path d="M491.3 1057.4C490.08 1060.33 486.52 1069 484 1075C481.48 1081 479.37 1087.57 476.2 1093.4C473.03 1099.23 468.65 1105.3 465 1110C461.35 1114.7 458.47 1118.1 454.3 1121.6C450.13 1125.1 445.22 1128.38 440 1131C434.78 1133.62 429.67 1135.13 423 1137.3C416.33 1139.47 407.05 1142.18 400 1144C392.95 1145.82 383.92 1147.5 380.7 1148.2" fill="none" stroke="#ff1cff" stroke-width="3.4" stroke-linecap="butt" stroke-linejoin="round"/>
<path d="M380.7 1145C383.08 1145.83 390.57 1148.67 395 1150C399.43 1151.33 402.3 1153.33 407.3 1153C412.3 1152.67 419.78 1149.58 425 1148C430.22 1146.42 433.72 1145.83 438.6 1143.5C443.48 1141.17 451.68 1135.58 454.3 1134" fill="none" stroke="#ff1cff" stroke-width="2.6" stroke-linecap="butt" stroke-linejoin="round"/>
<path d="M380.7 1151C385.13 1151.83 399.92 1156 407.3 1156C414.68 1156 418.72 1153.67 425 1151C431.28 1148.33 441.67 1141.83 445 1140" fill="none" stroke="#ff1cff" stroke-width="2.4" stroke-linecap="butt" stroke-linejoin="round"/>
<path d="M416.7 1148.2C418.92 1146.83 424.25 1142.37 430 1140C435.75 1137.63 444.53 1134.5 451.2 1134C457.87 1133.5 462.7 1134.63 470 1137C477.3 1139.37 490.83 1146.33 495 1148.2" fill="none" stroke="#ff1cff" stroke-width="4" stroke-linecap="butt" stroke-linejoin="round"/>
<path d="M380.7 1196.8C384.75 1197.33 397.45 1198.47 405 1200C412.55 1201.53 420.17 1206 426 1206C431.83 1206 435.28 1202.58 440 1200C444.72 1197.42 448.47 1195.17 454.3 1190.5C460.13 1185.83 468.22 1176.97 475 1172C481.78 1167.03 491.67 1162.58 495 1160.7" fill="none" stroke="#ff1cff" stroke-width="3.4" stroke-linecap="butt" stroke-linejoin="round"/>
<path d="M423 1240.6C425.83 1239.67 433.75 1236.57 440 1235C446.25 1233.43 451.33 1232.08 460.5 1231.2C469.67 1230.32 489.25 1229.95 495 1229.7" fill="none" stroke="#ff1cff" stroke-width="4" stroke-linecap="butt" stroke-linejoin="round"/>
<path d="M380.7 1257.9C383.92 1257.58 392.95 1256.82 400 1256C407.05 1255.18 415.5 1254.67 423 1253C430.5 1251.33 437.17 1248.58 445 1246C452.83 1243.42 461.67 1239.17 470 1237.5C478.33 1235.83 490.83 1236.25 495 1236" fill="none" stroke="#ff1cff" stroke-width="3.4" stroke-linecap="butt" stroke-linejoin="round"/>
<path d="M463.7 1263C466.42 1260.83 474.78 1253.73 480 1250C485.22 1246.27 492.5 1242.17 495 1240.6" fill="none" stroke="#ff1cff" stroke-width="2.6" stroke-linecap="butt" stroke-linejoin="round"/>
<circle cx="491.3" cy="1055.8" r="3.2" fill="#0000ff"/>
<text x="383" y="1049.5" font-size="28" font-weight="bold" >W2</text>
<path d="M430.8 1041.7L477.24 1053.63" stroke="#000" stroke-width="1.1" fill="none"/><path d="M484.5 1055.5L473.94 1056.4L477.24 1053.63L475.69 1049.62z" fill="#000"/>
<text x="611" y="1049.5" font-size="27.5" text-anchor="end" >Cut 3</text>
<rect x="374.4" y="1025.2" width="240.6" height="237" fill="none" stroke="#000" stroke-width="1.3"/>
<path d="M368.9 1262.4h5.5M371.4 1255.62h3M371.4 1248.84h3M371.4 1242.06h3M371.4 1235.28h3M368.9 1228.5h5.5M371.4 1221.72h3M371.4 1214.94h3M371.4 1208.16h3M371.4 1201.38h3M368.9 1194.6h5.5M371.4 1187.82h3M371.4 1181.04h3M371.4 1174.26h3M371.4 1167.48h3M368.9 1160.7h5.5M371.4 1153.92h3M371.4 1147.14h3M371.4 1140.36h3M371.4 1133.58h3M368.9 1126.8h5.5M371.4 1120.02h3M371.4 1113.24h3M371.4 1106.46h3M371.4 1099.68h3M368.9 1092.9h5.5M371.4 1086.12h3M371.4 1079.34h3M371.4 1072.56h3M371.4 1065.78h3M368.9 1059h5.5M371.4 1052.22h3M371.4 1045.44h3M371.4 1038.66h3M371.4 1031.88h3M368.9 1025.1h5.5" stroke="#000" stroke-width="1.3" fill="none"/>
<path d="M374.4 1262.2v5.5M381.92 1262.2v3M389.44 1262.2v3M396.96 1262.2v3M404.47 1262.2v3M411.99 1262.2v3M419.51 1262.2v3M427.03 1262.2v3M434.55 1262.2v5.5M442.07 1262.2v3M449.59 1262.2v3M457.11 1262.2v3M464.62 1262.2v3M472.14 1262.2v3M479.66 1262.2v3M487.18 1262.2v3M494.7 1262.2v5.5M502.22 1262.2v3M509.74 1262.2v3M517.26 1262.2v3M524.77 1262.2v3M532.29 1262.2v3M539.81 1262.2v3M547.33 1262.2v3M554.85 1262.2v5.5M562.37 1262.2v3M569.89 1262.2v3M577.41 1262.2v3M584.92 1262.2v3M592.44 1262.2v3M599.96 1262.2v3M607.48 1262.2v3M615 1262.2v5.5" stroke="#000" stroke-width="1.3" fill="none"/>
<text x="374.4" y="1284.7" font-size="20" text-anchor="middle" >-0.8</text>
<text x="434.55" y="1284.7" font-size="20" text-anchor="middle" >-0.4</text>
<text x="494.7" y="1284.7" font-size="20" text-anchor="middle" >0.0</text>
<text x="554.85" y="1284.7" font-size="20" text-anchor="middle" >0.4</text>
<text x="615" y="1284.7" font-size="20" text-anchor="middle" >0.8</text>
<g clip-path="url(#cp21)">
<text x="459.7" y="1308.5" font-size="28" >k</text>
<text x="473.7" y="1318" font-size="17" font-style="italic">//</text>
<text x="489.7" y="1308.5" font-size="28" >(&#197;<tspan font-size="16" dy="-9">-1</tspan><tspan dy="9">)</tspan></text>
</g>
<text x="630" y="1021" font-size="46" font-weight="bold" >k</text>
<g clip-path="url(#cp22)">
<rect x="664" y="1025.2" width="240.7" height="237" fill="url(#g14)"/>
<ellipse cx="715" cy="1125" rx="55" ry="70" fill="#cfa42c" filter="url(#b16)" opacity="0.75"/>
<ellipse cx="700" cy="1110" rx="40" ry="14" fill="#d0b038" filter="url(#b8)" opacity="0.8"/>
<ellipse cx="700" cy="1195" rx="35" ry="25" fill="#c58b1d" filter="url(#b9)" opacity="0.7"/>
<path d="M790 1066C793.33 1070.33 802.92 1083.42 810 1092C817.08 1100.58 825 1111.17 832.5 1117.5C840 1123.83 847.42 1126.97 855 1130C862.58 1133.03 874.17 1134.75 878 1135.7" fill="none" stroke="#4a0c60" stroke-width="18" stroke-linecap="round" stroke-linejoin="round" filter="url(#b6)"/>
<ellipse cx="845" cy="1082" rx="25" ry="7" fill="#4a0c60" filter="url(#b5)"/>
<ellipse cx="711" cy="1145" rx="30" ry="9" fill="#5a1468" filter="url(#b6)"/>
<ellipse cx="847.6" cy="1199.4" rx="30" ry="12" fill="#3a0858" filter="url(#b6)"/>
<ellipse cx="847.6" cy="1199.4" rx="10" ry="4" fill="#10001e" filter="url(#b2)"/>
<ellipse cx="878" cy="1245" rx="25" ry="18" fill="#4a0c60" filter="url(#b7)"/>
<ellipse cx="815" cy="1230" rx="25" ry="10" fill="#7a2a62" filter="url(#b7)" opacity="0.7"/>
<ellipse cx="880" cy="1160" rx="20" ry="14" fill="#7a2a62" filter="url(#b7)" opacity="0.7"/>
<g opacity="0.85"><rect x="664" y="1063.2" width="240.7" height="199" filter="url(#nzd)"/><rect x="664" y="1063.2" width="240.7" height="199" filter="url(#nzl)"/></g>
</g>
<path d="M689.8 1026C691.32 1028.1 695.87 1038.6 698.9 1038.6C701.93 1038.6 706.48 1028.1 708 1026" fill="none" stroke="#ff1cff" stroke-width="2.6" stroke-linecap="butt" stroke-linejoin="round"/>
<path d="M689.8 1029C691.32 1031.33 695.87 1043 698.9 1043C701.93 1043 706.48 1031.33 708 1029" fill="none" stroke="#ff1cff" stroke-width="2.2" stroke-linecap="butt" stroke-linejoin="round"/>
<path d="M759.6 1024C761.63 1027.95 768.37 1042.48 771.8 1047.7C775.23 1052.92 778.18 1054.58 780.2 1055.3C782.22 1056.02 783.28 1052.55 783.9 1052" fill="none" stroke="#ff1cff" stroke-width="3" stroke-linecap="butt" stroke-linejoin="round"/>
<path d="M689.8 1084C691.32 1080.98 695.37 1067.4 698.9 1065.9C702.43 1064.4 704.93 1071.98 711 1075C717.07 1078.02 727.2 1084.5 735.3 1084C743.4 1083.5 751.5 1076.78 759.6 1072C767.7 1067.22 779.85 1058.08 783.9 1055.3" fill="none" stroke="#ff1cff" stroke-width="3" stroke-linecap="butt" stroke-linejoin="round"/>
<path d="M783.9 1087C781.58 1089 774.55 1094.93 770 1099C765.45 1103.07 761.6 1106.9 756.6 1111.4C751.6 1115.9 745.07 1121.45 740 1126C734.93 1130.55 734.57 1132.03 726.2 1138.7C717.83 1145.37 695.87 1161.45 689.8 1166" fill="none" stroke="#ff1cff" stroke-width="3" stroke-linecap="butt" stroke-linejoin="round"/>
<path d="M783.9 1091C779.35 1095 766.22 1106.38 756.6 1115C746.98 1123.62 737.33 1133.7 726.2 1142.7C715.07 1151.7 695.87 1164.62 689.8 1169" fill="none" stroke="#ff1cff" stroke-width="2.4" stroke-linecap="butt" stroke-linejoin="round"/>
<path d="M689.8 1161.5C693.17 1161.42 702.42 1160.75 710 1161C717.58 1161.25 726.02 1160.13 735.3 1163C744.58 1165.87 757.6 1174.4 765.7 1178.2C773.8 1182 780.87 1184.53 783.9 1185.8" fill="none" stroke="#ff1cff" stroke-width="3" stroke-linecap="butt" stroke-linejoin="round"/>
<path d="M689.8 1214.6C692.33 1212.5 698.93 1206.05 705 1202C711.07 1197.95 717.6 1193.27 726.2 1190.3C734.8 1187.33 746.98 1184.8 756.6 1184.2C766.22 1183.6 779.35 1186.28 783.9 1186.7" fill="none" stroke="#ff1cff" stroke-width="3" stroke-linecap="butt" stroke-linejoin="round"/>
<path d="M689.8 1258.6C692.33 1257.5 699.43 1253.77 705 1252C710.57 1250.23 717.37 1248 723.2 1248C729.03 1248 735.45 1249.5 740 1252C744.55 1254.5 748.75 1261.17 750.5 1263" fill="none" stroke="#ff1cff" stroke-width="3" stroke-linecap="butt" stroke-linejoin="round"/>
<circle cx="780.2" cy="1055.3" r="3.2" fill="#ff0000"/>
<text x="671" y="1061.3" font-size="28" font-weight="bold" >W3&#8217;</text>
<path d="M717 1052.2L767.51 1054.9" stroke="#000" stroke-width="1.1" fill="none"/><path d="M775 1055.3L764.83 1058.26L767.51 1054.9L765.2 1051.27z" fill="#000"/>
<text x="899" y="1052.2" font-size="27.5" text-anchor="end" >Cut 5</text>
<rect x="664" y="1025.2" width="240.7" height="237" fill="none" stroke="#000" stroke-width="1.3"/>
<path d="M658.5 1262.4h5.5M661 1255.62h3M661 1248.84h3M661 1242.06h3M661 1235.28h3M658.5 1228.5h5.5M661 1221.72h3M661 1214.94h3M661 1208.16h3M661 1201.38h3M658.5 1194.6h5.5M661 1187.82h3M661 1181.04h3M661 1174.26h3M661 1167.48h3M658.5 1160.7h5.5M661 1153.92h3M661 1147.14h3M661 1140.36h3M661 1133.58h3M658.5 1126.8h5.5M661 1120.02h3M661 1113.24h3M661 1106.46h3M661 1099.68h3M658.5 1092.9h5.5M661 1086.12h3M661 1079.34h3M661 1072.56h3M661 1065.78h3M658.5 1059h5.5M661 1052.22h3M661 1045.44h3M661 1038.66h3M661 1031.88h3M658.5 1025.1h5.5" stroke="#000" stroke-width="1.3" fill="none"/>
<path d="M664 1262.2v5.5M671.52 1262.2v3M679.04 1262.2v3M686.57 1262.2v3M694.09 1262.2v3M701.61 1262.2v3M709.13 1262.2v3M716.65 1262.2v3M724.17 1262.2v5.5M731.7 1262.2v3M739.22 1262.2v3M746.74 1262.2v3M754.26 1262.2v3M761.78 1262.2v3M769.31 1262.2v3M776.83 1262.2v3M784.35 1262.2v5.5M791.87 1262.2v3M799.39 1262.2v3M806.92 1262.2v3M814.44 1262.2v3M821.96 1262.2v3M829.48 1262.2v3M837 1262.2v3M844.53 1262.2v5.5M852.05 1262.2v3M859.57 1262.2v3M867.09 1262.2v3M874.61 1262.2v3M882.13 1262.2v3M889.66 1262.2v3M897.18 1262.2v3M904.7 1262.2v5.5" stroke="#000" stroke-width="1.3" fill="none"/>
<text x="664" y="1284.7" font-size="20" text-anchor="middle" >-0.8</text>
<text x="724.17" y="1284.7" font-size="20" text-anchor="middle" >-0.4</text>
<text x="784.35" y="1284.7" font-size="20" text-anchor="middle" >0.0</text>
<text x="844.53" y="1284.7" font-size="20" text-anchor="middle" >0.4</text>
<text x="904.7" y="1284.7" font-size="20" text-anchor="middle" >0.8</text>
<g clip-path="url(#cp23)">
<text x="749.35" y="1308.5" font-size="28" >k</text>
<text x="763.35" y="1318" font-size="17" font-style="italic">//</text>
<text x="779.35" y="1308.5" font-size="28" >(&#197;<tspan font-size="16" dy="-9">-1</tspan><tspan dy="9">)</tspan></text>
</g>
<text x="934" y="1021" font-size="46" font-weight="bold" >l</text>
<g clip-path="url(#cp24)">
<rect x="953.2" y="1025.2" width="240.4" height="237" fill="url(#g15)"/>
<path d="M1093.5 1066C1096.25 1068.33 1105.45 1075 1110 1080C1114.55 1085 1116.63 1089.33 1120.8 1096C1124.97 1102.67 1129.97 1112.38 1135 1120C1140.03 1127.62 1145.17 1136.7 1151 1141.7C1156.83 1146.7 1162.67 1147.95 1170 1150C1177.33 1152.05 1190.83 1153.33 1195 1154" fill="none" stroke="#4a0c60" stroke-width="18" stroke-linecap="round" stroke-linejoin="round" filter="url(#b6)"/>
<ellipse cx="1000" cy="1105" rx="45" ry="40" fill="#cca02e" filter="url(#b14)" opacity="0.6"/>
<ellipse cx="1112" cy="1078" rx="16" ry="8" fill="#4a0c60" filter="url(#b4)"/>
<ellipse cx="980" cy="1148" rx="25" ry="12" fill="#4a0c60" filter="url(#b6)"/>
<ellipse cx="1035" cy="1088" rx="25" ry="8" fill="#6a1e64" filter="url(#b6)"/>
<ellipse cx="1040" cy="1200" rx="40" ry="8" fill="#7a2a62" filter="url(#b6)" opacity="0.8"/>
<ellipse cx="1120" cy="1210" rx="30" ry="10" fill="#7a2a62" filter="url(#b7)" opacity="0.7"/>
<ellipse cx="1165" cy="1250" rx="25" ry="10" fill="#6a1e64" filter="url(#b7)"/>
<ellipse cx="990" cy="1240" rx="30" ry="10" fill="#7a2a62" filter="url(#b7)" opacity="0.7"/>
<ellipse cx="1150" cy="1180" rx="30" ry="12" fill="#c18519" filter="url(#b7)" opacity="0.6"/>
<g opacity="0.85"><rect x="953.2" y="1063.2" width="240.4" height="199" filter="url(#nzd)"/><rect x="953.2" y="1063.2" width="240.4" height="199" filter="url(#nzl)"/></g>
</g>
<path d="M984.2 1025C988.5 1027.5 1001.65 1034.8 1010 1040C1018.35 1045.2 1027.47 1050.87 1034.3 1056.2C1041.13 1061.53 1046.72 1067.37 1051 1072C1055.28 1076.63 1056.22 1080.22 1060 1084C1063.78 1087.78 1071.42 1092.92 1073.7 1094.7" fill="none" stroke="#ff1cff" stroke-width="3" stroke-linecap="butt" stroke-linejoin="round"/>
<path d="M990 1025C994 1027.83 1006.33 1036.5 1014 1042C1021.67 1047.5 1029.5 1052.5 1036 1058C1042.5 1063.5 1046.72 1068.17 1053 1075C1059.28 1081.83 1070.25 1095 1073.7 1099" fill="none" stroke="#ff1cff" stroke-width="2.4" stroke-linecap="butt" stroke-linejoin="round"/>
<path d="M1051 1025C1049.5 1027.83 1044.78 1036.8 1042 1042C1039.22 1047.2 1038.88 1052.22 1034.3 1056.2C1029.72 1060.18 1022.85 1060.27 1014.5 1065.9C1006.15 1071.53 991.62 1082.65 984.2 1090C976.78 1097.35 974.03 1103.4 970 1110C965.97 1116.6 961.67 1126.33 960 1129.6" fill="none" stroke="#ff1cff" stroke-width="3" stroke-linecap="butt" stroke-linejoin="round"/>
<path d="M960 1155.4C964.03 1150.6 977.53 1135 984.2 1126.6C990.87 1118.2 994.95 1111.1 1000 1105C1005.05 1098.9 1008.53 1094 1014.5 1090C1020.47 1086 1029.22 1080.47 1035.8 1081C1042.38 1081.53 1047.68 1087.63 1054 1093.2C1060.32 1098.77 1070.42 1110.87 1073.7 1114.4" fill="none" stroke="#ff1cff" stroke-width="3.6" stroke-linecap="butt" stroke-linejoin="round"/>
<path d="M960 1158.4C964.03 1153.67 977.53 1138.23 984.2 1130C990.87 1121.77 994.95 1115 1000 1109C1005.05 1103 1009.5 1097.5 1014.5 1094C1019.5 1090.5 1027.42 1089 1030 1088" fill="none" stroke="#ff1cff" stroke-width="2.4" stroke-linecap="butt" stroke-linejoin="round"/>
<path d="M960 1184.2C966.57 1184.72 988.78 1187.3 999.4 1187.3C1010.02 1187.3 1011.32 1184.97 1023.7 1184.2C1036.08 1183.43 1065.37 1182.95 1073.7 1182.7" fill="none" stroke="#ff1cff" stroke-width="4" stroke-linecap="butt" stroke-linejoin="round"/>
<path d="M960 1229.8C963.33 1227.83 973.43 1221.55 980 1218C986.57 1214.45 991.9 1212.83 999.4 1208.5C1006.9 1204.17 1017.4 1197.58 1025 1192C1032.6 1186.42 1036.88 1181.1 1045 1175C1053.12 1168.9 1068.92 1158.67 1073.7 1155.4" fill="none" stroke="#ff1cff" stroke-width="3.4" stroke-linecap="butt" stroke-linejoin="round"/>
<path d="M1029 1263C1031.67 1260.5 1040 1252.53 1045 1248C1050 1243.47 1054.22 1239.1 1059 1235.8C1063.78 1232.5 1071.25 1229.47 1073.7 1228.2" fill="none" stroke="#ff1cff" stroke-width="3.4" stroke-linecap="butt" stroke-linejoin="round"/>
<path d="M1051 1263C1052.5 1260.83 1056.22 1254.02 1060 1250C1063.78 1245.98 1071.42 1240.75 1073.7 1238.9" fill="none" stroke="#ff1cff" stroke-width="3.4" stroke-linecap="butt" stroke-linejoin="round"/>
<circle cx="1034.3" cy="1056.2" r="3.2" fill="#ff0000"/>
<text x="1070" y="1049.2" font-size="28" font-weight="bold" >W3</text>
<path d="M1070.7 1044L1046.07 1052.7" stroke="#000" stroke-width="1.1" fill="none"/><path d="M1039 1055.2L1047.26 1048.57L1046.07 1052.7L1049.59 1055.17z" fill="#000"/>
<text x="1190.5" y="1052.2" font-size="27.5" text-anchor="end" >Cut 6</text>
<rect x="953.2" y="1025.2" width="240.4" height="237" fill="none" stroke="#000" stroke-width="1.3"/>
<path d="M947.7 1262.4h5.5M950.2 1255.62h3M950.2 1248.84h3M950.2 1242.06h3M950.2 1235.28h3M947.7 1228.5h5.5M950.2 1221.72h3M950.2 1214.94h3M950.2 1208.16h3M950.2 1201.38h3M947.7 1194.6h5.5M950.2 1187.82h3M950.2 1181.04h3M950.2 1174.26h3M950.2 1167.48h3M947.7 1160.7h5.5M950.2 1153.92h3M950.2 1147.14h3M950.2 1140.36h3M950.2 1133.58h3M947.7 1126.8h5.5M950.2 1120.02h3M950.2 1113.24h3M950.2 1106.46h3M950.2 1099.68h3M947.7 1092.9h5.5M950.2 1086.12h3M950.2 1079.34h3M950.2 1072.56h3M950.2 1065.78h3M947.7 1059h5.5M950.2 1052.22h3M950.2 1045.44h3M950.2 1038.66h3M950.2 1031.88h3M947.7 1025.1h5.5" stroke="#000" stroke-width="1.3" fill="none"/>
<path d="M953.2 1262.2v5.5M960.71 1262.2v3M968.23 1262.2v3M975.74 1262.2v3M983.25 1262.2v3M990.76 1262.2v3M998.27 1262.2v3M1005.79 1262.2v3M1013.3 1262.2v5.5M1020.81 1262.2v3M1028.33 1262.2v3M1035.84 1262.2v3M1043.35 1262.2v3M1050.86 1262.2v3M1058.38 1262.2v3M1065.89 1262.2v3M1073.4 1262.2v5.5M1080.91 1262.2v3M1088.42 1262.2v3M1095.94 1262.2v3M1103.45 1262.2v3M1110.96 1262.2v3M1118.47 1262.2v3M1125.99 1262.2v3M1133.5 1262.2v5.5M1141.01 1262.2v3M1148.52 1262.2v3M1156.04 1262.2v3M1163.55 1262.2v3M1171.06 1262.2v3M1178.57 1262.2v3M1186.09 1262.2v3M1193.6 1262.2v5.5" stroke="#000" stroke-width="1.3" fill="none"/>
<text x="953.2" y="1284.7" font-size="20" text-anchor="middle" >-0.8</text>
<text x="1013.3" y="1284.7" font-size="20" text-anchor="middle" >-0.4</text>
<text x="1073.4" y="1284.7" font-size="20" text-anchor="middle" >0.0</text>
<text x="1133.5" y="1284.7" font-size="20" text-anchor="middle" >0.4</text>
<text x="1193.6" y="1284.7" font-size="20" text-anchor="middle" >0.8</text>
<g clip-path="url(#cp25)">
<text x="1038.4" y="1308.5" font-size="28" >k</text>
<text x="1052.4" y="1318" font-size="17" font-style="italic">//</text>
<text x="1068.4" y="1308.5" font-size="28" >(&#197;<tspan font-size="16" dy="-9">-1</tspan><tspan dy="9">)</tspan></text>
</g>
<text x="1217" y="1022" font-size="46" font-weight="bold" >m</text>
<g clip-path="url(#cp26)">
<rect x="1288.6" y="1043.8" width="217.2" height="217.3" fill="#ffffff"/>
<path d="M1388.5 1189.2L1431.6 1143.7" fill="none" stroke="#f0eca0" stroke-width="12" stroke-linecap="round" stroke-linejoin="round" filter="url(#b1_5)"/>
<ellipse cx="1455" cy="1166" rx="26" ry="10" fill="#f2eec0" filter="url(#b5)"/>
<ellipse cx="1446" cy="1165.5" rx="15" ry="9" fill="#d8b840" filter="url(#b2_5)"/>
<ellipse cx="1443.6" cy="1165.3" rx="11" ry="7" fill="#000000" filter="url(#b1_2)"/>
<path d="M1363.3 1160.5C1364.42 1157.75 1366.38 1149.25 1370 1144C1373.62 1138.75 1380.33 1132.83 1385 1129C1389.67 1125.17 1394.62 1122.73 1398 1121C1401.38 1119.27 1404.08 1119 1405.3 1118.6" fill="none" stroke="#f4eeb0" stroke-width="9" stroke-linecap="round" stroke-linejoin="round" filter="url(#b2)"/><path d="M1363.3 1160.5C1364.42 1157.75 1366.38 1149.25 1370 1144C1373.62 1138.75 1380.33 1132.83 1385 1129C1389.67 1125.17 1394.62 1122.73 1398 1121C1401.38 1119.27 1404.08 1119 1405.3 1118.6" fill="none" stroke="#d8c450" stroke-width="4.5" stroke-linecap="round" stroke-linejoin="round" filter="url(#b1)"/><path d="M1363.3 1160.5C1364.42 1157.75 1366.38 1149.25 1370 1144C1373.62 1138.75 1380.33 1132.83 1385 1129C1389.67 1125.17 1394.62 1122.73 1398 1121C1401.38 1119.27 1404.08 1119 1405.3 1118.6" fill="none" stroke="#000" stroke-width="1.6" stroke-linejoin="round"/>
</g>
<circle cx="1408.4" cy="1121.7" r="4.4" fill="#ff0000"/>
<circle cx="1365.7" cy="1164" r="4.4" fill="#0000ff"/>
<circle cx="1436.4" cy="1139.6" r="4.4" fill="#ff0000"/>
<circle cx="1428.7" cy="1150.9" r="4.4" fill="#0000ff"/>
<circle cx="1395.2" cy="1184.4" r="4.4" fill="#ff0000"/>
<circle cx="1384.2" cy="1192" r="4.4" fill="#0000ff"/>
<text x="1316" y="1104.2" font-size="27" font-weight="bold" >W3&#8217;</text>
<path d="M1357.4 1104.2L1398.02 1114.38" stroke="#000" stroke-width="1.1" fill="none"/><path d="M1405.3 1116.2L1394.75 1117.16L1398.02 1114.38L1396.45 1110.37z" fill="#000"/>
<path d="M1346.6 1112.6L1357.83 1153.76" stroke="#000" stroke-width="1.1" fill="none"/><path d="M1359.8 1161L1353.79 1152.27L1357.83 1153.76L1360.55 1150.43z" fill="#000"/>
<text x="1472.5" y="1063.5" font-size="23" text-anchor="middle" >I(k, &#969;)</text>
<text x="1471" y="1087.4" font-size="23" text-anchor="middle" >High</text>
<rect x="1461.5" y="1095.8" width="18" height="30.7" fill="url(#cb)" stroke="#222" stroke-width="1.3"/>
<text x="1472" y="1144.9" font-size="23" text-anchor="middle" >Low</text>
<rect x="1288.6" y="1043.8" width="217.2" height="217.3" fill="none" stroke="#000" stroke-width="1.3"/>
<path d="M1283.1 1261.2h5.5M1285.6 1250.33h3M1285.6 1239.46h3M1285.6 1228.59h3M1285.6 1217.72h3M1285.6 1206.85h3M1285.6 1195.98h3M1285.6 1185.11h3M1285.6 1174.24h3M1285.6 1163.37h3M1283.1 1152.5h5.5M1285.6 1141.63h3M1285.6 1130.76h3M1285.6 1119.89h3M1285.6 1109.02h3M1285.6 1098.15h3M1285.6 1087.28h3M1285.6 1076.41h3M1285.6 1065.54h3M1285.6 1054.67h3M1283.1 1043.8h5.5" stroke="#000" stroke-width="1.3" fill="none"/>
<text x="1281.6" y="1268.4" font-size="20" text-anchor="end" >0.2</text>
<text x="1281.6" y="1159.7" font-size="20" text-anchor="end" >0.3</text>
<text x="1281.6" y="1051" font-size="20" text-anchor="end" >0.4</text>
<path d="M1288.6 1261.1v5.5M1299.46 1261.1v3M1310.32 1261.1v3M1321.18 1261.1v3M1332.04 1261.1v3M1342.9 1261.1v3M1353.76 1261.1v3M1364.62 1261.1v3M1375.48 1261.1v3M1386.34 1261.1v3M1397.2 1261.1v5.5M1408.06 1261.1v3M1418.92 1261.1v3M1429.78 1261.1v3M1440.64 1261.1v3M1451.5 1261.1v3M1462.36 1261.1v3M1473.22 1261.1v3M1484.08 1261.1v3M1494.94 1261.1v3M1505.8 1261.1v5.5" stroke="#000" stroke-width="1.3" fill="none"/>
<text x="1288.6" y="1283.6" font-size="20" text-anchor="middle" >-0.4</text>
<text x="1397.2" y="1283.6" font-size="20" text-anchor="middle" >-0.3</text>
<text x="1505.8" y="1283.6" font-size="20" text-anchor="middle" >-0.2</text>
<text x="1366.1" y="1308.7" font-size="29" >k</text>
<text x="1397.1" y="1308.7" font-size="29" >(&#197;<tspan font-size="17" dy="-9.5">-1</tspan><tspan dy="9.5">)</tspan></text>
<text x="1293.6" y="1071.5" font-size="32" font-weight="bold" >1</text>
<text x="1358.6" y="1032.3" font-size="24" font-weight="bold" >E = E<tspan font-size="15" dy="9">W3&#8217;</tspan></text>
<g clip-path="url(#cp27)">
<rect x="1544.5" y="1043.8" width="218.7" height="217.3" fill="#ffffff"/>
<path d="M1645.6 1188L1682.7 1151" fill="none" stroke="#f0eca0" stroke-width="10" stroke-linecap="round" stroke-linejoin="round" filter="url(#b1_5)"/>
<path d="M1691 1142.7C1694.43 1143.38 1705.77 1144.08 1711.6 1146.8C1717.43 1149.52 1722.93 1154.88 1726 1159C1729.07 1163.12 1730.33 1168.03 1730 1171.5C1729.67 1174.97 1729.83 1178.28 1724 1179.8C1718.17 1181.32 1703.93 1180.6 1695 1180.6C1686.07 1180.6 1673.82 1182 1670.4 1179.8C1666.98 1177.6 1671.97 1171.87 1674.5 1167.4C1677.03 1162.93 1683.75 1155.4 1685.6 1153" fill="none" stroke="#f4eeb8" stroke-width="10" stroke-linecap="round" stroke-linejoin="round" filter="url(#b3)"/>
<path d="M1691 1142.7C1694.43 1143.38 1705.77 1144.08 1711.6 1146.8C1717.43 1149.52 1722.93 1154.88 1726 1159C1729.07 1163.12 1730.33 1168.03 1730 1171.5C1729.67 1174.97 1729.83 1178.28 1724 1179.8C1718.17 1181.32 1703.93 1180.6 1695 1180.6C1686.07 1180.6 1673.82 1182 1670.4 1179.8C1666.98 1177.6 1671.97 1171.87 1674.5 1167.4C1677.03 1162.93 1683.75 1155.4 1685.6 1153" fill="none" stroke="#d0b040" stroke-width="4.5" stroke-linecap="round" stroke-linejoin="round" filter="url(#b1_2)"/>
<path d="M1691 1142.7C1694.43 1143.38 1705.77 1144.08 1711.6 1146.8C1717.43 1149.52 1722.93 1154.88 1726 1159C1729.07 1163.12 1730.33 1168.03 1730 1171.5C1729.67 1174.97 1729.83 1178.28 1724 1179.8C1718.17 1181.32 1703.93 1180.6 1695 1180.6C1686.07 1180.6 1673.82 1182 1670.4 1179.8C1666.98 1177.6 1671.97 1171.87 1674.5 1167.4C1677.03 1162.93 1683.75 1155.4 1685.6 1153" fill="none" stroke="#000" stroke-width="2.4" stroke-linejoin="round"/>
<path d="M1612.6 1163.3C1613.83 1160.25 1616.27 1150.55 1620 1145C1623.73 1139.45 1629.17 1134.83 1635 1130C1640.83 1125.17 1649.1 1119.05 1655 1116C1660.9 1112.95 1667.83 1112.42 1670.4 1111.7" fill="none" stroke="#f4eeb0" stroke-width="9" stroke-linecap="round" stroke-linejoin="round" filter="url(#b2)"/><path d="M1612.6 1163.3C1613.83 1160.25 1616.27 1150.55 1620 1145C1623.73 1139.45 1629.17 1134.83 1635 1130C1640.83 1125.17 1649.1 1119.05 1655 1116C1660.9 1112.95 1667.83 1112.42 1670.4 1111.7" fill="none" stroke="#d8c450" stroke-width="4.5" stroke-linecap="round" stroke-linejoin="round" filter="url(#b1)"/><path d="M1612.6 1163.3C1613.83 1160.25 1616.27 1150.55 1620 1145C1623.73 1139.45 1629.17 1134.83 1635 1130C1640.83 1125.17 1649.1 1119.05 1655 1116C1660.9 1112.95 1667.83 1112.42 1670.4 1111.7" fill="none" stroke="#000" stroke-width="1.6" stroke-linejoin="round"/>
<path d="M1640 1190C1640.83 1188.67 1643.03 1183 1645 1182C1646.97 1181 1650.67 1183.67 1651.8 1184" fill="none" stroke="#f4eeb0" stroke-width="9" stroke-linecap="round" stroke-linejoin="round" filter="url(#b2)"/><path d="M1640 1190C1640.83 1188.67 1643.03 1183 1645 1182C1646.97 1181 1650.67 1183.67 1651.8 1184" fill="none" stroke="#d8c450" stroke-width="4.5" stroke-linecap="round" stroke-linejoin="round" filter="url(#b1)"/><path d="M1640 1190C1640.83 1188.67 1643.03 1183 1645 1182C1646.97 1181 1650.67 1183.67 1651.8 1184" fill="none" stroke="#000" stroke-width="1.2" stroke-linejoin="round"/>
</g>
<circle cx="1665" cy="1121.2" r="4.4" fill="#ff0000"/>
<circle cx="1621.7" cy="1164.1" r="4.4" fill="#0000ff"/>
<circle cx="1693" cy="1139.8" r="4.4" fill="#ff0000"/>
<circle cx="1685.6" cy="1151" r="4.4" fill="#0000ff"/>
<circle cx="1651.8" cy="1184" r="4.4" fill="#ff0000"/>
<circle cx="1640.7" cy="1192.2" r="4.4" fill="#0000ff"/>
<text x="1705" y="1229.3" font-size="28" font-weight="bold" >W3</text>
<path d="M1703.4 1214.9L1654.81 1198.68" stroke="#000" stroke-width="1.1" fill="none"/><path d="M1647.7 1196.3L1658.29 1196.15L1654.81 1198.68L1656.08 1202.79z" fill="#000"/>
<path d="M1717.8 1210.7L1697.38 1149.81" stroke="#000" stroke-width="1.1" fill="none"/><path d="M1695 1142.7L1701.5 1151.07L1697.38 1149.81L1694.86 1153.29z" fill="#000"/>
<rect x="1544.5" y="1043.8" width="218.7" height="217.3" fill="none" stroke="#000" stroke-width="1.3"/>
<path d="M1539 1261.2h5.5M1541.5 1250.33h3M1541.5 1239.46h3M1541.5 1228.59h3M1541.5 1217.72h3M1541.5 1206.85h3M1541.5 1195.98h3M1541.5 1185.11h3M1541.5 1174.24h3M1541.5 1163.37h3M1539 1152.5h5.5M1541.5 1141.63h3M1541.5 1130.76h3M1541.5 1119.89h3M1541.5 1109.02h3M1541.5 1098.15h3M1541.5 1087.28h3M1541.5 1076.41h3M1541.5 1065.54h3M1541.5 1054.67h3M1539 1043.8h5.5" stroke="#000" stroke-width="1.3" fill="none"/>
<path d="M1544.5 1261.1v5.5M1555.43 1261.1v3M1566.37 1261.1v3M1577.3 1261.1v3M1588.24 1261.1v3M1599.17 1261.1v3M1610.11 1261.1v3M1621.04 1261.1v3M1631.98 1261.1v3M1642.91 1261.1v3M1653.85 1261.1v5.5M1664.78 1261.1v3M1675.72 1261.1v3M1686.65 1261.1v3M1697.59 1261.1v3M1708.53 1261.1v3M1719.46 1261.1v3M1730.39 1261.1v3M1741.33 1261.1v3M1752.27 1261.1v3M1763.2 1261.1v5.5" stroke="#000" stroke-width="1.3" fill="none"/>
<text x="1544.5" y="1283.6" font-size="20" text-anchor="middle" >-0.4</text>
<text x="1653.85" y="1283.6" font-size="20" text-anchor="middle" >-0.3</text>
<text x="1763.2" y="1283.6" font-size="20" text-anchor="middle" >-0.2</text>
<text x="1622" y="1308.7" font-size="29" >k</text>
<text x="1653" y="1308.7" font-size="29" >(&#197;<tspan font-size="17" dy="-9.5">-1</tspan><tspan dy="9.5">)</tspan></text>
<text x="1549.5" y="1071.5" font-size="32" font-weight="bold" >2</text>
<text x="1616" y="1032.3" font-size="24" font-weight="bold" >E = E<tspan font-size="15" dy="9">W3</tspan></text>
<g clip-path="url(#cp28)">
<rect x="1800.3" y="1043.8" width="218.7" height="217.3" fill="#ffffff"/>
<path d="M1938.6 1138.5C1942.17 1139.08 1952.43 1139.25 1960 1142C1967.57 1144.75 1977.95 1150.08 1984 1155C1990.05 1159.92 1995.63 1166.33 1996.3 1171.5C1996.97 1176.67 1994.05 1183.25 1988 1186C1981.95 1188.75 1971 1187.67 1960 1188C1949 1188.33 1931.77 1188 1922 1188C1912.23 1188 1906.23 1189 1901.4 1188C1896.57 1187 1893.73 1184.33 1893 1182C1892.27 1179.67 1895 1175.17 1897 1174C1899 1172.83 1903.67 1174.83 1905 1175" fill="none" stroke="#f4eeb8" stroke-width="11" stroke-linecap="round" stroke-linejoin="round" filter="url(#b3)"/>
<path d="M1938.6 1138.5C1942.17 1139.08 1952.43 1139.25 1960 1142C1967.57 1144.75 1977.95 1150.08 1984 1155C1990.05 1159.92 1995.63 1166.33 1996.3 1171.5C1996.97 1176.67 1994.05 1183.25 1988 1186C1981.95 1188.75 1971 1187.67 1960 1188C1949 1188.33 1931.77 1188 1922 1188C1912.23 1188 1906.23 1189 1901.4 1188C1896.57 1187 1893.73 1184.33 1893 1182C1892.27 1179.67 1895 1175.17 1897 1174C1899 1172.83 1903.67 1174.83 1905 1175" fill="none" stroke="#d0b040" stroke-width="4.5" stroke-linecap="round" stroke-linejoin="round" filter="url(#b1_2)"/>
<path d="M1938.6 1138.5C1942.17 1139.08 1952.43 1139.25 1960 1142C1967.57 1144.75 1977.95 1150.08 1984 1155C1990.05 1159.92 1995.63 1166.33 1996.3 1171.5C1996.97 1176.67 1994.05 1183.25 1988 1186C1981.95 1188.75 1971 1187.67 1960 1188C1949 1188.33 1931.77 1188 1922 1188C1912.23 1188 1906.23 1189 1901.4 1188C1896.57 1187 1893.73 1184.33 1893 1182C1892.27 1179.67 1895 1175.17 1897 1174C1899 1172.83 1903.67 1174.83 1905 1175" fill="none" stroke="#000" stroke-width="2.4" stroke-linejoin="round"/>
<path d="M1860.2 1163.3C1860.5 1160.25 1858.57 1151.22 1862 1145C1865.43 1138.78 1873.63 1132.17 1880.8 1126C1887.97 1119.83 1896.75 1111.75 1905 1108C1913.25 1104.25 1924.8 1103.17 1930.3 1103.5C1935.8 1103.83 1937.38 1107.25 1938 1110C1938.62 1112.75 1934.67 1118.33 1934 1120" fill="none" stroke="#f4eeb8" stroke-width="11" stroke-linecap="round" stroke-linejoin="round" filter="url(#b3)"/>
<path d="M1860.2 1163.3C1860.5 1160.25 1858.57 1151.22 1862 1145C1865.43 1138.78 1873.63 1132.17 1880.8 1126C1887.97 1119.83 1896.75 1111.75 1905 1108C1913.25 1104.25 1924.8 1103.17 1930.3 1103.5C1935.8 1103.83 1937.38 1107.25 1938 1110C1938.62 1112.75 1934.67 1118.33 1934 1120" fill="none" stroke="#f4eeb0" stroke-width="9" stroke-linecap="round" stroke-linejoin="round" filter="url(#b2)"/><path d="M1860.2 1163.3C1860.5 1160.25 1858.57 1151.22 1862 1145C1865.43 1138.78 1873.63 1132.17 1880.8 1126C1887.97 1119.83 1896.75 1111.75 1905 1108C1913.25 1104.25 1924.8 1103.17 1930.3 1103.5C1935.8 1103.83 1937.38 1107.25 1938 1110C1938.62 1112.75 1934.67 1118.33 1934 1120" fill="none" stroke="#d8c450" stroke-width="4.5" stroke-linecap="round" stroke-linejoin="round" filter="url(#b1)"/><path d="M1860.2 1163.3C1860.5 1160.25 1858.57 1151.22 1862 1145C1865.43 1138.78 1873.63 1132.17 1880.8 1126C1887.97 1119.83 1896.75 1111.75 1905 1108C1913.25 1104.25 1924.8 1103.17 1930.3 1103.5C1935.8 1103.83 1937.38 1107.25 1938 1110C1938.62 1112.75 1934.67 1118.33 1934 1120" fill="none" stroke="#000" stroke-width="1.8" stroke-linejoin="round"/>
<path d="M1935 1160C1934.5 1158.33 1931.17 1153.33 1932 1150C1932.83 1146.67 1938.67 1141.67 1940 1140" fill="none" stroke="#f4eeb0" stroke-width="9" stroke-linecap="round" stroke-linejoin="round" filter="url(#b2)"/><path d="M1935 1160C1934.5 1158.33 1931.17 1153.33 1932 1150C1932.83 1146.67 1938.67 1141.67 1940 1140" fill="none" stroke="#d8c450" stroke-width="4.5" stroke-linecap="round" stroke-linejoin="round" filter="url(#b1)"/><path d="M1935 1160C1934.5 1158.33 1931.17 1153.33 1932 1150C1932.83 1146.67 1938.67 1141.67 1940 1140" fill="none" stroke="#000" stroke-width="1.4" stroke-linejoin="round"/>
</g>
<circle cx="1921.2" cy="1121.2" r="4.4" fill="#ff0000"/>
<circle cx="1878.7" cy="1164.1" r="4.4" fill="#0000ff"/>
<circle cx="1949.7" cy="1139.8" r="4.4" fill="#ff0000"/>
<circle cx="1941.8" cy="1151" r="4.4" fill="#0000ff"/>
<circle cx="1908.8" cy="1184" r="4.4" fill="#ff0000"/>
<circle cx="1897.3" cy="1192.2" r="4.4" fill="#0000ff"/>
<text x="1962.5" y="1239.6" font-size="28" font-weight="bold" >W4</text>
<path d="M1961 1214.9L1918.38 1191.6" stroke="#000" stroke-width="1.1" fill="none"/><path d="M1911.8 1188L1922.25 1189.73L1918.38 1191.6L1918.9 1195.87z" fill="#000"/>
<path d="M1967.4 1212.8L1945.74 1163.96" stroke="#000" stroke-width="1.1" fill="none"/><path d="M1942.7 1157.1L1949.95 1164.82L1945.74 1163.96L1943.55 1167.66z" fill="#000"/>
<rect x="1800.3" y="1043.8" width="218.7" height="217.3" fill="none" stroke="#000" stroke-width="1.3"/>
<path d="M1794.8 1261.2h5.5M1797.3 1250.33h3M1797.3 1239.46h3M1797.3 1228.59h3M1797.3 1217.72h3M1797.3 1206.85h3M1797.3 1195.98h3M1797.3 1185.11h3M1797.3 1174.24h3M1797.3 1163.37h3M1794.8 1152.5h5.5M1797.3 1141.63h3M1797.3 1130.76h3M1797.3 1119.89h3M1797.3 1109.02h3M1797.3 1098.15h3M1797.3 1087.28h3M1797.3 1076.41h3M1797.3 1065.54h3M1797.3 1054.67h3M1794.8 1043.8h5.5" stroke="#000" stroke-width="1.3" fill="none"/>
<path d="M1800.3 1261.1v5.5M1811.24 1261.1v3M1822.17 1261.1v3M1833.11 1261.1v3M1844.04 1261.1v3M1854.98 1261.1v3M1865.91 1261.1v3M1876.85 1261.1v3M1887.78 1261.1v3M1898.72 1261.1v3M1909.65 1261.1v5.5M1920.59 1261.1v3M1931.52 1261.1v3M1942.45 1261.1v3M1953.39 1261.1v3M1964.33 1261.1v3M1975.26 1261.1v3M1986.19 1261.1v3M1997.13 1261.1v3M2008.07 1261.1v3M2019 1261.1v5.5" stroke="#000" stroke-width="1.3" fill="none"/>
<text x="1800.3" y="1283.6" font-size="20" text-anchor="middle" >-0.4</text>
<text x="1909.65" y="1283.6" font-size="20" text-anchor="middle" >-0.3</text>
<text x="2019" y="1283.6" font-size="20" text-anchor="middle" >-0.2</text>
<text x="1877.8" y="1308.7" font-size="29" >k</text>
<text x="1908.8" y="1308.7" font-size="29" >(&#197;<tspan font-size="17" dy="-9.5">-1</tspan><tspan dy="9.5">)</tspan></text>
<text x="1805.3" y="1071.5" font-size="32" font-weight="bold" >3</text>
<text x="1871.7" y="1032.3" font-size="24" font-weight="bold" >E = E<tspan font-size="15" dy="9">W4</tspan></text>
<text transform="translate(1250 1153) rotate(-90)" font-size="31" text-anchor="middle">k<tspan font-size="20" dy="7">y</tspan><tspan dy="-7"> (&#197;</tspan><tspan font-size="17" dy="-10">-1</tspan><tspan dy="10">)</tspan></text>
</svg>
</body></html>
